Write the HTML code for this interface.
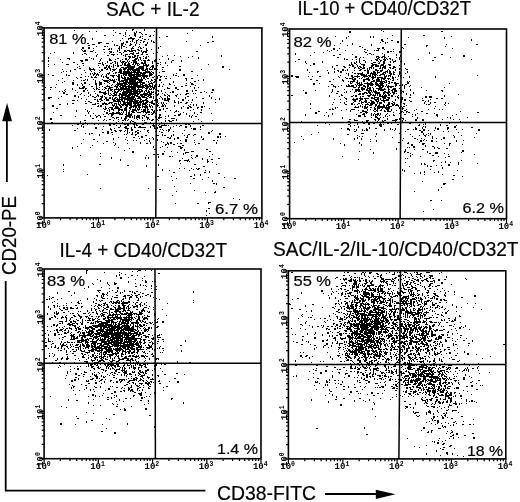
<!DOCTYPE html>
<html><head><meta charset="utf-8"><style>
html,body{margin:0;padding:0;background:#fff;width:520px;height:502px;overflow:hidden}
svg{display:block;filter:grayscale(100%)}
</style></head><body>
<svg width="520" height="502" viewBox="0 0 520 502">
<style>.tl{font-family:"Liberation Mono",monospace;font-weight:bold;font-size:9px;fill:#000}.t{font-family:"Liberation Sans",sans-serif;font-size:19px;fill:#000}.tx{font-family:"Liberation Sans",sans-serif;fill:#000;stroke:#000;stroke-width:0.2px}</style>
<path d="M162 86.5h1M120 72.5h1M130 53.5h1M156 82.5h1M143 83.5h2M120 65.5h2M146 98.5h2M141 109.5h1M135 90.5h1M137 92.5h1M139 74.5h2M141 91.5h1M131 120.5h1M137 75.5h1M121 81.5h2M140 89.5h1M133 97.5h1M143 106.5h1M145 110.5h1M142 115.5h2M138 136.5h1M129 61.5h1M138 103.5h1M141 80.5h1M120 99.5h2M135 101.5h1M142 86.5h2M148 109.5h1M140 95.5h1M133 121.5h1M139 101.5h1M130 82.5h1M142 87.5h1M140 80.5h1M115 61.5h1M128 65.5h1M135 60.5h1M149 69.5h1M138 74.5h1M143 78.5h2M134 82.5h1M132 79.5h1M127 93.5h1M145 88.5h2M135 101.5h2M118 88.5h1M127 116.5h1M142 120.5h1M131 100.5h2M156 70.5h1M109 81.5h1M140 91.5h2M130 89.5h2M121 85.5h2M137 56.5h1M121 83.5h1M124 73.5h1M143 100.5h1M147 118.5h1M135 88.5h1M142 94.5h1M125 78.5h1M112 71.5h1M141 79.5h1M119 84.5h1M125 56.5h1M130 103.5h1M134 94.5h1M127 78.5h2M133 85.5h2M117 76.5h1M141 73.5h2M151 101.5h2M138 87.5h1M118 112.5h2M115 92.5h2M137 94.5h1M146 76.5h1M127 91.5h2M109 111.5h1M133 101.5h1M153 72.5h1M129 87.5h1M154 81.5h2M133 71.5h2M139 75.5h1M127 84.5h1M162 105.5h1M141 84.5h1M135 98.5h1M132 54.5h2M143 82.5h1M123 72.5h2M130 79.5h1M136 43.5h1M142 75.5h2M146 105.5h1M133 91.5h1M122 67.5h2M141 111.5h1M122 93.5h1M123 97.5h1M138 116.5h1M146 77.5h1M137 123.5h1M132 101.5h2M132 98.5h1M122 92.5h1M125 99.5h1M131 113.5h1M147 87.5h1M134 105.5h1M118 74.5h1M134 86.5h2M123 90.5h1M142 94.5h2M144 72.5h2M157 90.5h2M136 95.5h1M144 97.5h1M149 89.5h2M134 74.5h1M116 93.5h1M142 74.5h2M116 75.5h1M115 97.5h2M111 103.5h1M134 80.5h1M149 71.5h1M135 70.5h2M135 110.5h2M125 82.5h2M143 56.5h1M132 83.5h1M134 79.5h1M142 86.5h1M144 92.5h1M113 80.5h2M127 96.5h2M145 84.5h2M141 60.5h1M137 55.5h2M149 76.5h1M140 107.5h1M127 103.5h2M119 82.5h1M139 96.5h1M135 127.5h1M135 71.5h1M118 80.5h2M148 84.5h2M151 109.5h2M118 119.5h1M147 60.5h1M127 88.5h2M141 79.5h1M120 105.5h1M152 100.5h1M129 38.5h2M140 68.5h2M123 97.5h1M140 107.5h1M137 98.5h2M120 73.5h1M145 108.5h1M114 86.5h1M140 99.5h2M137 115.5h1M133 90.5h1M128 50.5h2M152 87.5h2M150 87.5h1M145 97.5h2M123 71.5h1M131 93.5h2M124 98.5h1M124 97.5h2M145 86.5h1M114 92.5h1M132 68.5h1M139 80.5h1M134 90.5h1M132 95.5h1M128 59.5h1M126 83.5h1M118 84.5h1M129 71.5h1M132 47.5h1M139 106.5h1M123 101.5h1M124 99.5h2M130 86.5h1M137 95.5h1M128 85.5h2M147 87.5h2M137 70.5h1M152 84.5h1M121 62.5h1M144 109.5h2M120 85.5h2M131 85.5h1M129 86.5h1M122 105.5h2M126 79.5h1M126 47.5h1M153 66.5h1M140 95.5h1M136 111.5h1M133 124.5h1M152 65.5h1M134 95.5h2M123 82.5h1M145 104.5h1M134 72.5h1M126 79.5h1M129 95.5h1M126 89.5h1M156 100.5h2M145 71.5h1M141 109.5h1M131 69.5h1M132 97.5h2M142 111.5h1M133 97.5h2M153 88.5h2M135 79.5h2M146 75.5h1M127 54.5h1M121 104.5h1M144 106.5h1M141 84.5h2M132 41.5h1M127 91.5h1M111 94.5h1M125 68.5h2M135 78.5h2M123 78.5h2M125 91.5h1M132 97.5h1M135 83.5h1M135 76.5h1M125 89.5h1M140 80.5h1M134 56.5h2M137 71.5h1M125 91.5h1M158 86.5h2M119 89.5h1M132 82.5h1M123 95.5h1M157 69.5h1M147 119.5h1M149 86.5h2M130 68.5h2M124 86.5h2M144 60.5h2M146 58.5h1M134 62.5h1M123 93.5h2M158 93.5h1M139 85.5h1M147 71.5h2M131 93.5h1M134 97.5h1M146 56.5h1M123 95.5h2M128 99.5h1M134 81.5h2M139 138.5h1M142 103.5h1M130 75.5h1M140 99.5h2M134 75.5h1M115 100.5h1M134 101.5h1M132 117.5h1M132 80.5h1M130 106.5h1M144 87.5h1M129 65.5h2M140 72.5h1M127 65.5h2M159 85.5h1M124 84.5h1M112 62.5h1M126 111.5h1M134 104.5h1M147 88.5h1M126 62.5h1M146 90.5h1M130 90.5h1M136 72.5h1M140 81.5h1M144 85.5h2M134 110.5h1M153 73.5h1M133 80.5h1M146 122.5h1M146 48.5h1M138 80.5h1M129 93.5h1M144 63.5h1M120 109.5h1M121 70.5h1M129 93.5h1M120 89.5h2M130 95.5h1M148 91.5h2M129 90.5h1M120 73.5h2M130 99.5h1M126 71.5h1M132 70.5h1M135 71.5h1M120 103.5h1M129 97.5h1M135 64.5h1M142 100.5h1M133 89.5h2M133 75.5h1M146 103.5h1M115 81.5h1M130 107.5h2M130 79.5h1M136 78.5h2M155 68.5h1M117 54.5h1M129 112.5h1M125 50.5h1M134 66.5h1M149 83.5h2M150 81.5h1M141 87.5h1M123 94.5h1M140 76.5h1M125 116.5h2M146 107.5h1M131 78.5h1M140 76.5h1M149 119.5h1M141 102.5h1M126 99.5h2M122 83.5h1M126 83.5h1M149 102.5h1M133 70.5h1M125 93.5h2M129 92.5h1M112 95.5h1M135 82.5h2M132 72.5h1M137 116.5h1M118 72.5h1M129 79.5h1M125 82.5h2M149 104.5h1M124 110.5h2M125 94.5h1M143 74.5h2M132 98.5h2M143 82.5h2M128 83.5h2M138 82.5h1M127 103.5h1M132 89.5h1M113 77.5h1M123 98.5h1M122 78.5h2M138 87.5h1M116 108.5h1M128 82.5h1M137 102.5h1M135 62.5h1M135 61.5h1M134 99.5h2M132 64.5h1M144 77.5h1M128 79.5h1M121 99.5h1M131 87.5h1M124 124.5h1M139 109.5h1M120 89.5h1M143 112.5h1M142 96.5h1M125 88.5h1M119 109.5h1M137 65.5h2M147 87.5h1M144 39.5h2M134 85.5h2M128 85.5h1M128 69.5h1M134 109.5h2M128 56.5h1M127 99.5h1M132 91.5h1M97 101.5h1M119 78.5h1M134 117.5h1M129 58.5h1M138 87.5h2M157 99.5h1M142 97.5h2M142 80.5h1M133 89.5h1M124 77.5h2M126 102.5h2M117 58.5h2M143 103.5h1M138 72.5h2M130 114.5h1M124 85.5h1M127 97.5h1M125 79.5h1M138 86.5h2M148 71.5h1M125 71.5h1M142 124.5h2M121 87.5h1M130 99.5h1M114 75.5h1M128 87.5h1M130 73.5h1M137 78.5h2M155 113.5h2M136 53.5h1M140 101.5h2M113 100.5h1M144 95.5h2M116 75.5h1M140 101.5h1M124 85.5h1M132 77.5h1M126 90.5h1M135 94.5h1M147 78.5h2M135 85.5h2M128 91.5h1M137 82.5h1M152 86.5h1M136 72.5h1M142 80.5h1M170 78.5h1M129 82.5h1M134 55.5h2M137 49.5h2M140 59.5h1M133 97.5h2M133 50.5h2M117 108.5h2M124 76.5h1M132 72.5h1M136 105.5h2M145 57.5h2M126 90.5h1M127 95.5h2M120 101.5h1M147 86.5h2M131 69.5h2M136 75.5h1M135 103.5h1M139 107.5h2M138 60.5h1M129 94.5h1M134 89.5h1M125 59.5h1M139 91.5h1M150 102.5h2M175 102.5h1M136 86.5h2M115 72.5h1M144 87.5h1M142 120.5h1M167 94.5h1M131 101.5h1M131 97.5h1M128 102.5h1M123 83.5h1M112 84.5h1M125 62.5h2M134 122.5h2M141 67.5h2M144 94.5h1M132 79.5h1M141 81.5h1M125 84.5h1M148 114.5h2M126 72.5h2M139 112.5h1M125 96.5h1M145 69.5h2M132 84.5h1M133 93.5h1M134 123.5h1M131 82.5h1M132 97.5h1M126 54.5h1M134 109.5h1M142 63.5h1M143 63.5h2M142 70.5h2M137 104.5h2M112 112.5h2M130 81.5h1M139 104.5h2M124 86.5h1M142 75.5h1M120 91.5h1M130 82.5h2M114 80.5h1M132 98.5h1M133 103.5h2M138 89.5h1M137 82.5h1M130 78.5h1M142 52.5h1M141 87.5h1M136 82.5h1M132 96.5h1M144 72.5h1M116 89.5h1M134 109.5h1M119 84.5h1M133 109.5h1M145 79.5h1M124 94.5h1M132 98.5h1M130 72.5h2M135 63.5h1M139 104.5h1M144 94.5h1M138 63.5h1M137 83.5h1M152 72.5h2M141 89.5h1M132 80.5h1M132 74.5h1M124 65.5h2M130 77.5h2M129 95.5h1M120 94.5h2M128 68.5h2M134 81.5h2M125 86.5h1M140 94.5h2M143 109.5h1M135 89.5h1M143 101.5h1M126 104.5h1M137 49.5h1M131 89.5h1M105 94.5h1M129 117.5h1M138 69.5h1M137 92.5h1M125 91.5h1M134 77.5h2M123 102.5h1M154 82.5h1M134 92.5h2M107 82.5h2M150 97.5h2M137 69.5h1M140 73.5h1M120 107.5h1M148 86.5h2M124 80.5h1M144 63.5h2M141 63.5h1M141 95.5h1M134 83.5h1M136 96.5h1M140 94.5h1M127 104.5h2M112 69.5h1M137 79.5h1M119 81.5h2M115 97.5h2M151 86.5h2M121 99.5h1M136 86.5h1M133 96.5h1M131 98.5h1M126 110.5h1M146 51.5h1M163 103.5h1M138 88.5h1M125 71.5h1M121 98.5h1M155 86.5h1M128 113.5h2M125 82.5h1M116 107.5h1M150 93.5h1M108 108.5h1M135 105.5h1M139 97.5h1M147 96.5h2M139 75.5h1M138 74.5h1M135 94.5h1M128 92.5h1M131 78.5h1M128 72.5h1M143 102.5h1M142 97.5h1M121 67.5h1M148 71.5h1M126 88.5h2M129 84.5h1M134 76.5h1M134 78.5h1M126 51.5h1M126 111.5h1M148 56.5h1M151 94.5h1M133 92.5h1M125 71.5h2M128 99.5h1M132 60.5h1M157 95.5h1M154 68.5h1M155 99.5h2M124 94.5h1M131 111.5h1M124 93.5h1M126 88.5h1M122 62.5h2M133 69.5h1M141 101.5h1M141 82.5h1M139 67.5h1M151 91.5h1M133 79.5h1M160 62.5h1M144 87.5h1M127 70.5h1M145 112.5h1M132 121.5h1M143 69.5h1M129 114.5h2M110 113.5h1M124 74.5h1M119 70.5h1M128 86.5h1M127 98.5h2M136 102.5h1M128 98.5h1M144 74.5h1M130 74.5h2M146 139.5h1M143 110.5h1M116 99.5h1M104 87.5h2M139 82.5h2M122 98.5h1M143 76.5h1M142 76.5h2M130 41.5h1M131 73.5h1M140 67.5h1M122 73.5h2M142 70.5h2M151 79.5h1M140 98.5h1M113 96.5h1M143 85.5h1M123 112.5h1M135 69.5h2M121 97.5h2M139 105.5h1M143 111.5h2M117 85.5h1M123 80.5h1M117 91.5h1M142 104.5h1M143 60.5h1M131 99.5h1M129 61.5h1M125 89.5h1M134 38.5h1M112 97.5h1M129 72.5h1M134 82.5h2M134 80.5h1M145 93.5h1M129 87.5h1M151 71.5h1M130 68.5h2M152 61.5h1M135 91.5h1M129 51.5h2M117 64.5h1M126 89.5h1M129 105.5h1M129 89.5h1M139 92.5h2M127 128.5h1M137 85.5h1M139 64.5h1M115 73.5h1M133 79.5h2M120 85.5h1M123 68.5h2M119 83.5h1M129 72.5h1M165 62.5h1M123 97.5h1M117 76.5h2M127 90.5h1M133 75.5h1M125 80.5h1M123 103.5h2M127 82.5h2M131 104.5h1M127 100.5h1M130 109.5h1M125 93.5h2M110 87.5h2M143 93.5h1M135 74.5h1M124 79.5h1M114 113.5h2M139 79.5h2M137 85.5h1M125 83.5h2M153 103.5h1M140 83.5h1M136 90.5h2M162 93.5h1M139 64.5h1M130 102.5h2M137 90.5h1M135 104.5h1M128 89.5h1M131 97.5h2M150 69.5h1M125 78.5h1M113 93.5h1M135 76.5h1M134 115.5h1M130 93.5h2M135 83.5h2M127 131.5h1M151 105.5h1M147 104.5h1M118 91.5h1M132 91.5h1M137 64.5h1M131 71.5h1M127 104.5h2M118 80.5h1M150 67.5h1M146 50.5h2M152 92.5h1M137 89.5h2M125 96.5h2M134 94.5h1M137 84.5h1M121 67.5h1M151 91.5h1M134 81.5h1M144 96.5h1M138 67.5h1M149 94.5h1M153 96.5h1M132 60.5h1M160 117.5h2M128 95.5h1M152 103.5h1M124 91.5h2M138 98.5h1M160 64.5h1M133 111.5h1M113 76.5h1M140 112.5h1M138 115.5h1M145 95.5h1M127 50.5h1M135 106.5h2M147 76.5h1M156 56.5h1M129 69.5h2M125 75.5h1M128 96.5h2M138 39.5h1M134 105.5h1M106 120.5h1M136 103.5h1M131 91.5h1M147 102.5h1M120 61.5h1M131 97.5h1M130 82.5h1M153 67.5h1M125 98.5h1M105 87.5h1M136 75.5h1M143 58.5h1M136 77.5h1M127 120.5h1M159 72.5h1M113 120.5h1M145 90.5h1M148 92.5h1M131 91.5h1M137 100.5h1M126 59.5h1M119 95.5h1M133 81.5h1M123 92.5h1M125 94.5h1M137 91.5h1M127 71.5h2M126 65.5h2M133 94.5h1M132 30.5h1M134 85.5h1M133 74.5h1M135 71.5h1M119 77.5h1M141 79.5h2M140 84.5h1M140 72.5h1M141 90.5h2M159 114.5h1M132 94.5h1M133 97.5h1M137 96.5h1M140 85.5h1M110 75.5h2M138 50.5h1M132 72.5h1M101 100.5h1M151 114.5h2M130 98.5h1M123 103.5h1M151 80.5h2M153 98.5h1M138 107.5h1M125 85.5h1M137 90.5h1M118 88.5h1M130 105.5h2M132 84.5h1M134 90.5h2M137 65.5h1M150 72.5h1M132 70.5h2M149 97.5h1M114 79.5h1M125 108.5h1M138 91.5h1M130 80.5h1M139 66.5h2M133 69.5h1M134 83.5h1M140 101.5h1M149 93.5h1M121 65.5h1M137 100.5h1M144 70.5h1M133 63.5h1M126 96.5h1M132 78.5h2M128 87.5h1M127 65.5h2M163 84.5h1M139 96.5h1M126 91.5h2M125 105.5h1M132 70.5h1M116 95.5h1M144 116.5h1M126 113.5h1M146 93.5h1M132 97.5h1M117 65.5h1M132 80.5h1M138 98.5h2M133 105.5h1M157 104.5h1M142 82.5h1M140 95.5h1M143 86.5h1M145 90.5h1M121 80.5h1M148 81.5h1M140 105.5h1M146 95.5h1M126 75.5h1M123 52.5h1M138 47.5h1M148 90.5h1M131 72.5h2M133 66.5h2M149 92.5h1M152 77.5h2M118 107.5h1M133 86.5h1M122 89.5h2M155 59.5h2M131 73.5h1M136 85.5h1M155 84.5h1M131 77.5h1M126 134.5h1M158 105.5h1M131 76.5h1M127 41.5h1M130 87.5h2M137 53.5h1M137 87.5h1M136 111.5h1M146 106.5h1M141 78.5h1M151 66.5h2M127 99.5h1M138 78.5h1M115 107.5h1M122 59.5h1M152 110.5h1M90 70.5h1M128 75.5h1M96 96.5h1M104 102.5h1M147 92.5h2M111 107.5h1M128 68.5h1M135 72.5h1M122 94.5h1M91 58.5h1M102 103.5h1M156 68.5h1M119 52.5h2M160 96.5h1M84 53.5h2M124 83.5h1M106 104.5h2M145 34.5h2M126 87.5h1M126 80.5h1M94 72.5h1M93 50.5h1M181 86.5h2M115 101.5h2M122 104.5h1M137 72.5h1M178 103.5h1M111 85.5h1M99 72.5h1M121 75.5h1M121 95.5h2M119 110.5h1M156 74.5h1M107 110.5h1M66 71.5h1M134 71.5h1M116 86.5h1M114 91.5h1M172 120.5h2M110 93.5h1M153 94.5h1M121 96.5h1M122 95.5h2M125 44.5h1M139 89.5h2M130 68.5h1M136 116.5h2M119 108.5h1M129 100.5h1M146 81.5h1M120 106.5h1M144 73.5h2M127 78.5h2M130 101.5h2M129 111.5h1M126 30.5h1M111 132.5h2M125 86.5h1M77 78.5h1M104 89.5h1M123 75.5h1M117 84.5h1M122 120.5h2M143 47.5h1M102 86.5h1M132 100.5h1M103 49.5h2M84 95.5h1M126 41.5h1M134 94.5h1M140 95.5h1M163 71.5h2M124 92.5h1M169 84.5h2M145 51.5h1M129 96.5h1M125 51.5h1M115 59.5h1M113 101.5h1M119 101.5h1M127 89.5h1M145 94.5h2M109 79.5h1M167 55.5h1M132 86.5h1M116 68.5h1M114 95.5h2M110 63.5h2M128 100.5h1M145 102.5h1M92 118.5h2M115 89.5h2M86 123.5h1M155 89.5h2M138 106.5h2M139 86.5h1M153 103.5h2M123 104.5h2M93 74.5h1M109 107.5h2M123 93.5h1M113 105.5h2M106 69.5h1M138 59.5h1M123 69.5h2M128 69.5h1M109 102.5h2M124 46.5h1M138 102.5h1M118 75.5h1M76 77.5h1M161 106.5h2M149 104.5h1M133 89.5h1M127 95.5h1M154 61.5h1M135 72.5h1M122 101.5h1M108 89.5h1M94 69.5h1M137 40.5h1M119 94.5h2M82 87.5h2M100 71.5h1M132 112.5h1M120 114.5h2M131 90.5h1M131 127.5h1M104 99.5h1M118 95.5h1M137 85.5h1M81 98.5h1M159 37.5h1M99 87.5h1M185 94.5h1M121 46.5h1M147 75.5h1M101 92.5h2M141 54.5h1M126 98.5h2M99 70.5h1M85 79.5h1M132 88.5h1M113 124.5h2M81 77.5h1M130 97.5h1M109 97.5h1M139 87.5h1M121 54.5h1M87 90.5h1M132 75.5h1M121 45.5h2M93 79.5h1M130 114.5h1M132 116.5h1M131 94.5h1M134 61.5h2M190 104.5h1M153 65.5h1M159 59.5h1M121 114.5h2M152 66.5h1M141 84.5h2M140 84.5h1M136 59.5h1M114 99.5h1M126 117.5h1M118 76.5h1M135 85.5h1M124 92.5h1M115 95.5h1M117 112.5h2M126 68.5h1M129 93.5h1M109 83.5h1M119 101.5h1M152 119.5h2M133 46.5h1M152 77.5h1M138 70.5h2M129 65.5h2M119 94.5h2M97 101.5h1M117 82.5h1M155 84.5h1M121 72.5h1M133 82.5h1M114 100.5h1M127 86.5h1M141 75.5h1M112 91.5h1M135 84.5h1M100 42.5h1M164 89.5h1M137 57.5h1M116 106.5h1M125 68.5h2M126 58.5h1M115 63.5h1M122 114.5h1M140 79.5h1M117 101.5h2M129 132.5h1M112 84.5h1M144 109.5h1M165 111.5h1M159 116.5h1M99 85.5h1M145 111.5h1M136 118.5h1M110 88.5h1M108 43.5h1M154 79.5h1M96 85.5h1M141 69.5h2M136 82.5h1M143 64.5h1M123 93.5h1M125 86.5h2M124 110.5h1M136 84.5h2M129 54.5h1M140 101.5h2M93 96.5h1M137 112.5h2M178 76.5h1M116 84.5h1M126 81.5h2M133 53.5h1M95 52.5h1M104 116.5h2M122 83.5h1M111 109.5h2M112 134.5h1M85 72.5h1M129 123.5h1M134 137.5h1M136 91.5h2M134 101.5h1M153 82.5h2M128 77.5h1M103 92.5h1M132 89.5h1M134 60.5h1M151 103.5h1M128 75.5h1M110 63.5h2M124 82.5h1M151 120.5h2M141 101.5h1M91 77.5h2M115 62.5h1M134 35.5h2M127 60.5h1M144 116.5h1M143 47.5h1M117 92.5h1M162 71.5h1M109 60.5h1M136 69.5h2M111 63.5h1M121 69.5h1M101 69.5h2M146 57.5h1M168 95.5h2M133 64.5h1M107 73.5h2M130 76.5h2M107 90.5h2M135 63.5h1M106 65.5h2M118 48.5h2M120 97.5h2M117 106.5h1M109 53.5h1M125 114.5h2M113 99.5h1M127 104.5h2M166 76.5h1M130 78.5h2M135 106.5h1M127 61.5h1M141 77.5h1M94 74.5h1M141 63.5h1M113 106.5h1M178 111.5h1M147 108.5h1M130 83.5h1M120 130.5h1M132 123.5h2M102 74.5h1M119 130.5h1M142 66.5h1M103 76.5h1M135 107.5h2M130 81.5h1M138 96.5h1M146 100.5h1M139 32.5h1M137 116.5h1M128 68.5h1M149 114.5h1M114 61.5h1M121 87.5h2M123 72.5h1M94 77.5h2M145 52.5h2M151 49.5h1M125 118.5h2M122 61.5h1M152 137.5h1M128 114.5h1M115 98.5h1M134 92.5h1M104 94.5h1M104 96.5h1M190 86.5h1M116 97.5h1M120 69.5h1M140 72.5h1M165 92.5h1M125 94.5h1M125 95.5h1M103 80.5h1M127 77.5h1M144 120.5h1M114 93.5h1M116 122.5h1M180 56.5h1M94 99.5h2M111 60.5h1M131 81.5h2M131 103.5h1M90 74.5h1M154 85.5h1M116 79.5h1M137 100.5h1M106 108.5h1M138 52.5h1M122 81.5h1M140 42.5h1M105 63.5h1M122 104.5h1M115 69.5h1M125 62.5h1M149 68.5h1M116 45.5h2M108 114.5h1M113 114.5h1M98 65.5h1M134 85.5h1M132 79.5h2M134 93.5h1M107 55.5h2M79 66.5h1M126 88.5h1M115 86.5h1M104 80.5h2M132 57.5h1M101 42.5h1M140 86.5h2M116 107.5h1M124 108.5h1M150 74.5h1M129 45.5h2M157 65.5h1M129 115.5h1M144 95.5h1M109 48.5h1M104 83.5h1M146 77.5h1M112 87.5h1M125 95.5h2M119 69.5h1M103 114.5h1M127 79.5h1M136 58.5h1M114 108.5h2M145 103.5h1M94 73.5h1M133 107.5h1M129 88.5h1M133 83.5h1M102 79.5h1M145 58.5h2M135 69.5h1M99 99.5h1M129 89.5h1M123 82.5h1M125 51.5h1M80 77.5h1M149 74.5h1M132 106.5h1M160 46.5h1M151 112.5h1M134 85.5h1M123 55.5h1M81 61.5h1M146 81.5h1M143 51.5h2M126 118.5h1M144 94.5h1M151 88.5h1M120 131.5h1M100 84.5h2M123 81.5h1M158 75.5h2M110 60.5h1M158 120.5h1M175 75.5h2M140 127.5h2M134 96.5h1M150 85.5h1M112 102.5h1M127 69.5h2M155 69.5h2M130 70.5h1M117 117.5h2M124 82.5h1M106 93.5h1M129 110.5h1M139 96.5h1M128 86.5h1M130 90.5h2M144 65.5h1M156 87.5h1M114 101.5h1M152 68.5h1M108 86.5h2M128 91.5h1M145 114.5h1M111 80.5h1M125 58.5h1M103 120.5h1M153 112.5h2M124 91.5h2M126 51.5h1M151 89.5h1M130 84.5h1M129 80.5h1M119 89.5h1M174 55.5h1M126 104.5h1M134 82.5h2M101 70.5h2M133 57.5h2M143 52.5h1M119 86.5h2M116 89.5h1M120 89.5h1M141 80.5h2M128 72.5h1M129 78.5h2M134 99.5h1M119 112.5h1M119 100.5h1M117 91.5h1M105 76.5h2M104 81.5h1M126 79.5h1M134 42.5h1M111 66.5h1M145 112.5h1M94 44.5h1M118 137.5h1M102 89.5h1M140 97.5h1M74 69.5h2M77 64.5h1M153 111.5h2M153 53.5h1M97 94.5h1M137 119.5h1M133 97.5h1M106 77.5h2M82 54.5h1M116 72.5h1M135 58.5h1M83 51.5h1M118 108.5h1M103 92.5h2M89 111.5h1M133 79.5h1M133 54.5h1M85 103.5h2M96 88.5h2M115 103.5h2M107 68.5h1M133 110.5h1M115 85.5h1M126 91.5h2M131 48.5h1M109 119.5h2M144 100.5h1M103 108.5h1M150 106.5h1M80 60.5h2M108 103.5h2M124 72.5h1M97 106.5h1M84 120.5h2M95 82.5h1M134 112.5h1M140 84.5h1M120 85.5h1M125 107.5h2M128 119.5h1M137 77.5h1M146 54.5h2M152 83.5h1M92 96.5h1M131 91.5h1M118 66.5h1M88 101.5h1M111 94.5h1M128 91.5h2M114 94.5h1M139 93.5h1M105 88.5h2M112 87.5h1M140 58.5h1M107 46.5h1M100 96.5h1M113 100.5h1M119 79.5h1M72 125.5h1M125 95.5h1M127 131.5h1M65 91.5h1M60 115.5h2M72 88.5h1M136 134.5h1M134 93.5h2M85 109.5h1M72 84.5h2M129 100.5h2M98 89.5h1M107 86.5h1M81 93.5h1M120 106.5h1M125 67.5h1M137 90.5h1M95 81.5h1M107 113.5h1M168 100.5h1M91 51.5h2M77 92.5h1M93 88.5h1M98 63.5h2M90 102.5h2M115 106.5h1M123 46.5h1M129 82.5h1M134 118.5h1M115 98.5h1M96 89.5h1M100 59.5h1M90 73.5h1M81 80.5h1M135 100.5h1M162 56.5h1M73 100.5h2M134 67.5h1M140 48.5h2M111 102.5h1M136 96.5h1M95 76.5h1M98 101.5h1M113 112.5h1M55 87.5h1M148 39.5h1M138 100.5h1M139 81.5h2M107 80.5h2M45 87.5h1M139 46.5h1M86 99.5h1M118 83.5h1M137 76.5h2M119 93.5h1M128 70.5h1M106 43.5h2M124 100.5h1M95 93.5h1M202 98.5h2M157 94.5h2M122 38.5h1M93 75.5h1M118 121.5h1M104 119.5h1M136 75.5h1M128 97.5h1M139 44.5h1M124 100.5h1M93 104.5h1M99 63.5h1M112 99.5h1M72 89.5h1M140 89.5h1M146 44.5h1M104 93.5h2M119 93.5h2M149 105.5h1M128 100.5h1M145 72.5h1M109 113.5h1M111 108.5h1M108 88.5h1M140 66.5h2M73 103.5h1M139 57.5h2M177 94.5h1M159 98.5h1M159 114.5h2M170 121.5h2M168 120.5h2M158 103.5h1M161 122.5h1M156 98.5h1M164 104.5h1M175 111.5h1M158 91.5h1M180 102.5h2M157 110.5h1M157 102.5h1M156 99.5h2M170 110.5h1M161 97.5h1M166 108.5h2M156 100.5h1M174 105.5h1M157 101.5h1M165 95.5h1M169 98.5h1M174 100.5h1M168 98.5h1M167 98.5h1M190 110.5h1M159 107.5h1M165 116.5h1M178 102.5h1M172 118.5h1M185 97.5h1M166 103.5h1M161 76.5h1M165 116.5h1M174 112.5h1M170 92.5h1M165 118.5h1M175 95.5h2M176 111.5h1M168 99.5h1M185 85.5h2M188 100.5h1M191 78.5h2M201 92.5h1M201 121.5h1M174 115.5h2M178 101.5h1M193 109.5h1M192 99.5h1M197 75.5h1M187 96.5h2M174 106.5h1M190 107.5h2M156 59.5h1M162 104.5h1M196 97.5h1M165 78.5h2M168 101.5h1M157 63.5h2M180 94.5h1M159 84.5h1M188 105.5h1M136 125.5h1M147 131.5h1M136 131.5h1M107 133.5h2M136 124.5h1M125 128.5h2M103 143.5h1M138 127.5h1M148 132.5h1M142 127.5h1M131 134.5h2M144 127.5h2M97 141.5h1M114 130.5h2M102 129.5h1M133 140.5h1M125 139.5h1M102 132.5h2M120 125.5h1M153 154.5h2M146 143.5h2M124 134.5h1M116 125.5h1M142 127.5h2M128 128.5h1M125 126.5h1M144 140.5h1M127 143.5h1M144 129.5h1M126 137.5h1M124 131.5h1M113 124.5h2M135 131.5h2M115 131.5h2M125 130.5h1M163 142.5h1M179 126.5h1M188 124.5h2M174 139.5h1M165 125.5h2M161 127.5h1M156 135.5h1M178 146.5h1M173 126.5h1M156 135.5h1M174 138.5h1M211 131.5h1M184 135.5h1M191 128.5h1M180 163.5h1M173 144.5h2M164 135.5h2M186 152.5h2M212 162.5h1M163 130.5h1M194 134.5h2M171 151.5h1M162 135.5h1M170 137.5h1M169 138.5h2M168 125.5h1M198 143.5h2M209 156.5h1M185 124.5h2M176 125.5h1M159 124.5h1M185 124.5h2M195 144.5h1M181 147.5h2M164 151.5h1M180 143.5h2M202 139.5h2M194 164.5h2M194 140.5h1M180 140.5h1M192 151.5h1M194 142.5h1M165 144.5h2M173 131.5h1M181 147.5h2M179 146.5h2M180 125.5h1M170 143.5h1M182 158.5h1M160 129.5h1M167 147.5h1M161 141.5h1M166 130.5h1M173 144.5h2M157 135.5h1M162 129.5h1M191 151.5h1M182 133.5h1M181 125.5h1M211 159.5h2M159 124.5h1M161 132.5h2M170 142.5h2M172 156.5h1M191 155.5h1M172 180.5h1M199 143.5h1M203 138.5h1M157 154.5h2M161 127.5h1M158 125.5h1M184 160.5h2M182 145.5h2M187 152.5h2M209 151.5h2M195 157.5h1M191 168.5h1M176 191.5h1M206 149.5h2M197 169.5h2M203 166.5h2M205 192.5h1M204 172.5h2M198 168.5h2M193 178.5h2M192 151.5h2M191 157.5h1M213 183.5h2M139 50.5h1M127 106.5h1M110 59.5h1M97 103.5h2M114 118.5h1M84 70.5h1M202 125.5h2M225 136.5h1M156 108.5h1M121 90.5h1M89 133.5h1M52 75.5h2M189 161.5h1M104 46.5h2M94 97.5h2M153 35.5h1M185 103.5h2M133 88.5h2M182 86.5h1M195 93.5h1M209 213.5h1M103 126.5h1M79 68.5h2M127 88.5h1M142 105.5h1M96 31.5h1M99 67.5h1M192 30.5h1M127 130.5h1M93 48.5h1M154 149.5h2M134 32.5h1M77 100.5h1M106 86.5h1M74 130.5h1M202 179.5h1M170 137.5h1M56 108.5h2M133 137.5h1M100 63.5h1M167 65.5h1M104 68.5h2M80 94.5h1M239 199.5h1M109 51.5h1M109 68.5h2M91 76.5h1M85 88.5h2M170 143.5h2M75 90.5h1M191 102.5h1M77 146.5h1M122 113.5h1M107 85.5h1M187 33.5h1M162 146.5h1M194 190.5h1M193 135.5h1M97 54.5h1M62 69.5h1M99 164.5h2M189 106.5h2M98 115.5h1M176 96.5h1M83 139.5h1M63 171.5h1M140 131.5h1M104 35.5h2M113 35.5h1M184 130.5h1M114 145.5h1M92 104.5h1M190 176.5h2M113 142.5h1M85 133.5h1M212 154.5h1M125 62.5h1M213 140.5h2M73 62.5h2M177 152.5h1M50 89.5h1M83 65.5h1M107 112.5h1M155 128.5h1M177 89.5h2M209 202.5h2M164 100.5h2M215 191.5h1M80 88.5h2M96 77.5h1M85 115.5h1M171 118.5h2M142 34.5h1M117 87.5h1M146 155.5h1M92 73.5h1M77 67.5h1M186 102.5h2M154 100.5h1M198 119.5h1M64 90.5h1M140 47.5h1M48 64.5h1M164 95.5h1M128 100.5h1M157 52.5h1M176 73.5h1M179 66.5h2M166 100.5h2M80 122.5h1M108 49.5h2M141 33.5h1M206 215.5h1M187 93.5h2M169 83.5h1M212 120.5h1M147 130.5h2M94 70.5h1M194 81.5h2M125 36.5h1M113 54.5h2M81 83.5h1M153 124.5h1M186 160.5h1M48 66.5h1M72 103.5h2M196 51.5h2M177 143.5h1M50 87.5h2M67 64.5h2M112 89.5h1M114 128.5h1M172 195.5h1M229 69.5h1M127 64.5h1M83 80.5h2M140 40.5h2M157 76.5h1M196 168.5h1M173 118.5h2M77 84.5h1M75 116.5h1M190 183.5h1M157 176.5h2M161 82.5h1M59 104.5h2M112 117.5h2M85 122.5h1M193 169.5h1M81 143.5h1M142 36.5h1M201 69.5h1M200 45.5h1M54 64.5h1M88 96.5h1M162 125.5h2M63 169.5h1M178 98.5h1M156 70.5h1M137 130.5h2M169 99.5h1M87 124.5h1M156 107.5h1M115 32.5h1M120 40.5h1M136 117.5h2M172 60.5h2M121 54.5h1M98 115.5h2M88 45.5h2M149 86.5h1M95 73.5h1M96 46.5h1M179 168.5h1M124 69.5h2M193 93.5h1M188 57.5h1M100 91.5h1M54 52.5h1M82 50.5h1M89 134.5h1M140 36.5h1M205 170.5h1M136 42.5h1M75 130.5h1M157 90.5h1M99 89.5h1M106 80.5h1M183 112.5h1M63 71.5h1M100 188.5h1M118 127.5h2M122 86.5h1M176 123.5h1M91 71.5h1M87 174.5h1M183 106.5h1M130 53.5h2M156 97.5h1M153 42.5h2M180 160.5h1M91 133.5h2M153 97.5h1M94 89.5h1M151 69.5h2M175 203.5h1M208 208.5h2M185 127.5h1M212 130.5h1M197 108.5h1M145 45.5h2M67 58.5h2M127 165.5h2M56 84.5h1M132 53.5h1M160 115.5h1M224 177.5h1M149 36.5h1M147 130.5h1M88 101.5h2M132 48.5h2M138 39.5h1M99 61.5h1M209 108.5h1M87 43.5h2M189 170.5h1M90 147.5h1M151 74.5h2M113 99.5h1M118 147.5h1M81 74.5h1M193 84.5h1M127 140.5h1M133 92.5h2M135 50.5h1M132 29.5h2M148 188.5h1M186 41.5h1M100 92.5h1M82 124.5h2M149 95.5h2M112 113.5h1M171 176.5h1M73 80.5h1M116 89.5h2M60 59.5h1M145 135.5h2M110 113.5h2M204 91.5h1M72 100.5h1M200 129.5h1M159 131.5h1M129 88.5h1M100 83.5h1M131 77.5h1M104 67.5h2M162 69.5h1M190 82.5h1M113 52.5h1M191 71.5h2M125 123.5h1M153 77.5h1M176 178.5h1M96 84.5h1M58 80.5h1M208 64.5h1M53 112.5h1M122 44.5h1M48 74.5h1M61 96.5h1M102 64.5h2M164 76.5h1M77 128.5h1M135 36.5h1M86 54.5h1M188 134.5h2M158 135.5h1M141 77.5h1M216 164.5h1M169 170.5h1M85 76.5h1M91 108.5h1M192 158.5h1M200 92.5h1M159 189.5h2M100 156.5h1M143 47.5h1M50 97.5h2M66 64.5h1M135 51.5h1M132 72.5h2M101 58.5h1M93 113.5h1M104 111.5h1M185 78.5h2M62 62.5h1M139 104.5h1M152 113.5h2M174 186.5h1M115 65.5h1M113 73.5h1M195 85.5h1M174 85.5h1M193 123.5h1M129 148.5h1M124 150.5h1M130 44.5h2M88 76.5h1M100 123.5h2M103 77.5h1M90 51.5h1M97 123.5h1M157 119.5h1M206 92.5h1M154 76.5h1M139 37.5h2M93 139.5h2M204 106.5h1M211 92.5h2M119 113.5h1M118 89.5h2M128 97.5h1M94 124.5h1M214 192.5h2M153 111.5h1M131 81.5h2M198 87.5h1M176 110.5h1M147 54.5h1M82 63.5h2M102 100.5h1M58 98.5h1M137 125.5h1M120 114.5h1M217 140.5h1M141 111.5h1M138 85.5h1M112 41.5h1M160 147.5h1M97 116.5h1M100 60.5h1M98 120.5h1M92 145.5h1M166 36.5h2M169 156.5h2M100 153.5h1M106 141.5h2M186 137.5h2M131 62.5h1M212 41.5h2M168 88.5h2M207 42.5h2M146 49.5h1M82 85.5h1M81 49.5h1M208 161.5h1M167 137.5h2M95 80.5h1M64 81.5h1M121 130.5h1M85 101.5h1M89 57.5h1M124 127.5h2M115 86.5h2M198 80.5h1M89 31.5h1M144 115.5h1M144 41.5h1M119 81.5h1M83 91.5h2M233 198.5h1M156 80.5h1M193 121.5h1M136 63.5h2M147 112.5h1M61 72.5h1M59 91.5h1M91 69.5h2M154 31.5h1M146 107.5h2M148 112.5h1M101 98.5h1M223 187.5h2M234 178.5h2M130 103.5h1M74 30.5h1M89 84.5h1M134 81.5h1M136 140.5h1M173 172.5h2M81 60.5h1M168 131.5h1M211 113.5h1M200 112.5h2M91 86.5h2M186 83.5h1M197 107.5h2M50 53.5h1M94 104.5h2M167 147.5h1M140 32.5h1M192 56.5h1M152 125.5h1M62 91.5h1M109 95.5h2M113 30.5h1M195 116.5h2M94 91.5h1M104 109.5h1M65 89.5h1M218 158.5h2M47 175.5h1M195 90.5h2M106 69.5h2M121 112.5h1M159 131.5h1M126 84.5h1M116 125.5h1M97 95.5h2M100 101.5h1M184 168.5h1M208 177.5h1M99 81.5h1M80 155.5h1M108 74.5h1M88 93.5h1M66 94.5h2M215 102.5h1M197 114.5h1M147 101.5h2M142 38.5h1M124 61.5h1M129 35.5h1M155 131.5h2M148 60.5h2M68 75.5h2M215 99.5h1M62 82.5h1M192 115.5h1M62 78.5h1M149 138.5h1M162 67.5h2M137 58.5h1M98 124.5h1M197 203.5h2M119 33.5h2M104 52.5h1M92 44.5h2M111 54.5h2M123 35.5h1M95 115.5h1M218 173.5h2" stroke="#000" stroke-width="1" fill="none" shape-rendering="crispEdges"/>
<path d="M129 82h1M120 126h1M134 79h1M129 108h1M112 108h1M130 93h1M130 67h1M138 73h1M127 91h1M124 98h2M146 99h1M146 90h1M139 109h1M133 53h1M155 80h2M135 104h1M132 100h1M128 104h2M146 106h1M130 104h1M127 65h1M121 77h1M118 104h1M131 69h1M145 105h1M158 118h2M120 69h1M151 74h1M125 33h1M134 80h2M132 57h1M136 101h1M145 62h1M115 95h2M113 76h1M125 94h1M150 97h1M130 38h2M142 101h2M154 82h1M142 83h1M138 76h2M131 87h1M143 73h1M126 92h2M133 106h2M125 81h1M130 106h1M140 105h1M129 66h1M131 97h1M157 78h1M137 109h1M129 91h1M125 120h1M143 77h1M131 128h1M137 72h1M149 85h1M137 82h1M137 104h1M136 93h1M124 86h1M137 87h2M133 99h1M133 112h1M134 66h1M124 119h2M128 67h2M130 44h1M121 99h1M136 74h1M144 62h2M128 100h1M114 99h1M132 67h1M124 72h2M113 106h1M136 93h1M142 107h1M134 102h1M132 133h1M125 104h1M150 75h2M147 101h1M126 74h1M129 99h1M131 81h2M130 92h1M141 51h1M138 69h1M137 86h1M152 107h1M128 88h1M126 95h1M139 72h1M139 102h1M129 99h1M138 97h2M133 84h2M127 125h2M125 64h1M136 41h1M139 118h1M123 94h1M122 64h1M121 72h1M133 75h1M130 76h2M133 90h2M159 80h2M123 88h1M136 62h1M149 76h1M130 106h2M136 117h1M132 79h1M142 86h2M133 102h1M115 92h1M130 106h1M130 102h1M132 39h2M140 100h1M147 66h1M148 60h1M118 111h1M121 48h1M148 112h1M132 88h1M130 122h1M125 99h1M154 87h1M128 97h1M120 88h1M149 74h2M144 76h2M118 78h2M155 93h2M127 67h1M128 63h1M134 84h1M114 90h1M118 110h1M121 54h1M127 131h1M140 80h1M151 92h1M121 88h1M148 65h1M133 68h1M140 73h2M148 72h2M128 64h1M141 96h2M138 71h1M139 69h1M119 97h1M124 89h1M149 106h1M136 101h2M119 50h1M138 97h2M121 98h1M128 90h1M121 110h2M113 67h1M127 72h2M143 87h1M130 108h1M145 71h1M131 80h1M131 84h2M146 86h2M133 77h2M146 113h1M133 102h1M152 67h2M123 92h2M132 75h1M123 86h2M132 87h2M134 88h1M137 117h2M133 75h1M135 92h1M136 75h1M130 115h2M135 108h1M127 61h1M140 76h1M147 71h1M135 77h2M146 72h1M154 111h1M129 95h2M132 111h1M134 92h1M132 88h1M135 78h1M146 91h1M124 71h1M127 80h1M150 127h1M147 109h1M142 97h2M142 68h2M126 112h1M151 89h1M122 89h1M128 113h1M160 77h1M140 102h1M144 104h1M99 83h2M144 92h1M136 117h1M147 107h1M118 110h2M143 66h1M139 117h1M147 72h1M143 104h1M147 72h1M136 69h2M150 94h2M126 68h1M113 55h1M155 100h1M145 100h1M131 76h1M124 78h1M131 93h1M126 106h1M145 45h1M107 81h1M128 95h1M146 88h2M118 66h1M129 102h1M127 100h1M129 92h1M140 75h1M144 93h1M126 84h1M123 93h1M121 107h1M137 103h1M119 75h1M129 86h1M154 61h2M119 90h1M128 75h2M120 71h1M152 63h1M142 87h2M139 90h1M140 103h1M133 64h1M138 106h2M120 61h1M130 76h1M119 47h1M125 109h2M135 89h1M148 96h1M125 117h1M151 97h1M139 75h1M143 104h1M137 94h2M143 70h1M125 55h1M122 95h1M142 97h1M119 77h1M142 88h1M120 107h1M123 62h1M128 116h2M141 87h1M134 73h1M120 114h1M135 103h1M137 133h2M120 84h2M122 97h1M128 74h2M131 91h1M135 88h1M138 75h2M152 102h1M128 96h1M129 92h1M134 88h1M129 84h1M108 67h2M100 117h1M113 65h1M125 127h2M134 79h2M97 74h1M119 114h1M101 83h1M134 100h1M99 92h1M156 106h2M136 74h2M101 97h2M82 48h2M145 62h1M98 106h1M102 63h1M135 88h1M123 86h1M107 62h1M159 116h1M134 116h1M110 90h2M116 88h1M123 75h1M104 103h1M102 104h1M110 52h2M135 105h1M153 147h1M109 110h1M103 104h1M155 86h2M111 130h1M131 88h1M138 110h1M146 69h2M134 60h2M133 70h2M128 64h2M171 62h1M134 94h2M121 118h1M127 106h1M133 63h1M123 43h1M117 63h1M144 30h1M140 87h1M113 101h1M113 70h2M108 92h1M88 93h1M87 80h1M105 92h1M124 51h1M149 112h1M147 94h1M150 36h1M105 109h1M90 95h1M151 83h1M109 88h1M124 104h2M122 85h1M119 99h1M120 88h1M152 85h1M131 130h2M118 103h1M127 97h1M119 90h1M117 84h1M111 116h1M105 104h2M111 115h2M167 100h1M125 88h2M112 99h1M113 82h2M96 75h1M114 104h1M112 76h1M150 107h1M111 49h1M97 100h1M131 67h2M125 103h1M141 63h2M119 105h1M175 88h2M179 70h2M112 80h1M130 57h1M108 94h1M117 100h2M133 106h1M168 59h1M102 96h1M117 85h1M118 85h1M157 140h1M118 80h1M127 73h1M125 34h1M77 124h2M129 86h1M117 66h1M78 97h1M121 98h1M186 80h1M139 127h2M130 100h1M89 68h1M84 83h2M169 121h1M138 79h1M121 100h1M125 95h2M132 110h2M106 67h1M153 89h1M129 86h1M130 117h1M131 51h2M122 81h2M96 56h1M154 69h1M122 84h1M127 101h1M162 170h1M118 75h2M148 82h1M120 103h1M110 129h1M129 57h2M109 125h2M103 93h1M95 84h2M126 89h2M154 128h1M116 113h2M108 67h1M173 75h1M118 90h1M113 113h1M144 110h1M93 69h1M118 77h2M125 92h1M135 45h1M148 95h1M142 91h1M153 92h1M146 67h1M117 99h1M121 98h1M144 123h2M122 78h1M135 132h1M125 110h1M123 102h2M129 76h2M116 105h1M131 49h1M121 100h1M194 88h1M209 96h1M153 42h1M107 78h2M98 75h1M67 104h1M96 117h1M119 72h1M126 116h2M142 54h1M158 48h1M133 61h1M96 87h1M121 44h2M150 123h1M145 65h2M84 51h2M122 100h1M118 113h1M148 72h2M117 108h1M83 91h2M124 64h1M117 87h1M109 98h2M116 94h1M92 39h1M76 111h1M194 113h1M113 96h1M134 88h1M105 81h2M70 71h1M52 106h2M138 116h2M82 85h1M128 71h1M99 85h1M113 110h1M107 100h2M143 103h1M107 132h2M113 139h1M128 64h1M110 80h1M101 76h1M116 118h1M125 74h2M165 106h1M89 69h2M164 99h2M163 109h1M156 107h1M159 110h2M161 91h1M168 116h1M161 103h1M163 103h1M173 82h1M185 98h1M134 125h1M134 127h1M115 144h1M150 143h1M131 129h1M149 141h1M141 137h2M207 162h1M196 156h2M162 135h1M164 125h1M201 137h1M185 140h2M158 165h1M195 129h1M167 143h1M188 160h1M190 126h1M187 161h1M180 148h2M168 144h1M165 145h1M184 150h1M177 138h2M171 136h1M162 154h2M157 128h1M185 141h2M220 137h1M183 154h1M217 137h2M194 175h1M202 159h1M209 172h1M207 160h1M103 65h1M185 127h2M222 67h2M125 124h1M127 133h1M63 93h2M176 120h1M208 203h1M132 152h2M164 95h1M50 119h2M126 42h2M95 128h2M179 161h1M212 37h1M51 123h2M187 108h2M143 42h1M185 153h1M147 118h2M98 96h1M192 91h1M106 75h1M81 126h1M80 122h1M193 129h2M90 116h1M200 127h1M72 148h1M193 105h1M158 157h1M114 45h1M169 96h1M146 117h1M183 75h2M186 114h1M142 118h1M74 96h2M105 107h1M146 102h1M145 158h1M134 34h2M147 43h1M211 98h1M200 175h1M83 87h2M181 61h1M212 181h1M147 111h1M87 111h1M112 105h1M109 59h1M130 99h1M106 113h1M123 112h1M143 73h2M87 60h1M203 103h1M105 98h2M109 73h1M170 128h1M151 41h1M140 143h1M155 117h2M110 70h1M189 116h1M162 99h1M106 100h2M77 85h1M153 139h1M174 102h1M219 99h1M111 158h1M191 84h2M95 104h1M88 48h2M208 133h2M93 59h1M196 105h1M100 99h2M48 58h1M172 92h2M161 126h1M109 66h1M85 89h1M49 130h1M180 114h1M212 90h2M69 59h1M153 126h2M153 104h2M99 135h1M181 108h1M144 107h2M124 94h1M167 97h1M187 136h1M124 109h1M111 103h1M219 134h2M168 130h2M162 106h2M198 58h1M136 32h1M173 135h1M127 129h1M82 61h1M148 158h1M66 75h1M203 80h1M186 94h1M182 100h2M98 43h2M139 72h1M135 135h1M122 123h1M88 113h1M73 53h1M186 91h2M138 53h1M201 110h1M201 107h2M206 211h1M117 51h1M100 106h2M128 39h1M79 88h1M82 88h2M129 102h2M165 121h1M132 41h1M126 82h2M121 89h1M146 166h1M178 115h2M63 165h1M48 61h1M72 83h2M120 160h1M48 98h2M149 89h1M85 60h2M83 127h1M216 143h1M221 56h1M165 63h1M167 88h1M159 127h2M216 184h1M192 100h1M191 117h1M138 103h1" stroke="#000" stroke-width="2" fill="none" shape-rendering="crispEdges"/>
<path d="M388 76.5h1M368 78.5h1M368 96.5h1M365 52.5h2M390 72.5h1M394 103.5h1M386 85.5h1M392 101.5h1M384 105.5h1M389 75.5h2M376 81.5h1M376 70.5h1M365 87.5h1M368 88.5h1M371 63.5h2M377 66.5h2M380 82.5h2M369 93.5h2M377 70.5h1M371 72.5h1M354 125.5h1M385 100.5h1M379 75.5h2M381 89.5h2M363 80.5h1M382 100.5h1M389 72.5h1M391 90.5h1M396 110.5h1M362 99.5h1M407 83.5h1M394 72.5h1M354 120.5h2M403 48.5h1M396 57.5h1M381 79.5h1M380 89.5h1M386 114.5h1M387 119.5h1M374 96.5h1M380 65.5h1M363 81.5h2M385 57.5h1M359 78.5h1M390 93.5h1M376 80.5h1M354 107.5h1M382 90.5h1M382 53.5h1M363 96.5h1M372 85.5h1M397 83.5h2M372 102.5h1M380 95.5h1M364 79.5h2M384 66.5h2M382 82.5h1M381 64.5h1M373 73.5h1M374 111.5h2M384 111.5h2M361 83.5h1M361 73.5h1M377 92.5h1M372 84.5h1M383 61.5h2M392 78.5h1M398 76.5h1M374 92.5h1M392 86.5h1M368 79.5h2M380 106.5h1M379 77.5h1M402 91.5h1M369 96.5h1M403 119.5h1M355 89.5h2M381 78.5h1M367 88.5h1M400 112.5h2M378 100.5h1M361 122.5h1M340 75.5h1M388 97.5h2M383 41.5h1M363 76.5h2M373 123.5h2M373 80.5h2M367 79.5h1M375 75.5h1M362 47.5h1M361 98.5h1M398 95.5h1M388 64.5h2M355 95.5h2M367 68.5h1M384 89.5h2M363 102.5h1M378 57.5h2M392 60.5h1M364 98.5h1M375 82.5h1M389 98.5h1M383 98.5h1M373 65.5h1M388 86.5h1M387 93.5h1M387 104.5h1M380 84.5h1M354 73.5h2M375 97.5h1M353 81.5h2M389 58.5h2M389 70.5h1M377 103.5h1M356 95.5h1M390 106.5h1M356 82.5h2M388 56.5h1M393 102.5h2M379 77.5h2M365 79.5h1M380 126.5h2M394 91.5h2M354 76.5h2M380 102.5h1M379 88.5h2M393 71.5h1M388 89.5h1M395 96.5h1M380 83.5h1M369 83.5h2M378 61.5h1M370 109.5h1M390 72.5h1M367 93.5h1M375 95.5h1M378 90.5h1M373 95.5h2M360 70.5h1M379 81.5h1M373 81.5h1M370 107.5h1M378 78.5h1M377 56.5h2M378 85.5h1M384 49.5h1M378 65.5h1M375 66.5h2M377 110.5h1M361 87.5h1M380 94.5h1M359 86.5h1M396 83.5h1M358 76.5h2M355 96.5h2M352 76.5h1M352 99.5h1M388 89.5h2M384 82.5h2M371 60.5h1M379 95.5h1M388 83.5h2M364 111.5h1M379 106.5h1M359 100.5h1M360 112.5h2M395 69.5h1M377 79.5h2M370 103.5h2M364 77.5h1M372 95.5h1M363 60.5h2M364 98.5h2M390 93.5h1M362 77.5h1M371 97.5h2M368 75.5h1M359 89.5h1M373 76.5h1M378 86.5h1M382 87.5h1M348 81.5h1M377 81.5h1M380 65.5h1M377 114.5h1M384 68.5h2M377 101.5h1M372 98.5h2M395 90.5h1M372 64.5h1M386 81.5h1M381 103.5h1M380 96.5h2M371 97.5h1M358 88.5h1M386 100.5h1M374 91.5h2M382 82.5h1M391 82.5h2M378 77.5h1M361 103.5h1M367 120.5h2M392 137.5h1M383 107.5h1M373 91.5h1M360 69.5h1M351 62.5h1M344 67.5h2M355 100.5h1M372 79.5h1M363 66.5h1M361 83.5h1M367 72.5h1M375 136.5h1M377 111.5h1M350 91.5h1M393 120.5h2M397 96.5h1M386 84.5h1M366 75.5h1M381 77.5h1M366 76.5h2M376 97.5h1M383 83.5h1M383 78.5h2M353 77.5h1M358 94.5h1M383 79.5h2M370 84.5h1M383 101.5h1M387 72.5h1M376 82.5h1M378 93.5h1M373 94.5h1M353 87.5h1M383 72.5h1M379 68.5h1M375 70.5h2M387 118.5h1M374 119.5h2M395 90.5h1M365 101.5h1M376 101.5h1M350 83.5h2M355 67.5h1M374 75.5h1M370 82.5h1M375 83.5h1M374 102.5h1M392 76.5h1M360 97.5h1M374 91.5h1M377 75.5h1M380 60.5h2M360 63.5h1M368 80.5h2M384 88.5h1M378 84.5h1M366 89.5h2M382 90.5h1M346 85.5h1M382 95.5h1M390 65.5h1M385 80.5h2M367 110.5h1M377 85.5h1M388 97.5h1M375 73.5h1M369 53.5h2M375 86.5h1M344 97.5h1M378 77.5h2M368 70.5h1M381 102.5h1M381 106.5h2M385 71.5h1M370 94.5h2M374 91.5h1M395 82.5h1M379 124.5h2M390 79.5h1M388 107.5h1M356 76.5h1M365 100.5h1M359 66.5h1M359 46.5h2M393 72.5h2M360 94.5h1M367 82.5h1M399 52.5h2M366 113.5h1M388 78.5h1M406 105.5h1M362 84.5h1M368 104.5h1M375 111.5h1M371 113.5h1M361 102.5h2M386 71.5h1M368 90.5h1M383 79.5h1M360 91.5h1M373 114.5h1M405 73.5h1M384 78.5h1M372 92.5h1M360 93.5h1M360 57.5h1M378 101.5h1M379 80.5h1M371 113.5h1M358 103.5h2M370 100.5h1M346 86.5h2M389 83.5h1M376 83.5h1M388 98.5h1M374 97.5h1M377 48.5h1M345 50.5h1M395 105.5h2M376 59.5h2M361 74.5h2M387 42.5h1M362 98.5h1M355 106.5h1M383 117.5h1M380 88.5h2M368 80.5h1M375 59.5h1M356 64.5h1M344 89.5h1M373 95.5h1M370 107.5h1M378 63.5h1M380 94.5h1M393 61.5h1M377 94.5h1M354 120.5h2M379 83.5h1M387 109.5h1M365 61.5h1M372 97.5h1M360 96.5h1M395 77.5h1M374 64.5h1M395 86.5h1M380 77.5h1M393 74.5h2M399 65.5h1M354 80.5h1M401 92.5h1M397 97.5h2M399 133.5h2M366 90.5h1M380 90.5h2M367 82.5h1M356 89.5h2M384 89.5h1M345 98.5h1M357 73.5h1M349 64.5h1M370 84.5h1M352 72.5h1M351 103.5h1M372 77.5h2M376 74.5h1M361 89.5h1M390 79.5h1M375 114.5h1M363 123.5h2M349 67.5h1M355 84.5h1M375 116.5h2M383 100.5h1M385 96.5h1M381 96.5h2M394 61.5h1M385 92.5h1M364 80.5h1M371 77.5h1M389 82.5h1M339 96.5h1M367 78.5h1M361 101.5h1M386 105.5h2M353 95.5h1M391 40.5h2M381 85.5h1M376 110.5h2M365 86.5h1M391 110.5h1M392 80.5h2M365 76.5h2M379 81.5h1M400 75.5h2M390 67.5h1M378 120.5h1M366 76.5h1M354 104.5h1M410 85.5h1M359 84.5h1M384 72.5h1M362 89.5h1M381 74.5h2M382 81.5h2M390 93.5h1M375 76.5h1M392 89.5h1M381 89.5h1M363 64.5h1M359 84.5h1M382 82.5h1M364 130.5h1M402 118.5h2M378 105.5h2M381 57.5h1M370 67.5h1M373 84.5h1M388 106.5h1M387 107.5h1M378 70.5h1M367 95.5h1M365 104.5h1M379 125.5h1M386 76.5h1M388 81.5h2M380 77.5h1M384 102.5h1M385 72.5h1M369 105.5h1M407 147.5h1M387 100.5h2M372 103.5h1M377 99.5h1M369 76.5h2M383 56.5h2M351 104.5h1M383 86.5h1M390 93.5h1M366 98.5h1M378 80.5h1M376 60.5h2M357 104.5h1M400 68.5h1M352 54.5h1M368 90.5h1M365 116.5h1M373 88.5h1M371 103.5h2M386 99.5h2M379 89.5h1M381 87.5h1M353 85.5h1M403 103.5h1M377 73.5h1M382 96.5h2M357 120.5h1M337 91.5h1M392 68.5h2M361 64.5h2M375 75.5h1M350 123.5h1M350 78.5h2M373 62.5h2M351 96.5h2M367 87.5h1M333 79.5h1M360 66.5h1M361 73.5h2M395 88.5h1M359 151.5h1M388 86.5h1M344 58.5h1M375 92.5h2M367 98.5h1M373 89.5h1M344 59.5h1M358 94.5h2M392 120.5h2M360 74.5h1M346 122.5h1M375 90.5h1M383 97.5h1M341 85.5h1M361 69.5h1M368 78.5h1M352 99.5h1M358 94.5h1M384 74.5h1M353 77.5h1M403 77.5h1M400 87.5h1M383 89.5h1M376 92.5h1M378 99.5h1M366 112.5h2M379 89.5h1M331 92.5h1M382 87.5h1M387 78.5h2M352 109.5h1M369 75.5h1M344 92.5h1M370 88.5h1M370 89.5h1M333 109.5h1M391 123.5h1M351 109.5h2M392 86.5h2M357 107.5h2M364 70.5h2M376 88.5h2M365 92.5h1M358 68.5h2M367 86.5h2M392 92.5h1M383 121.5h1M366 104.5h1M357 75.5h1M374 103.5h1M371 84.5h1M379 87.5h1M370 87.5h1M384 110.5h1M354 73.5h1M352 79.5h1M391 103.5h2M370 73.5h2M385 71.5h1M355 63.5h1M387 86.5h1M358 106.5h1M381 83.5h1M376 50.5h2M402 109.5h1M353 98.5h1M350 86.5h2M410 101.5h2M358 89.5h1M387 71.5h1M350 65.5h1M378 89.5h2M394 90.5h2M368 98.5h1M364 75.5h2M421 111.5h2M388 69.5h1M373 115.5h1M338 86.5h1M349 119.5h2M383 90.5h1M386 84.5h1M354 70.5h1M389 92.5h1M365 105.5h1M362 96.5h2M345 70.5h1M368 102.5h2M349 86.5h1M396 119.5h2M379 94.5h1M375 62.5h1M387 97.5h2M383 31.5h1M340 102.5h1M382 41.5h2M400 75.5h1M378 84.5h1M383 64.5h1M375 120.5h1M368 95.5h2M357 90.5h2M353 109.5h2M373 64.5h1M365 83.5h2M355 120.5h2M370 67.5h1M358 110.5h1M376 88.5h1M387 87.5h1M381 88.5h1M383 72.5h1M379 115.5h1M375 84.5h1M364 106.5h2M393 104.5h1M338 70.5h1M362 90.5h1M361 82.5h1M353 102.5h1M384 77.5h1M375 69.5h2M384 120.5h2M346 73.5h1M372 103.5h2M363 68.5h2M393 51.5h1M362 68.5h1M364 83.5h1M363 114.5h1M386 95.5h1M382 87.5h1M352 89.5h1M332 91.5h1M395 67.5h1M341 95.5h2M389 82.5h1M366 107.5h2M386 92.5h2M362 74.5h1M384 91.5h2M372 77.5h1M371 77.5h2M426 90.5h1M386 105.5h2M377 115.5h1M361 78.5h1M368 88.5h1M349 65.5h1M333 102.5h1M371 81.5h2M364 108.5h2M359 73.5h1M346 59.5h2M381 100.5h1M360 67.5h2M372 78.5h1M382 64.5h1M339 48.5h1M379 96.5h1M357 123.5h1M357 80.5h1M364 101.5h2M375 117.5h2M362 106.5h1M385 73.5h1M388 78.5h2M387 116.5h1M364 51.5h1M389 111.5h2M401 70.5h1M432 60.5h2M374 98.5h1M378 72.5h2M356 64.5h1M366 83.5h2M393 115.5h2M346 78.5h1M347 78.5h1M367 87.5h1M365 101.5h1M371 63.5h1M371 100.5h1M349 78.5h1M352 64.5h1M398 95.5h1M360 100.5h1M362 107.5h1M348 73.5h1M366 102.5h1M391 106.5h1M370 85.5h1M388 79.5h1M371 54.5h1M374 113.5h1M389 71.5h2M365 99.5h1M395 70.5h1M357 124.5h1M390 93.5h1M389 70.5h1M354 119.5h1M373 110.5h1M345 77.5h1M364 85.5h1M368 79.5h1M390 76.5h1M389 91.5h1M358 85.5h2M389 67.5h1M351 81.5h1M357 77.5h1M388 87.5h1M369 90.5h2M345 98.5h2M356 91.5h1M402 85.5h1M372 87.5h1M380 61.5h1M369 79.5h1M340 99.5h1M358 67.5h1M403 106.5h2M367 106.5h1M371 107.5h1M374 77.5h2M360 73.5h1M389 106.5h1M405 110.5h1M386 92.5h1M381 60.5h1M374 50.5h1M380 117.5h1M356 90.5h1M373 54.5h1M337 57.5h2M383 74.5h1M364 80.5h1M346 101.5h1M351 78.5h1M381 74.5h2M339 77.5h1M377 60.5h1M362 104.5h1M404 151.5h2M357 135.5h1M373 95.5h1M389 91.5h1M438 156.5h1M295 76.5h2M367 71.5h2M379 85.5h2M392 35.5h1M334 86.5h1M374 99.5h1M337 70.5h1M345 104.5h2M362 130.5h1M376 114.5h1M363 57.5h1M356 107.5h1M328 86.5h1M410 134.5h1M359 60.5h1M389 78.5h1M383 99.5h1M359 70.5h1M354 99.5h1M372 74.5h1M327 70.5h1M334 45.5h1M341 110.5h1M356 64.5h1M354 70.5h1M336 93.5h2M383 90.5h1M359 93.5h1M351 62.5h1M405 68.5h1M425 101.5h1M404 99.5h1M414 110.5h1M407 111.5h1M445 105.5h1M412 116.5h1M406 109.5h1M408 112.5h2M402 97.5h1M428 109.5h1M422 98.5h1M405 120.5h1M408 83.5h1M403 108.5h1M401 111.5h2M404 100.5h1M417 113.5h1M409 97.5h2M407 81.5h1M404 110.5h2M401 102.5h1M403 112.5h1M401 77.5h1M426 104.5h1M401 90.5h1M405 84.5h2M409 100.5h1M426 113.5h2M421 87.5h1M402 84.5h1M429 97.5h1M406 69.5h2M444 87.5h1M447 117.5h1M441 98.5h2M430 96.5h1M415 129.5h1M407 152.5h1M405 158.5h1M404 152.5h1M441 139.5h1M434 130.5h1M425 146.5h1M414 149.5h1M447 129.5h1M410 153.5h1M402 140.5h1M426 134.5h1M444 153.5h1M434 160.5h1M421 131.5h1M449 123.5h1M421 132.5h1M412 154.5h1M409 123.5h1M441 165.5h1M430 133.5h1M419 130.5h2M423 126.5h1M420 156.5h1M403 138.5h1M425 164.5h1M405 131.5h1M423 140.5h1M417 139.5h1M432 146.5h2M410 155.5h1M441 200.5h1M453 135.5h1M437 147.5h1M448 131.5h1M429 153.5h2M446 148.5h2M426 140.5h1M458 164.5h1M410 156.5h1M425 145.5h1M436 141.5h1M445 157.5h1M430 166.5h2M449 143.5h2M424 174.5h1M408 152.5h1M414 191.5h1M461 152.5h1M458 132.5h1M414 138.5h2M432 155.5h2M443 131.5h1M412 136.5h1M419 142.5h1M442 174.5h1M428 130.5h1M436 138.5h1M448 156.5h2M414 173.5h1M446 125.5h2M438 148.5h2M341 128.5h1M348 124.5h2M369 128.5h1M362 129.5h1M318 132.5h1M397 124.5h2M363 133.5h1M370 141.5h1M354 131.5h2M303 139.5h1M294 142.5h1M435 127.5h1M455 126.5h1M448 154.5h1M387 107.5h2M370 139.5h1M413 129.5h1M441 31.5h2M338 71.5h1M407 158.5h1M400 106.5h2M418 59.5h1M441 54.5h2M430 96.5h1M399 85.5h2M419 135.5h1M335 36.5h1M354 92.5h1M452 48.5h1M405 162.5h1M408 37.5h1M365 86.5h1M363 110.5h1M357 75.5h1M354 129.5h1M331 50.5h1M340 43.5h1M329 124.5h1M298 59.5h2M410 123.5h1M474 154.5h1M383 59.5h1M359 98.5h1M301 121.5h1M358 87.5h2M434 113.5h1M380 71.5h2M445 46.5h1M393 86.5h1M375 128.5h2M477 75.5h1M366 120.5h1M462 129.5h1M398 142.5h2M377 65.5h1M308 76.5h1M378 48.5h2M342 122.5h1M356 76.5h1M399 113.5h1M444 143.5h1M337 50.5h1M458 94.5h1M318 71.5h1M457 170.5h1M407 129.5h1M409 81.5h1M436 165.5h1M450 162.5h1M331 84.5h2M425 136.5h1M408 129.5h1M338 91.5h1M399 51.5h2M430 169.5h1M456 129.5h1M390 87.5h1M383 79.5h2M396 104.5h1M422 149.5h2M367 54.5h1M434 172.5h1M428 135.5h1M383 124.5h1M316 80.5h2M362 89.5h1M395 100.5h1M444 104.5h1M362 114.5h2M394 130.5h1M392 137.5h1M362 136.5h1M329 109.5h2M399 88.5h1M333 55.5h2M340 143.5h1M387 38.5h1M386 109.5h1M448 103.5h1M356 59.5h1M422 100.5h2M291 95.5h2M319 76.5h2M310 79.5h2M367 73.5h1M384 66.5h2M385 94.5h1M392 129.5h1M384 63.5h1M365 112.5h1M306 63.5h1M362 89.5h2M315 90.5h1M462 176.5h1M325 123.5h1M389 86.5h2M361 99.5h1M370 149.5h1M467 117.5h1M400 76.5h1M385 71.5h1M409 86.5h1M393 112.5h1M463 140.5h1M326 112.5h1M379 59.5h1M434 102.5h2M374 81.5h1M421 138.5h1M372 66.5h1M387 59.5h1M476 133.5h1M390 51.5h2M361 75.5h2M358 90.5h2M446 44.5h1M387 113.5h1M393 104.5h2M336 65.5h2M388 91.5h1M423 35.5h2M329 51.5h1M433 209.5h1M412 114.5h1M340 54.5h1M389 115.5h1M396 93.5h1M374 72.5h2M380 110.5h1M435 106.5h1M347 134.5h2M452 115.5h1M348 84.5h1M461 135.5h1M441 187.5h1M477 112.5h2M451 36.5h1M422 181.5h1M409 147.5h1M404 44.5h2M357 104.5h1M317 125.5h1M395 120.5h2M362 94.5h1M393 102.5h1M365 108.5h2M311 134.5h1M384 60.5h1M392 104.5h1M368 73.5h1M332 108.5h1M329 81.5h2M348 36.5h1M436 98.5h2M456 125.5h1M381 30.5h1M337 65.5h1M347 45.5h1M369 84.5h2M453 119.5h1M332 109.5h1M441 90.5h2M423 124.5h1M430 200.5h2M324 115.5h1M427 45.5h1M327 50.5h1M319 83.5h1M453 175.5h2M430 99.5h1M364 49.5h2M388 75.5h1M434 108.5h1M428 104.5h2M476 44.5h2M437 116.5h1M368 83.5h2M424 139.5h1M449 83.5h1M380 42.5h1M459 119.5h1M395 119.5h2M471 59.5h1M396 105.5h2M434 57.5h2M359 101.5h1M385 86.5h1M382 73.5h1M400 117.5h2M367 50.5h1M400 93.5h2M458 163.5h1M314 52.5h1M362 74.5h1M352 75.5h1M461 160.5h1M364 86.5h1M337 107.5h1M374 71.5h1M438 190.5h1M332 104.5h1M371 117.5h1M460 121.5h1M460 111.5h1M312 76.5h1M310 65.5h1M423 211.5h1M352 59.5h1M474 137.5h1M318 111.5h2M432 136.5h1M416 109.5h1M407 143.5h2M392 59.5h1M310 55.5h1M402 47.5h1M354 87.5h2M393 49.5h1M339 54.5h2M471 127.5h2M421 131.5h1M400 61.5h1M397 79.5h1M386 58.5h1M358 83.5h1M398 106.5h1M362 88.5h1M477 163.5h1M376 117.5h1M381 107.5h1M366 128.5h1M334 99.5h1M342 156.5h1M439 109.5h1M303 90.5h1M308 76.5h1M438 189.5h1M323 52.5h1M301 136.5h1M442 119.5h1M419 124.5h1M368 78.5h1M343 66.5h2M442 109.5h1M338 76.5h1M358 159.5h1M428 133.5h1M377 58.5h2M409 166.5h1M404 114.5h2M441 162.5h1M346 109.5h1M346 99.5h1M435 128.5h1M295 61.5h1M423 143.5h2M452 179.5h2M356 114.5h1M456 114.5h1M462 144.5h1M418 125.5h2M390 68.5h1M445 183.5h1M375 97.5h1M309 72.5h1M424 135.5h2M368 120.5h1M450 57.5h1M310 108.5h1M361 133.5h2M359 136.5h1" stroke="#000" stroke-width="1" fill="none" shape-rendering="crispEdges"/>
<path d="M383 94h1M393 62h1M393 89h1M378 50h1M376 80h2M382 57h1M365 62h1M354 101h2M354 68h1M368 72h1M372 102h1M356 99h2M376 85h2M369 88h1M381 40h2M357 66h1M401 98h1M361 102h1M395 129h1M378 108h2M393 79h1M370 95h1M379 104h1M385 78h1M376 84h2M363 80h1M370 75h1M383 105h1M383 67h1M367 110h1M380 66h1M388 88h1M384 60h2M372 74h2M395 91h2M371 102h2M382 86h2M356 86h1M397 42h2M378 99h1M363 68h2M393 93h2M367 85h2M367 90h1M362 73h1M352 86h2M386 82h1M387 87h1M382 48h2M382 121h1M373 90h1M371 68h1M393 73h1M382 70h1M386 107h1M383 63h2M377 93h2M374 74h2M390 62h1M389 65h2M375 116h1M395 122h1M352 78h1M373 72h1M393 67h2M358 116h2M355 57h2M377 102h1M392 78h2M376 92h1M385 98h1M388 87h1M369 93h1M401 99h2M380 103h2M387 71h1M377 78h2M380 114h1M360 99h1M368 78h1M374 72h1M400 73h1M385 77h1M364 93h1M370 93h1M393 105h1M355 91h1M373 65h1M384 67h2M369 68h1M366 79h1M366 75h1M358 74h1M387 100h1M354 79h2M377 122h1M363 75h2M379 80h1M350 111h1M376 57h1M371 45h1M383 105h1M383 97h1M379 103h1M354 100h2M360 106h1M388 103h2M384 76h1M390 59h1M363 114h2M365 107h1M382 97h1M373 102h1M354 63h1M399 119h1M378 79h1M385 108h2M399 72h1M384 55h1M374 97h1M370 105h1M362 122h1M360 85h2M407 83h2M376 84h1M388 93h1M364 89h1M383 74h1M376 93h2M381 65h1M351 86h1M389 73h1M385 66h1M371 84h2M387 52h2M375 105h2M387 123h1M382 108h1M351 64h1M392 91h1M363 86h1M381 90h1M388 111h1M344 145h1M381 84h1M399 58h1M388 86h1M371 83h1M401 61h1M394 89h2M357 83h1M377 114h2M360 116h1M379 86h1M381 88h1M377 98h2M379 87h2M384 77h2M371 115h1M380 82h1M368 72h1M366 93h1M382 65h2M375 91h1M365 112h2M379 106h1M353 100h1M382 108h1M373 95h1M403 92h1M377 81h1M359 83h1M401 101h1M387 111h2M384 98h1M384 96h2M368 92h1M390 74h2M377 109h1M378 89h2M368 124h2M388 95h2M379 63h1M384 58h1M368 92h1M380 68h1M357 82h1M359 62h1M342 118h1M395 85h2M371 66h1M380 107h1M375 106h1M404 104h1M329 96h1M352 44h1M371 91h1M366 130h2M382 78h1M363 94h1M375 100h2M399 74h1M391 110h1M370 85h2M384 130h1M363 86h1M384 101h1M366 101h1M371 98h1M361 88h2M342 80h1M380 99h1M380 125h2M380 71h2M383 107h2M328 116h1M381 84h2M298 77h1M350 82h1M375 65h2M373 37h1M377 81h1M371 104h2M363 89h2M355 107h1M378 89h1M379 119h1M398 76h1M409 77h1M372 65h1M388 105h1M333 86h1M359 59h1M365 102h1M406 112h1M389 108h1M384 59h1M351 76h1M372 64h1M388 104h2M365 87h1M398 98h1M388 99h1M386 96h1M380 75h1M392 105h2M340 72h2M405 100h1M367 70h1M371 105h1M361 139h1M351 104h2M378 90h1M333 49h2M400 91h1M358 91h2M346 92h1M384 82h1M372 84h1M357 84h1M363 65h2M430 103h1M378 119h1M362 94h2M352 66h2M394 83h1M357 77h1M391 87h1M372 76h1M365 87h1M313 64h2M369 89h1M332 90h1M393 115h1M366 121h2M377 72h1M357 81h1M379 93h1M375 94h1M352 82h1M332 114h1M377 81h2M386 76h1M341 95h1M305 93h2M367 104h1M347 70h1M400 56h1M362 111h2M383 93h2M410 95h1M346 38h1M388 90h1M348 75h1M413 93h1M415 115h1M400 104h1M406 112h1M406 94h1M424 103h1M402 121h1M402 108h1M425 97h2M444 38h1M413 147h2M427 166h1M420 141h2M434 148h1M435 153h1M425 124h1M422 144h2M438 172h1M445 162h1M443 138h2M437 129h2M433 161h1M425 127h1M432 138h1M431 141h2M408 143h1M415 128h1M423 130h2M442 168h1M449 145h1M405 150h1M454 127h2M430 134h1M440 125h1M354 139h1M356 130h1M349 130h1M369 128h1M361 145h1M333 139h1M396 149h1M390 129h1M347 129h2M315 113h2M366 76h1M429 53h1M356 62h1M422 128h1M435 77h1M427 152h1M424 164h1M295 54h1M421 132h2M404 171h1M426 46h1M357 138h1M436 115h2M373 68h1M353 80h1M429 97h1M377 95h1M313 84h2M404 64h1M417 118h1M415 120h2M387 109h2M358 127h1M456 141h1M394 83h2M398 106h1M463 56h2M377 107h2M391 96h2M396 55h1M349 32h2M424 172h1M343 81h1M369 91h1M377 102h1M423 134h1M364 116h1M385 43h1M404 86h1M399 69h1M395 61h1M428 101h1M415 129h2M332 67h1M377 118h1M377 99h1M348 86h2M344 103h1M410 90h1M376 134h1M388 123h1M385 116h1M296 77h2M454 137h1M381 81h1M420 173h1M375 94h1M310 104h1M444 96h1M307 70h1M402 170h1M350 126h1M367 104h1M291 76h2M447 128h2M335 108h1M342 70h2M399 108h1M411 145h2M359 143h1M335 87h1M364 107h1M436 153h2M374 108h1M471 40h1M404 88h1M395 100h1M407 72h1M443 184h2M370 37h1M317 72h1M376 141h1M462 151h2M342 41h1M334 72h1M380 123h1M374 109h2M369 69h1M430 97h2M322 62h1M373 153h1M399 59h1M393 94h1M445 103h1M442 91h1M348 122h2M422 120h2M328 73h1M305 115h1M305 62h1M381 110h1M380 114h1M421 164h1M448 165h2M450 118h1M334 69h1M478 130h2M397 105h1M382 68h1M373 78h1M458 163h1" stroke="#000" stroke-width="2" fill="none" shape-rendering="crispEdges"/>
<path d="M133 322.5h1M127 325.5h1M121 355.5h1M118 327.5h1M131 342.5h1M108 348.5h1M101 336.5h1M129 339.5h2M91 360.5h2M146 323.5h2M111 348.5h1M71 317.5h2M81 324.5h1M126 338.5h1M126 307.5h1M115 354.5h1M123 319.5h2M135 341.5h1M92 325.5h1M143 349.5h1M113 348.5h1M105 349.5h1M131 346.5h1M136 302.5h2M111 326.5h1M144 307.5h1M91 331.5h1M115 317.5h2M134 314.5h1M95 322.5h1M122 314.5h2M128 315.5h2M139 333.5h2M131 294.5h1M119 345.5h1M115 310.5h1M127 322.5h1M116 322.5h1M110 339.5h1M103 329.5h1M97 337.5h1M130 317.5h1M107 328.5h1M133 313.5h2M122 327.5h1M91 323.5h1M126 321.5h1M116 330.5h1M109 324.5h1M130 317.5h2M136 338.5h2M104 322.5h1M99 343.5h1M111 333.5h1M124 358.5h1M125 346.5h2M103 354.5h1M101 322.5h2M126 323.5h1M120 342.5h2M118 346.5h1M122 330.5h1M114 338.5h2M115 330.5h1M101 313.5h1M120 308.5h2M128 341.5h2M104 322.5h1M104 333.5h2M76 349.5h1M109 340.5h2M144 340.5h1M122 346.5h1M119 332.5h1M88 331.5h2M102 313.5h1M125 314.5h2M105 331.5h1M107 336.5h1M120 321.5h1M117 335.5h1M134 331.5h1M141 326.5h2M108 336.5h2M123 328.5h1M106 325.5h2M114 311.5h1M113 343.5h1M127 339.5h1M102 372.5h1M107 337.5h1M106 341.5h1M116 363.5h1M146 329.5h1M132 330.5h2M112 309.5h2M106 341.5h2M121 348.5h1M122 323.5h1M118 357.5h1M86 339.5h2M120 340.5h2M103 312.5h2M117 326.5h1M115 303.5h2M114 342.5h1M112 332.5h1M114 311.5h1M143 333.5h1M151 327.5h1M129 332.5h1M125 344.5h1M127 347.5h1M126 321.5h1M131 344.5h2M110 361.5h1M130 325.5h1M103 358.5h1M119 333.5h2M101 328.5h1M128 316.5h1M104 303.5h2M109 334.5h1M115 342.5h1M117 336.5h1M121 339.5h2M101 339.5h2M127 312.5h1M111 322.5h1M129 339.5h1M127 323.5h2M126 342.5h1M113 342.5h1M126 336.5h2M111 320.5h1M114 349.5h1M112 329.5h1M127 337.5h1M101 333.5h1M127 335.5h1M124 314.5h2M126 336.5h1M126 349.5h1M114 342.5h1M128 328.5h2M101 324.5h2M117 343.5h1M140 339.5h2M144 366.5h1M137 349.5h1M114 329.5h1M147 311.5h1M106 330.5h1M128 320.5h1M95 349.5h1M140 334.5h2M134 332.5h1M126 338.5h1M101 340.5h1M113 329.5h1M109 317.5h1M128 337.5h2M130 332.5h1M141 345.5h1M117 337.5h1M124 329.5h1M113 333.5h1M99 332.5h1M88 342.5h1M112 317.5h1M122 336.5h1M112 325.5h1M117 309.5h1M100 330.5h1M113 341.5h1M98 334.5h1M98 338.5h1M125 318.5h1M132 336.5h2M126 329.5h1M101 313.5h1M115 322.5h2M93 325.5h1M135 330.5h1M106 335.5h2M111 334.5h1M98 329.5h1M109 328.5h1M139 341.5h2M128 337.5h1M120 335.5h2M116 310.5h1M116 341.5h2M128 327.5h1M145 358.5h1M119 309.5h2M139 349.5h1M110 320.5h2M128 331.5h1M128 313.5h2M136 334.5h1M97 321.5h1M140 314.5h1M111 329.5h1M113 339.5h1M146 349.5h1M119 342.5h2M114 335.5h1M131 314.5h1M141 330.5h1M134 329.5h1M105 336.5h1M100 347.5h1M112 321.5h1M116 351.5h1M132 372.5h2M137 342.5h1M104 343.5h1M106 304.5h2M124 344.5h1M112 338.5h1M118 336.5h1M100 323.5h1M115 336.5h1M131 349.5h2M118 330.5h1M127 315.5h2M110 361.5h1M92 349.5h1M120 344.5h1M98 319.5h2M145 355.5h1M111 326.5h1M101 300.5h2M145 307.5h2M97 332.5h2M114 358.5h1M113 326.5h2M107 298.5h1M144 339.5h2M84 357.5h1M106 347.5h2M111 317.5h1M110 343.5h2M129 340.5h1M115 350.5h1M129 329.5h1M127 338.5h1M115 316.5h2M129 355.5h1M127 324.5h1M101 325.5h1M138 317.5h1M94 329.5h1M123 317.5h2M95 347.5h2M131 327.5h1M108 349.5h1M90 338.5h2M88 347.5h1M121 327.5h2M103 346.5h1M113 337.5h2M91 330.5h1M132 345.5h2M112 346.5h1M130 347.5h2M113 330.5h1M107 346.5h1M103 344.5h1M110 331.5h1M130 345.5h1M112 335.5h1M114 330.5h1M101 341.5h1M110 333.5h1M111 327.5h2M108 307.5h1M99 326.5h1M117 321.5h1M92 350.5h1M101 359.5h1M119 322.5h1M105 317.5h1M121 335.5h2M124 332.5h2M144 317.5h2M100 326.5h1M147 315.5h1M144 318.5h2M122 349.5h1M126 329.5h1M94 298.5h1M112 354.5h1M128 351.5h1M138 336.5h1M117 329.5h1M143 332.5h1M125 321.5h1M108 341.5h1M99 300.5h1M97 337.5h1M128 349.5h2M112 296.5h1M110 349.5h1M116 363.5h1M146 330.5h1M106 304.5h1M103 319.5h1M117 353.5h1M107 335.5h2M126 324.5h1M107 343.5h1M118 333.5h1M125 333.5h1M121 303.5h2M124 332.5h1M113 321.5h1M109 326.5h1M112 320.5h1M93 356.5h1M128 360.5h1M125 358.5h2M89 334.5h2M106 329.5h2M121 329.5h1M120 347.5h1M110 346.5h2M135 343.5h1M140 321.5h1M126 344.5h2M127 295.5h1M124 327.5h1M90 336.5h1M93 348.5h1M99 330.5h2M123 337.5h2M101 348.5h2M121 330.5h1M125 349.5h1M123 343.5h1M152 322.5h1M109 314.5h2M158 341.5h1M113 339.5h1M93 328.5h2M116 341.5h2M147 348.5h1M107 340.5h2M115 330.5h1M93 337.5h2M107 309.5h1M135 306.5h1M126 372.5h1M145 353.5h1M107 349.5h2M125 338.5h1M85 341.5h1M101 306.5h1M115 366.5h1M92 320.5h2M108 337.5h1M119 351.5h1M91 351.5h2M141 345.5h1M130 332.5h1M117 331.5h2M119 334.5h2M109 327.5h1M114 332.5h1M131 333.5h2M139 342.5h2M94 325.5h1M130 329.5h2M124 342.5h2M112 316.5h1M88 327.5h2M116 336.5h1M69 325.5h2M89 327.5h1M119 335.5h1M110 354.5h1M100 314.5h1M96 337.5h2M111 312.5h2M128 328.5h1M119 350.5h2M124 337.5h1M102 348.5h1M145 328.5h1M122 333.5h1M141 342.5h1M139 314.5h2M113 306.5h1M131 380.5h1M137 333.5h1M112 322.5h2M107 349.5h1M129 310.5h1M114 337.5h1M106 344.5h1M112 359.5h1M118 335.5h1M89 329.5h1M110 338.5h1M117 334.5h1M113 341.5h1M120 343.5h2M122 336.5h1M98 325.5h2M105 325.5h1M111 327.5h1M116 348.5h1M108 319.5h2M84 346.5h1M112 344.5h2M88 331.5h1M130 343.5h1M110 337.5h1M111 332.5h1M90 326.5h2M129 343.5h1M127 346.5h1M119 358.5h1M117 314.5h1M88 332.5h1M100 331.5h2M128 326.5h1M128 330.5h2M125 321.5h2M113 344.5h2M124 324.5h1M95 334.5h1M95 325.5h2M137 307.5h1M124 345.5h1M118 350.5h1M136 297.5h2M114 307.5h1M115 341.5h1M100 314.5h1M126 329.5h1M121 332.5h1M113 335.5h1M115 326.5h1M126 330.5h2M114 344.5h1M113 327.5h1M108 348.5h1M104 336.5h1M128 351.5h1M73 321.5h2M134 322.5h1M117 317.5h1M144 331.5h1M116 301.5h1M122 321.5h1M126 316.5h1M117 345.5h1M125 347.5h1M103 344.5h1M104 341.5h2M99 336.5h1M114 339.5h1M91 364.5h1M99 347.5h2M118 355.5h1M136 333.5h1M113 336.5h1M94 342.5h1M114 346.5h2M121 340.5h2M137 300.5h2M123 358.5h2M110 342.5h1M138 331.5h1M130 345.5h1M97 336.5h1M131 317.5h2M112 337.5h2M91 343.5h1M117 356.5h2M105 351.5h1M112 355.5h1M102 336.5h1M125 320.5h1M147 316.5h2M133 351.5h1M157 343.5h1M120 332.5h1M114 330.5h1M115 309.5h1M117 342.5h1M132 330.5h1M141 339.5h1M143 347.5h1M130 340.5h1M103 339.5h1M105 334.5h1M117 338.5h1M107 354.5h1M110 343.5h1M136 291.5h1M137 356.5h2M119 321.5h1M101 343.5h1M113 328.5h1M111 325.5h1M88 347.5h1M124 347.5h1M154 334.5h2M130 348.5h1M123 354.5h1M93 344.5h2M105 302.5h1M118 341.5h1M137 331.5h1M122 346.5h1M139 333.5h1M92 329.5h1M108 342.5h1M123 351.5h1M91 309.5h1M116 313.5h1M119 314.5h1M121 354.5h2M110 328.5h2M97 334.5h1M129 320.5h1M138 330.5h1M129 335.5h1M128 333.5h2M132 329.5h1M114 284.5h2M119 343.5h1M125 338.5h2M124 340.5h1M102 332.5h1M117 361.5h2M135 333.5h1M124 346.5h1M121 331.5h1M118 343.5h2M114 330.5h1M115 292.5h2M121 319.5h1M105 324.5h2M130 355.5h1M120 344.5h1M132 322.5h1M122 302.5h2M138 347.5h2M110 320.5h1M104 352.5h1M119 327.5h1M92 349.5h1M93 341.5h1M130 343.5h1M137 321.5h1M119 324.5h1M114 341.5h1M136 330.5h1M109 348.5h1M127 358.5h1M130 344.5h1M106 349.5h2M111 352.5h1M104 335.5h1M103 303.5h1M116 344.5h1M121 303.5h1M117 329.5h2M124 357.5h1M103 331.5h1M120 345.5h2M131 343.5h1M136 344.5h1M103 305.5h2M111 319.5h1M115 314.5h1M96 340.5h2M118 342.5h1M124 307.5h1M114 366.5h1M106 337.5h2M104 356.5h1M123 331.5h2M136 352.5h1M122 314.5h1M122 323.5h2M109 348.5h1M123 328.5h1M125 354.5h1M112 341.5h1M134 317.5h1M84 340.5h1M133 324.5h1M105 334.5h2M116 353.5h1M123 319.5h1M118 336.5h2M112 314.5h1M128 347.5h1M122 319.5h1M122 343.5h1M126 312.5h1M90 333.5h2M108 362.5h1M89 327.5h2M96 316.5h1M128 339.5h1M141 349.5h2M143 325.5h2M139 313.5h2M132 327.5h1M142 317.5h1M130 325.5h1M137 309.5h1M116 324.5h1M122 327.5h1M90 320.5h1M124 326.5h2M126 373.5h1M105 312.5h1M129 315.5h1M107 344.5h2M105 354.5h1M132 337.5h1M111 325.5h1M107 339.5h1M108 332.5h1M111 341.5h1M100 338.5h1M123 333.5h1M113 353.5h2M103 326.5h2M127 351.5h1M99 351.5h1M117 365.5h1M122 350.5h2M137 314.5h2M109 329.5h1M90 356.5h1M112 350.5h1M83 355.5h1M91 336.5h1M136 334.5h1M131 327.5h1M102 325.5h1M131 341.5h2M118 334.5h1M127 359.5h1M122 333.5h1M117 311.5h1M125 305.5h1M106 342.5h1M126 307.5h1M106 342.5h1M109 331.5h2M127 339.5h1M118 303.5h1M117 330.5h1M130 333.5h1M110 308.5h2M112 344.5h1M127 336.5h1M137 349.5h1M142 293.5h2M108 327.5h1M146 325.5h1M109 330.5h1M100 324.5h2M106 335.5h2M118 325.5h2M131 352.5h1M121 314.5h1M101 342.5h1M137 326.5h2M109 338.5h1M118 350.5h1M116 312.5h1M114 331.5h1M146 329.5h2M126 327.5h1M135 325.5h1M112 352.5h1M117 339.5h2M125 325.5h2M111 340.5h2M139 357.5h1M100 321.5h2M113 321.5h1M109 350.5h1M118 360.5h1M133 333.5h1M122 329.5h1M111 341.5h1M115 335.5h1M109 342.5h1M116 318.5h1M128 319.5h1M116 316.5h1M124 323.5h2M125 329.5h1M127 349.5h1M125 352.5h2M113 318.5h1M130 329.5h1M114 349.5h1M103 314.5h2M100 352.5h2M139 319.5h1M110 324.5h1M121 301.5h1M112 332.5h1M95 303.5h2M118 340.5h1M124 313.5h2M106 349.5h2M127 303.5h1M105 327.5h2M85 330.5h1M128 345.5h1M125 349.5h1M126 344.5h1M126 335.5h1M114 314.5h1M108 348.5h1M116 369.5h1M117 325.5h1M117 315.5h1M107 334.5h1M132 356.5h1M114 331.5h1M111 342.5h1M117 308.5h1M118 302.5h1M138 335.5h1M121 313.5h1M135 313.5h1M120 347.5h1M90 320.5h1M109 360.5h1M129 291.5h2M112 354.5h1M111 336.5h2M111 341.5h2M125 353.5h1M94 336.5h1M133 326.5h1M125 314.5h2M143 310.5h1M131 331.5h2M119 349.5h2M131 328.5h1M125 356.5h1M133 336.5h1M127 319.5h1M123 370.5h2M111 355.5h1M130 335.5h1M118 363.5h1M103 336.5h2M103 345.5h1M122 343.5h1M117 337.5h1M107 329.5h2M102 315.5h1M97 346.5h1M137 347.5h1M136 333.5h2M130 330.5h2M123 342.5h1M141 342.5h1M117 321.5h1M94 341.5h1M122 322.5h2M131 336.5h1M125 339.5h1M128 339.5h1M135 335.5h1M98 325.5h1M119 347.5h1M88 347.5h1M153 309.5h1M149 322.5h1M131 316.5h1M122 340.5h1M93 326.5h1M120 332.5h1M122 334.5h2M109 302.5h1M103 342.5h2M130 313.5h2M136 321.5h1M111 344.5h1M103 322.5h1M118 340.5h1M116 344.5h2M106 309.5h1M127 317.5h1M144 357.5h1M108 345.5h1M108 348.5h1M98 321.5h1M124 351.5h1M126 333.5h1M111 339.5h2M100 338.5h1M104 304.5h1M110 320.5h2M137 341.5h1M129 365.5h1M136 344.5h2M117 352.5h2M112 342.5h2M127 342.5h1M112 315.5h1M137 362.5h1M112 333.5h1M108 325.5h1M118 309.5h1M115 283.5h2M121 303.5h1M128 338.5h2M132 352.5h2M121 336.5h1M118 330.5h1M132 337.5h2M129 329.5h1M81 303.5h1M101 353.5h1M111 343.5h1M118 349.5h1M104 333.5h1M112 326.5h1M99 329.5h1M76 347.5h2M118 311.5h1M110 338.5h1M102 329.5h1M92 331.5h1M107 325.5h1M119 347.5h1M95 318.5h1M117 337.5h1M128 347.5h2M133 342.5h1M102 346.5h1M87 344.5h1M136 322.5h1M136 316.5h1M109 333.5h2M124 306.5h1M96 331.5h1M114 332.5h2M129 351.5h1M106 343.5h1M121 300.5h1M103 330.5h1M108 338.5h1M120 339.5h2M110 348.5h2M115 330.5h1M104 318.5h1M118 323.5h1M94 349.5h2M138 335.5h1M131 314.5h2M149 358.5h1M124 323.5h1M125 330.5h1M101 287.5h1M91 345.5h1M92 354.5h2M126 333.5h1M110 326.5h1M102 340.5h1M104 323.5h1M128 302.5h2M125 322.5h1M96 374.5h1M128 358.5h1M138 330.5h1M111 342.5h1M122 311.5h2M107 332.5h2M125 344.5h1M109 330.5h1M132 305.5h1M127 348.5h1M115 322.5h2M116 332.5h1M100 337.5h1M100 335.5h1M114 340.5h1M119 307.5h2M90 350.5h1M134 356.5h2M109 333.5h1M124 320.5h2M113 349.5h1M113 322.5h1M115 319.5h1M91 323.5h2M118 348.5h1M111 337.5h1M138 316.5h1M111 352.5h1M127 306.5h1M111 323.5h1M120 342.5h1M136 295.5h2M119 369.5h1M130 319.5h1M135 326.5h2M100 347.5h2M93 312.5h1M121 317.5h1M119 335.5h1M119 334.5h1M93 335.5h1M117 317.5h1M133 322.5h1M122 299.5h1M116 337.5h1M104 332.5h1M134 344.5h1M122 354.5h1M89 315.5h1M111 328.5h1M128 333.5h2M101 357.5h2M92 363.5h1M105 333.5h1M139 320.5h1M107 328.5h1M109 350.5h2M126 316.5h1M126 320.5h2M140 346.5h2M112 346.5h1M109 312.5h1M117 365.5h1M129 319.5h1M98 333.5h1M110 342.5h1M140 326.5h1M128 336.5h1M71 338.5h1M96 309.5h1M124 328.5h1M134 367.5h1M118 318.5h1M142 333.5h1M145 336.5h2M119 340.5h1M118 327.5h1M105 342.5h1M114 335.5h1M120 307.5h1M131 318.5h1M123 305.5h2M92 340.5h1M88 333.5h2M133 329.5h1M119 325.5h1M137 342.5h1M124 335.5h1M143 328.5h1M122 341.5h1M120 342.5h1M116 339.5h2M93 331.5h1M123 331.5h1M85 339.5h1M121 322.5h1M141 337.5h1M109 343.5h1M131 339.5h1M120 359.5h2M96 350.5h1M91 327.5h2M142 305.5h1M95 355.5h1M115 350.5h1M137 345.5h1M125 342.5h1M106 352.5h1M125 325.5h2M101 348.5h1M114 322.5h2M124 310.5h1M103 341.5h1M107 320.5h1M118 331.5h1M109 346.5h1M95 327.5h1M110 330.5h2M112 337.5h2M117 353.5h1M123 332.5h1M135 286.5h2M124 328.5h1M137 352.5h1M135 323.5h2M108 322.5h1M108 330.5h2M127 344.5h1M140 326.5h1M109 331.5h1M123 362.5h1M123 334.5h1M129 295.5h1M122 356.5h1M111 331.5h1M122 330.5h1M102 341.5h1M111 328.5h1M113 339.5h1M132 323.5h2M129 360.5h2M93 360.5h2M137 297.5h1M129 304.5h1M129 326.5h1M132 341.5h1M130 321.5h1M116 330.5h1M118 328.5h1M127 334.5h1M104 325.5h2M84 350.5h1M103 328.5h2M115 338.5h2M111 361.5h2M124 317.5h1M122 338.5h1M115 324.5h1M138 367.5h2M120 359.5h2M106 347.5h1M114 297.5h2M133 339.5h1M117 332.5h2M97 339.5h2M134 338.5h1M133 338.5h2M117 347.5h1M124 344.5h1M106 351.5h1M115 342.5h1M132 330.5h1M123 301.5h1M119 347.5h1M124 331.5h1M128 356.5h1M136 349.5h1M105 329.5h1M139 320.5h1M123 337.5h1M122 347.5h2M99 346.5h1M116 330.5h1M90 314.5h1M118 337.5h2M92 349.5h1M134 339.5h1M129 344.5h1M104 340.5h1M115 327.5h2M114 339.5h1M114 325.5h1M135 304.5h1M113 335.5h2M88 320.5h2M122 311.5h1M127 348.5h1M112 321.5h1M107 306.5h1M112 351.5h1M73 351.5h1M100 338.5h1M108 320.5h1M141 336.5h1M121 328.5h1M85 352.5h2M64 333.5h2M95 357.5h1M142 313.5h1M71 346.5h1M114 311.5h1M79 336.5h1M84 337.5h1M130 345.5h1M112 354.5h1M104 337.5h2M140 320.5h1M99 290.5h2M104 364.5h1M111 363.5h2M151 323.5h1M96 295.5h1M110 334.5h1M76 344.5h1M132 322.5h1M104 339.5h2M83 340.5h1M95 349.5h2M102 298.5h1M98 316.5h2M133 331.5h2M113 301.5h1M121 329.5h1M126 360.5h1M118 345.5h1M148 345.5h2M113 334.5h1M132 329.5h1M115 305.5h1M120 293.5h1M80 346.5h1M117 300.5h2M73 336.5h1M103 353.5h1M116 311.5h1M112 338.5h2M104 308.5h2M97 320.5h1M121 333.5h2M110 301.5h1M66 315.5h1M110 301.5h2M109 330.5h2M154 313.5h2M99 310.5h1M111 327.5h1M135 318.5h1M111 321.5h1M86 344.5h2M107 329.5h1M149 334.5h1M118 336.5h1M90 341.5h2M122 339.5h1M79 316.5h1M146 347.5h2M61 342.5h1M102 348.5h2M92 312.5h2M105 324.5h1M144 322.5h1M157 319.5h1M93 322.5h1M118 329.5h1M75 330.5h1M91 332.5h2M145 295.5h2M106 321.5h2M104 340.5h1M106 347.5h2M118 352.5h1M102 336.5h2M154 314.5h2M104 316.5h1M136 320.5h1M151 328.5h1M80 333.5h1M142 320.5h1M81 351.5h2M136 339.5h1M93 343.5h1M69 327.5h1M148 340.5h2M159 337.5h2M128 314.5h2M137 324.5h1M111 320.5h1M87 322.5h2M76 347.5h1M93 329.5h1M119 272.5h1M120 346.5h2M99 340.5h1M108 329.5h2M97 327.5h1M111 339.5h1M148 308.5h1M119 342.5h1M145 285.5h1M97 347.5h1M79 331.5h1M122 337.5h1M93 334.5h1M80 311.5h1M60 366.5h1M127 315.5h2M143 339.5h2M97 327.5h1M105 339.5h1M122 363.5h1M98 307.5h1M129 316.5h1M75 338.5h1M78 363.5h1M102 315.5h1M134 336.5h1M99 336.5h1M108 315.5h1M77 320.5h2M93 349.5h2M113 323.5h1M110 332.5h2M110 309.5h2M141 337.5h1M80 366.5h1M106 312.5h1M96 325.5h1M79 331.5h1M107 306.5h2M101 335.5h1M127 334.5h1M128 340.5h1M126 345.5h1M112 360.5h1M131 353.5h1M92 349.5h2M101 334.5h2M109 336.5h1M71 307.5h1M106 329.5h1M123 342.5h1M132 295.5h1M93 339.5h1M82 336.5h1M95 348.5h2M49 353.5h1M96 313.5h2M143 319.5h2M143 321.5h1M105 318.5h1M108 336.5h2M108 341.5h1M97 313.5h1M104 344.5h2M110 325.5h1M62 329.5h1M66 317.5h1M111 302.5h1M101 304.5h1M116 309.5h1M71 324.5h1M103 331.5h1M118 327.5h1M111 329.5h2M113 343.5h2M125 351.5h1M82 344.5h2M75 321.5h1M109 346.5h1M124 358.5h1M128 335.5h2M78 328.5h1M141 346.5h1M118 326.5h1M162 352.5h1M82 341.5h1M89 329.5h1M92 318.5h1M93 360.5h1M112 350.5h1M93 338.5h1M74 355.5h1M145 360.5h1M87 339.5h1M145 342.5h1M134 346.5h1M88 317.5h1M134 340.5h2M96 333.5h2M124 327.5h1M122 336.5h1M102 350.5h1M125 313.5h1M122 314.5h1M128 330.5h1M94 341.5h2M96 313.5h2M95 321.5h2M70 347.5h1M111 355.5h1M113 344.5h1M120 337.5h1M73 321.5h1M135 329.5h1M124 331.5h1M112 372.5h1M117 327.5h1M119 336.5h2M96 334.5h1M92 354.5h1M97 318.5h1M91 359.5h1M98 330.5h1M112 340.5h1M116 343.5h1M75 316.5h1M121 374.5h1M101 343.5h1M116 316.5h1M113 364.5h1M92 351.5h1M87 335.5h1M100 364.5h1M118 314.5h1M112 319.5h2M123 330.5h1M70 321.5h1M79 315.5h1M121 324.5h1M133 352.5h1M116 327.5h1M152 342.5h1M103 334.5h2M136 306.5h1M77 302.5h1M123 329.5h1M138 355.5h1M114 349.5h2M113 337.5h2M118 335.5h2M123 342.5h1M60 350.5h2M127 326.5h2M123 346.5h2M100 356.5h2M76 330.5h1M92 333.5h1M108 332.5h1M126 321.5h2M71 308.5h2M103 361.5h1M120 324.5h2M135 303.5h1M130 347.5h2M93 343.5h2M82 330.5h1M133 339.5h1M79 328.5h1M128 316.5h1M152 335.5h1M131 336.5h2M125 347.5h1M103 346.5h2M89 338.5h1M135 344.5h1M88 313.5h1M94 319.5h1M141 349.5h1M80 344.5h1M97 355.5h1M103 329.5h1M107 316.5h1M78 358.5h1M136 362.5h1M104 344.5h2M131 340.5h1M108 326.5h1M128 353.5h2M87 310.5h1M89 312.5h1M142 316.5h1M105 327.5h1M99 345.5h1M119 350.5h1M139 370.5h1M128 322.5h1M125 344.5h1M104 344.5h1M73 323.5h2M110 329.5h1M106 359.5h2M113 302.5h2M119 362.5h1M67 372.5h1M122 329.5h1M132 295.5h1M142 332.5h1M145 289.5h1M66 354.5h2M53 305.5h2M101 331.5h2M127 326.5h1M74 334.5h1M136 343.5h1M101 375.5h1M50 331.5h1M93 350.5h1M96 337.5h1M62 323.5h1M97 334.5h1M129 352.5h1M130 337.5h2M116 364.5h2M97 332.5h1M141 322.5h1M92 330.5h1M153 324.5h1M76 329.5h1M94 346.5h2M151 341.5h1M101 333.5h1M123 328.5h2M105 356.5h1M87 345.5h1M84 340.5h1M99 330.5h1M126 313.5h2M116 340.5h1M54 316.5h1M115 328.5h1M134 337.5h1M137 364.5h1M118 335.5h1M134 293.5h2M68 311.5h1M126 317.5h1M109 334.5h1M144 324.5h1M82 324.5h1M137 338.5h2M91 316.5h2M59 365.5h1M72 317.5h1M105 352.5h1M97 314.5h1M84 334.5h1M147 331.5h1M97 321.5h1M100 311.5h1M101 330.5h1M108 329.5h1M102 326.5h1M116 349.5h1M135 343.5h1M112 316.5h1M121 273.5h1M138 347.5h1M123 325.5h2M82 345.5h1M90 350.5h2M132 329.5h1M88 348.5h1M137 325.5h1M82 341.5h2M128 344.5h1M117 340.5h2M64 342.5h2M117 301.5h1M118 335.5h1M116 313.5h1M82 321.5h1M124 345.5h1M132 335.5h1M130 344.5h1M138 350.5h1M109 327.5h1M115 335.5h2M131 330.5h1M78 342.5h2M109 356.5h1M134 314.5h1M98 304.5h2M123 301.5h1M62 316.5h1M135 304.5h1M109 341.5h1M149 351.5h1M129 328.5h1M145 331.5h1M108 333.5h1M97 306.5h1M92 345.5h1M92 335.5h1M136 345.5h1M133 331.5h2M109 302.5h1M133 319.5h1M73 353.5h1M62 331.5h1M122 351.5h1M80 335.5h2M105 327.5h1M144 315.5h1M100 329.5h1M108 338.5h2M73 339.5h2M108 322.5h1M102 311.5h1M104 332.5h1M81 306.5h2M96 330.5h1M128 351.5h2M101 297.5h2M62 337.5h2M151 347.5h1M137 327.5h1M94 342.5h2M107 320.5h2M84 337.5h2M78 315.5h2M98 372.5h1M109 354.5h1M87 335.5h2M122 346.5h1M107 318.5h1M127 328.5h2M109 350.5h1M98 346.5h1M121 336.5h2M142 351.5h1M133 345.5h1M119 347.5h1M139 304.5h1M131 339.5h1M148 334.5h1M103 328.5h1M140 338.5h1M83 351.5h2M128 295.5h1M81 353.5h2M102 300.5h1M54 335.5h2M121 327.5h1M108 335.5h1M106 341.5h1M111 305.5h1M103 307.5h1M118 372.5h2M88 348.5h1M81 323.5h2M91 349.5h1M47 330.5h1M70 333.5h1M116 362.5h1M62 327.5h1M127 310.5h1M68 291.5h2M82 337.5h1M105 346.5h1M136 309.5h2M143 355.5h1M133 348.5h1M117 339.5h1M111 322.5h1M107 334.5h2M136 340.5h1M119 360.5h1M121 341.5h1M124 341.5h2M142 351.5h1M80 346.5h1M119 362.5h1M96 356.5h1M136 332.5h2M144 342.5h1M61 345.5h1M119 338.5h1M130 350.5h1M82 356.5h1M116 344.5h2M127 348.5h1M113 345.5h2M94 368.5h1M119 343.5h1M103 312.5h1M125 334.5h1M57 313.5h2M120 342.5h2M149 346.5h1M88 347.5h1M140 325.5h2M113 327.5h1M125 337.5h1M101 350.5h1M86 341.5h2M111 327.5h2M104 322.5h1M85 340.5h2M71 307.5h1M59 327.5h1M131 349.5h2M76 308.5h2M102 339.5h1M97 337.5h1M107 295.5h1M146 336.5h2M134 342.5h1M98 338.5h1M84 313.5h2M80 350.5h2M116 361.5h1M119 343.5h2M88 334.5h1M120 367.5h1M87 320.5h2M129 346.5h1M91 332.5h1M121 323.5h1M122 371.5h1M124 346.5h1M125 330.5h1M86 359.5h1M143 352.5h1M117 346.5h1M75 328.5h2M144 343.5h1M80 322.5h1M119 337.5h1M75 327.5h1M65 336.5h1M124 346.5h1M114 357.5h1M100 339.5h1M68 331.5h1M100 332.5h1M112 354.5h1M122 332.5h1M143 343.5h2M108 330.5h2M98 322.5h1M122 351.5h2M99 292.5h1M144 335.5h2M104 347.5h1M159 299.5h1M98 325.5h1M125 335.5h1M91 345.5h2M113 324.5h1M99 351.5h1M124 341.5h2M107 306.5h1M108 339.5h1M103 346.5h2M97 343.5h2M110 320.5h1M96 341.5h1M103 298.5h2M107 344.5h1M96 357.5h2M122 308.5h1M125 344.5h2M104 354.5h1M158 326.5h1M121 370.5h2M129 345.5h2M83 327.5h1M92 364.5h1M69 328.5h1M118 363.5h1M85 339.5h1M130 311.5h1M72 344.5h1M98 324.5h2M97 353.5h1M76 337.5h1M99 321.5h1M102 338.5h1M100 337.5h1M80 349.5h1M82 343.5h1M114 366.5h2M149 342.5h2M113 313.5h1M119 317.5h1M66 344.5h1M80 332.5h1M109 347.5h2M108 350.5h1M150 347.5h2M130 344.5h1M120 350.5h1M71 337.5h1M93 338.5h1M95 323.5h1M100 335.5h1M94 353.5h1M120 309.5h1M75 347.5h2M128 352.5h1M118 337.5h1M140 348.5h1M103 352.5h2M117 336.5h1M138 322.5h1M82 321.5h1M94 364.5h2M103 326.5h1M93 332.5h1M78 301.5h1M135 357.5h1M126 335.5h1M123 345.5h2M151 338.5h1M109 349.5h1M100 358.5h1M139 338.5h1M126 336.5h2M111 324.5h1M139 327.5h1M55 360.5h2M105 349.5h1M87 338.5h1M120 336.5h1M112 330.5h1M92 345.5h1M156 322.5h1M109 291.5h1M100 347.5h2M131 328.5h1M112 364.5h1M76 323.5h1M107 345.5h2M113 343.5h1M67 324.5h1M158 318.5h1M107 327.5h2M106 307.5h2M115 336.5h1M71 302.5h1M133 363.5h1M75 355.5h1M108 318.5h1M115 315.5h1M112 327.5h1M140 348.5h1M121 348.5h1M87 329.5h1M132 333.5h2M125 338.5h1M128 327.5h1M70 351.5h1M78 340.5h1M112 367.5h1M123 307.5h1M54 330.5h1M111 354.5h2M128 331.5h1M74 351.5h2M128 342.5h2M130 350.5h1M125 330.5h1M59 321.5h2M132 330.5h1M115 356.5h1M91 357.5h1M111 335.5h1M117 334.5h2M130 342.5h1M99 324.5h1M105 333.5h1M143 387.5h1M128 308.5h2M79 341.5h1M126 334.5h1M157 326.5h1M63 328.5h1M77 313.5h1M123 363.5h1M142 321.5h1M80 345.5h1M122 321.5h1M112 322.5h1M112 352.5h1M141 302.5h1M140 343.5h1M110 351.5h1M94 372.5h1M98 317.5h1M62 316.5h1M80 342.5h2M95 327.5h1M61 334.5h1M95 305.5h1M52 343.5h2M62 346.5h1M64 345.5h1M102 310.5h1M49 341.5h2M63 312.5h1M62 358.5h1M73 346.5h1M67 332.5h2M103 312.5h1M70 335.5h1M77 332.5h2M96 342.5h1M73 315.5h2M58 312.5h1M73 325.5h2M78 314.5h1M86 316.5h2M51 326.5h1M95 322.5h1M81 339.5h2M100 337.5h1M59 323.5h2M59 330.5h2M100 330.5h1M97 330.5h1M80 318.5h1M52 297.5h2M64 330.5h2M74 316.5h1M86 366.5h1M62 345.5h2M72 349.5h2M79 316.5h1M77 345.5h1M76 345.5h1M88 346.5h1M70 339.5h2M77 302.5h2M77 308.5h1M66 333.5h1M73 320.5h1M114 319.5h1M90 331.5h2M81 340.5h1M80 349.5h1M82 322.5h1M64 330.5h1M86 345.5h1M60 321.5h2M82 354.5h1M61 346.5h2M88 352.5h1M77 344.5h2M71 334.5h1M82 330.5h1M57 348.5h1M61 310.5h2M86 317.5h1M78 341.5h1M68 348.5h1M79 340.5h1M69 328.5h1M72 342.5h1M53 356.5h1M68 342.5h2M57 318.5h1M83 334.5h2M59 338.5h1M100 301.5h1M71 329.5h1M86 332.5h1M85 328.5h1M71 332.5h1M45 333.5h1M72 336.5h1M65 329.5h1M66 346.5h1M82 335.5h1M98 347.5h1M73 337.5h1M66 307.5h2M78 311.5h1M74 342.5h1M71 332.5h1M88 318.5h1M71 322.5h1M77 347.5h2M63 312.5h2M64 332.5h2M77 366.5h1M78 331.5h1M58 332.5h1M66 320.5h1M88 322.5h1M97 290.5h2M73 308.5h1M65 321.5h1M84 288.5h1M79 329.5h2M70 313.5h1M82 345.5h1M72 313.5h1M88 355.5h1M73 336.5h1M77 340.5h1M88 350.5h2M85 320.5h1M83 348.5h1M75 322.5h1M54 315.5h1M70 328.5h1M52 302.5h1M82 323.5h1M84 332.5h1M65 309.5h2M73 338.5h1M97 336.5h2M108 354.5h1M89 350.5h1M82 338.5h1M109 285.5h1M100 340.5h2M51 317.5h2M70 344.5h1M62 344.5h1M103 348.5h1M60 309.5h1M80 348.5h1M91 328.5h2M76 319.5h1M83 313.5h1M79 346.5h1M88 331.5h1M71 339.5h2M107 333.5h1M91 322.5h1M84 345.5h1M80 333.5h1M90 327.5h1M70 319.5h1M45 338.5h1M69 320.5h1M74 323.5h1M64 326.5h1M89 318.5h2M96 337.5h1M54 306.5h1M79 303.5h1M105 335.5h1M73 349.5h1M91 310.5h1M54 347.5h2M51 344.5h1M65 345.5h1M67 342.5h1M66 328.5h2M76 350.5h1M52 341.5h1M67 354.5h1M71 342.5h1M77 327.5h2M63 305.5h1M58 334.5h2M79 326.5h1M88 339.5h1M110 381.5h1M149 383.5h1M139 374.5h1M152 379.5h1M107 397.5h2M120 409.5h1M139 393.5h2M118 365.5h1M134 378.5h1M120 381.5h2M142 372.5h2M128 365.5h1M117 369.5h2M99 396.5h1M129 383.5h1M134 395.5h1M65 378.5h1M139 374.5h1M103 377.5h2M83 376.5h1M85 372.5h2M139 371.5h1M121 380.5h1M133 382.5h1M75 377.5h2M129 367.5h1M105 376.5h1M114 369.5h1M66 375.5h1M143 375.5h1M134 392.5h2M125 373.5h1M132 371.5h1M115 370.5h2M111 372.5h1M90 364.5h2M117 374.5h1M144 364.5h1M70 369.5h1M133 368.5h2M74 386.5h1M81 373.5h1M75 374.5h1M138 372.5h1M113 375.5h2M150 379.5h2M113 377.5h2M142 380.5h2M140 372.5h2M148 377.5h2M135 374.5h1M64 364.5h1M100 367.5h1M125 371.5h1M123 365.5h2M101 383.5h1M100 405.5h1M139 385.5h1M139 394.5h1M72 385.5h1M137 378.5h1M99 373.5h1M124 380.5h1M110 365.5h1M109 364.5h1M132 382.5h1M123 379.5h2M97 367.5h2M135 377.5h1M103 376.5h1M134 372.5h1M106 366.5h1M101 369.5h2M148 370.5h1M147 369.5h2M113 365.5h2M130 391.5h1M133 378.5h1M140 370.5h1M153 382.5h1M131 378.5h1M132 380.5h2M114 363.5h1M94 391.5h1M112 374.5h1M115 367.5h1M144 374.5h1M123 390.5h1M93 368.5h1M98 366.5h1M117 366.5h1M110 380.5h1M79 390.5h1M91 365.5h1M113 414.5h2M125 368.5h1M74 368.5h1M150 384.5h1M131 367.5h1M113 404.5h1M146 380.5h1M109 366.5h1M139 383.5h2M120 391.5h2M136 385.5h1M107 374.5h1M121 375.5h1M127 384.5h1M139 380.5h2M154 368.5h2M90 379.5h2M143 378.5h1M138 375.5h1M129 368.5h1M140 380.5h1M128 378.5h1M142 377.5h1M148 385.5h1M101 379.5h1M112 368.5h1M146 396.5h1M149 382.5h1M101 380.5h1M113 368.5h1M128 365.5h1M148 378.5h1M145 367.5h2M139 380.5h2M127 382.5h1M113 382.5h1M143 385.5h1M124 371.5h2M147 381.5h1M141 365.5h2M90 370.5h1M92 366.5h2M128 388.5h1M93 389.5h1M94 386.5h1M122 387.5h1M84 389.5h1M137 388.5h2M75 394.5h1M108 364.5h1M95 380.5h1M134 369.5h1M130 387.5h2M127 374.5h1M141 375.5h1M114 397.5h1M134 380.5h1M126 384.5h2M140 387.5h1M130 380.5h1M140 376.5h2M102 379.5h1M99 378.5h1M125 372.5h1M69 384.5h1M142 371.5h1M149 396.5h1M110 365.5h1M146 373.5h1M110 386.5h1M90 376.5h1M136 380.5h1M101 376.5h1M97 376.5h1M70 366.5h1M85 385.5h2M126 384.5h2M141 379.5h1M119 368.5h1M114 395.5h1M138 373.5h1M94 369.5h1M120 379.5h1M115 392.5h1M128 387.5h1M123 372.5h1M123 366.5h1M115 391.5h1M106 370.5h1M122 367.5h1M131 376.5h1M99 381.5h1M136 378.5h1M150 381.5h2M81 384.5h1M116 401.5h1M148 388.5h2M131 366.5h1M102 395.5h1M105 390.5h1M93 378.5h1M131 406.5h1M139 380.5h1M124 385.5h2M126 379.5h1M144 375.5h1M139 380.5h1M120 382.5h1M121 388.5h1M116 406.5h1M148 403.5h1M111 393.5h2M140 400.5h2M149 386.5h2M125 398.5h2M132 391.5h2M117 406.5h1M88 396.5h1M145 392.5h1M101 431.5h2M139 387.5h1M87 381.5h2M107 399.5h2M103 393.5h1M106 418.5h1M77 400.5h1M142 383.5h1M86 412.5h1M160 352.5h1M158 335.5h2M163 350.5h1M157 348.5h1M167 303.5h1M160 368.5h1M157 358.5h1M159 348.5h1M162 339.5h2M156 327.5h2M162 348.5h2M155 322.5h1M161 364.5h1M161 334.5h1M162 371.5h1M162 309.5h1M93 284.5h1M116 295.5h2M116 314.5h1M92 283.5h1M66 303.5h1M154 301.5h1M131 312.5h1M80 300.5h1M140 297.5h1M99 305.5h2M147 294.5h2M94 308.5h1M166 315.5h1M73 313.5h1M105 320.5h2M151 288.5h1M149 316.5h1M116 297.5h2M75 305.5h2M112 290.5h1M145 270.5h1M119 301.5h1M47 326.5h1M143 373.5h1M130 390.5h1M189 362.5h2M140 344.5h1M143 356.5h2M134 350.5h1M64 336.5h2M79 342.5h2M76 416.5h1M100 350.5h1M115 370.5h1M138 386.5h1M67 341.5h1M123 401.5h1M111 380.5h1M124 341.5h1M93 413.5h1M144 404.5h1M96 362.5h2M142 309.5h1M78 375.5h2M172 398.5h1M86 335.5h1M127 322.5h1M123 296.5h1M138 393.5h1M151 292.5h2M84 354.5h2M60 343.5h1M106 428.5h1M50 396.5h1M58 367.5h1M141 314.5h1M164 364.5h2M193 302.5h1M126 346.5h1M62 317.5h1M78 329.5h2M145 364.5h1M76 363.5h1M73 390.5h1M160 346.5h1M139 349.5h2M143 324.5h1M106 294.5h1M125 326.5h1M127 315.5h1M117 315.5h1M63 343.5h1M152 370.5h1M95 387.5h2M89 326.5h2M150 346.5h1M138 362.5h1M147 364.5h1M67 373.5h1M147 353.5h1M105 347.5h2M86 270.5h2M120 318.5h1M100 333.5h2M128 301.5h1M129 329.5h1M124 364.5h1M72 353.5h1M60 362.5h1M125 346.5h1M113 363.5h1M87 311.5h1M52 362.5h1M143 355.5h1M66 321.5h1M142 376.5h1M140 292.5h1M102 340.5h2M133 341.5h1M88 340.5h1M149 359.5h1M75 345.5h1M146 305.5h1M85 316.5h1M193 300.5h1M141 347.5h1M45 342.5h2M143 285.5h1M140 270.5h1M134 292.5h1M143 335.5h1M174 378.5h2M94 333.5h2M137 291.5h1M61 298.5h1M75 424.5h1M100 358.5h2M66 305.5h1M184 374.5h1M149 415.5h2M169 381.5h1M71 295.5h1M152 353.5h1M149 306.5h1M102 424.5h1M157 337.5h2M153 379.5h1M84 361.5h2M137 271.5h1M159 383.5h2M74 362.5h1M136 342.5h2M153 337.5h1M110 369.5h1M95 350.5h2M135 283.5h1M143 285.5h1M100 380.5h1M59 362.5h2M106 350.5h1M92 361.5h1M135 303.5h1M151 270.5h1M158 381.5h1M166 386.5h2M110 315.5h2M146 356.5h2M93 399.5h1M61 406.5h1M93 346.5h1M157 341.5h1M92 336.5h1M91 334.5h1M90 323.5h2M61 345.5h2M66 407.5h1M127 349.5h1M128 313.5h1M163 387.5h1M128 346.5h2M155 367.5h1M91 327.5h1M151 354.5h2M134 379.5h2M112 332.5h1M83 374.5h2M158 273.5h2M105 338.5h1M88 380.5h1M57 299.5h1M119 325.5h1M125 345.5h2M116 387.5h2M140 374.5h1M156 286.5h1M112 403.5h1M58 350.5h1M127 343.5h1M152 356.5h1M132 355.5h1M95 341.5h1M88 366.5h1M98 308.5h2M138 381.5h1M150 346.5h1M114 372.5h1M158 339.5h1M131 275.5h2M148 312.5h1M107 305.5h1M142 280.5h1M116 378.5h1M88 383.5h2M124 367.5h1M87 332.5h1M150 394.5h1M60 329.5h1M108 284.5h1M90 326.5h1M107 347.5h2M62 344.5h2M75 359.5h1M57 303.5h1M146 370.5h1M143 335.5h1M137 300.5h2M117 404.5h1M140 328.5h1M153 307.5h1M137 275.5h1M138 349.5h1M79 360.5h1M104 361.5h1M128 277.5h1M130 398.5h1M138 270.5h2M130 341.5h2M137 356.5h2M122 292.5h1M136 342.5h1M153 343.5h1M104 272.5h1M104 348.5h2M109 288.5h1M94 306.5h1M105 379.5h1M128 307.5h1M153 297.5h1M49 296.5h1M124 326.5h1M109 320.5h2M156 298.5h1M142 278.5h1M157 321.5h1M126 357.5h1M126 357.5h1M49 319.5h1M146 302.5h1M180 345.5h2M134 354.5h1M45 358.5h2M62 339.5h1M163 341.5h1M109 419.5h1M63 317.5h1M133 333.5h1M107 313.5h1M155 344.5h1M116 297.5h1M129 365.5h1M118 372.5h2M132 360.5h2M76 400.5h2M98 348.5h1M140 376.5h1M95 336.5h1M67 346.5h1M108 341.5h1M124 388.5h1M61 341.5h1M97 279.5h1M60 321.5h2M93 323.5h1M55 335.5h1M157 375.5h1M87 322.5h1M46 299.5h2M77 336.5h1M152 281.5h1M66 350.5h1M176 373.5h2M48 348.5h1M110 373.5h1M119 308.5h1M142 365.5h1M128 337.5h1M118 366.5h2M152 378.5h1M70 371.5h1M136 357.5h1M68 358.5h1M142 296.5h1M149 383.5h1M130 338.5h2M133 302.5h1M103 294.5h2M110 329.5h1M155 289.5h2M155 353.5h1M98 368.5h2M93 342.5h1M54 301.5h1M118 338.5h1M96 365.5h1M146 286.5h1M70 318.5h1M138 369.5h1M51 298.5h1M93 405.5h1M111 337.5h1M140 296.5h1M109 343.5h1M132 271.5h1M163 390.5h1M95 350.5h1M113 360.5h1M144 361.5h1M150 381.5h1M144 276.5h1M144 327.5h1M132 344.5h1M130 356.5h1M164 374.5h2M154 281.5h2M105 336.5h2M112 386.5h1M113 342.5h2M138 358.5h1M151 363.5h1M133 383.5h1M111 315.5h1M135 332.5h1M59 308.5h1M152 322.5h1M97 326.5h2M117 336.5h1M133 365.5h1M144 397.5h1M120 344.5h1M121 319.5h1M52 353.5h1M138 294.5h2M154 320.5h1M91 420.5h2M109 375.5h1M135 295.5h1M79 340.5h2M77 418.5h2M112 303.5h2M114 373.5h2M59 306.5h1M128 356.5h2M140 340.5h1M114 360.5h1M145 345.5h1M91 305.5h1M131 374.5h1M113 309.5h1M130 337.5h1M154 369.5h1M129 301.5h1M135 364.5h1M130 307.5h1M112 346.5h1M125 274.5h1M135 279.5h1M139 390.5h1M154 315.5h1M142 375.5h1M121 313.5h1M159 334.5h1M127 333.5h1" stroke="#000" stroke-width="1" fill="none" shape-rendering="crispEdges"/>
<path d="M92 320h2M120 331h1M126 333h1M95 326h2M77 324h1M95 342h1M120 336h1M109 332h1M112 354h2M113 338h1M112 337h1M136 343h1M120 328h1M105 323h2M112 334h1M149 312h1M91 350h1M109 350h2M102 335h1M129 317h1M116 340h2M89 333h1M103 334h1M114 344h1M115 341h1M103 310h1M108 317h1M126 340h1M126 327h2M124 325h1M132 328h1M135 368h1M130 340h1M123 321h1M124 296h2M111 330h2M105 325h2M97 348h1M100 338h1M116 351h2M100 345h1M126 339h1M110 369h1M119 360h1M94 358h1M121 356h1M130 334h1M115 346h2M126 345h2M114 335h1M143 319h1M144 330h2M85 326h1M107 345h1M95 334h1M119 303h1M109 351h1M104 327h1M125 318h1M129 343h2M130 331h1M108 322h2M135 360h1M101 347h1M105 359h1M116 345h1M133 363h1M124 332h1M129 333h1M128 322h1M88 345h1M110 318h1M120 313h1M122 330h2M124 341h1M138 346h1M128 335h1M122 352h1M111 332h1M112 335h1M129 353h1M131 348h2M97 344h1M104 319h1M117 352h1M138 331h1M118 353h1M83 335h1M117 311h2M117 333h1M127 365h1M109 348h2M114 344h2M133 344h1M108 343h1M122 354h1M109 331h1M124 342h1M101 327h1M115 366h1M99 335h1M130 297h2M97 351h2M135 323h1M105 343h2M127 330h1M136 306h1M95 344h1M119 328h2M99 361h2M100 348h1M113 315h1M116 342h2M140 313h2M109 334h1M122 346h1M94 363h2M114 335h1M108 325h2M119 326h1M104 339h1M127 342h1M119 275h1M101 342h1M99 333h1M83 346h2M136 335h1M116 354h1M128 339h1M124 334h1M117 328h1M134 333h1M115 312h1M127 342h1M138 299h1M117 319h1M119 337h1M133 344h1M86 342h1M131 316h1M91 351h1M78 349h1M130 334h2M130 345h2M136 348h2M141 356h2M146 318h1M88 335h1M109 343h1M154 366h2M116 342h2M110 331h2M112 320h1M137 353h1M110 326h1M120 339h2M115 324h1M133 326h1M131 359h2M120 342h2M124 337h1M104 332h1M98 326h1M104 352h1M89 352h1M103 316h1M99 350h1M107 351h1M120 341h1M101 346h2M94 346h1M121 341h1M105 349h1M115 349h1M117 347h1M125 328h2M128 349h1M124 344h1M121 341h1M87 353h1M120 320h1M91 344h1M125 354h1M138 335h1M114 327h1M107 323h1M94 353h1M126 329h1M133 346h1M101 352h1M101 316h1M128 352h2M122 321h1M103 319h1M128 310h1M107 328h1M108 352h2M125 334h2M102 326h2M99 354h1M123 345h1M114 330h1M130 329h2M115 308h1M124 303h2M123 348h1M139 318h1M119 312h1M119 328h1M95 334h1M120 334h1M115 338h1M122 359h2M155 339h1M82 336h2M138 315h1M121 349h1M116 313h1M125 350h1M107 307h2M99 348h1M115 341h1M120 336h1M90 331h1M133 349h2M108 327h2M92 332h1M110 350h1M105 323h1M121 330h1M122 337h1M124 318h1M119 318h2M129 329h2M119 328h2M112 359h1M116 345h1M107 365h2M112 322h1M109 356h2M109 314h1M130 315h1M104 328h1M118 357h1M135 344h1M131 337h1M139 335h1M102 294h2M119 349h1M100 348h1M144 352h1M104 339h1M120 312h1M126 336h1M119 312h2M118 318h1M119 338h2M129 351h2M126 371h1M82 333h2M102 324h2M94 344h2M118 324h1M124 332h1M99 324h1M105 348h2M115 325h1M113 336h1M119 334h1M124 358h2M112 345h2M128 340h1M124 335h1M121 323h1M132 318h1M110 358h1M111 351h1M123 348h2M116 302h2M88 365h1M118 326h2M125 347h1M103 335h2M132 327h1M123 303h1M128 332h1M128 318h1M93 351h1M156 365h1M128 323h1M120 348h1M118 330h1M110 309h1M137 351h1M129 298h1M102 342h1M131 323h2M126 357h1M96 350h1M115 353h1M109 342h1M112 337h1M100 329h2M122 337h1M131 339h1M127 338h2M121 333h1M89 346h1M118 365h1M98 305h1M140 306h1M105 348h2M126 334h1M104 337h1M102 331h1M111 366h1M118 344h1M106 331h2M103 357h1M95 350h1M148 337h1M133 331h1M101 355h1M98 362h1M81 307h1M112 329h1M109 328h1M131 320h1M107 318h2M138 335h1M117 317h1M117 335h1M126 338h2M107 357h1M117 333h2M128 309h1M115 327h2M113 337h1M107 345h1M92 343h1M127 339h1M110 364h1M100 325h1M137 320h1M133 328h1M130 325h1M125 303h2M131 353h2M117 334h1M118 338h2M102 350h1M104 337h1M111 342h1M115 303h1M124 324h1M114 333h1M120 343h1M134 342h1M118 328h1M107 334h1M113 318h2M116 350h1M117 317h1M124 323h1M119 329h1M81 341h2M120 342h1M79 335h1M124 346h1M139 312h1M132 292h1M118 337h1M77 308h1M92 348h1M94 369h1M126 337h1M88 332h1M49 356h1M124 291h1M111 349h1M120 345h1M116 330h1M109 321h1M131 342h1M130 341h1M112 365h1M107 318h1M75 327h1M127 329h2M102 315h1M86 347h2M72 325h1M148 345h1M106 331h1M131 344h2M68 324h2M63 308h2M101 360h2M123 299h1M126 308h1M128 326h1M128 306h1M112 332h1M117 329h1M114 345h1M105 327h1M84 334h1M92 341h1M140 325h1M133 325h1M114 329h1M129 319h1M98 348h2M92 340h1M103 328h1M99 357h1M111 340h2M97 360h1M54 313h1M111 340h2M130 341h1M114 333h1M125 342h2M137 329h1M136 334h1M130 360h1M120 348h1M134 332h1M137 344h2M109 332h1M129 299h1M82 337h1M129 328h1M67 357h1M89 330h1M155 359h2M49 299h1M106 368h1M144 304h1M128 282h1M66 352h1M119 337h1M85 348h1M79 342h1M126 363h1M78 303h1M104 355h1M138 319h1M127 303h1M109 346h1M116 343h1M90 365h2M134 307h1M152 344h1M99 330h2M100 331h1M92 374h1M55 317h1M96 312h1M101 296h1M112 345h1M122 305h2M76 338h2M132 339h2M107 357h1M87 299h1M123 309h2M62 322h1M119 324h1M134 336h1M101 330h1M66 359h2M73 335h1M116 355h1M125 347h1M115 311h2M157 336h1M124 348h1M95 359h1M100 344h2M117 311h2M56 314h2M109 315h1M82 320h1M121 324h1M128 317h1M121 355h1M83 340h1M87 328h2M105 349h1M121 314h2M123 307h1M53 325h2M89 319h1M138 351h1M125 311h1M113 334h1M51 347h1M136 321h1M148 328h2M124 318h2M131 347h2M111 332h2M148 348h2M128 323h1M127 346h1M110 331h1M133 336h1M71 336h2M101 349h2M95 345h1M118 308h1M117 349h1M137 323h2M110 332h1M122 330h1M127 328h1M96 327h1M136 362h1M61 348h1M129 299h1M123 345h1M91 347h1M134 352h1M88 334h1M83 340h1M123 310h1M151 346h1M61 318h1M123 343h1M119 348h1M94 347h1M118 349h1M105 353h2M54 307h1M114 327h1M145 337h1M124 320h1M118 343h2M139 317h1M131 316h1M147 319h1M48 307h1M120 336h1M88 358h1M93 350h1M125 348h1M85 328h2M128 349h1M55 346h1M95 310h1M143 340h1M105 333h2M85 343h1M93 326h2M133 349h1M105 365h1M94 375h1M128 328h1M109 330h1M107 366h1M150 323h1M121 354h1M145 322h1M127 345h1M100 324h2M97 365h1M124 340h1M88 348h1M97 331h1M74 339h1M109 311h1M135 339h1M57 325h1M86 271h1M81 338h2M105 343h1M49 319h2M92 346h1M102 324h1M95 338h1M97 326h1M117 310h1M139 333h2M58 348h1M132 312h1M127 342h1M130 312h1M120 316h1M73 338h1M108 343h1M130 331h2M110 369h1M121 319h1M80 329h1M122 341h1M117 344h1M107 324h1M91 327h1M92 355h2M48 341h1M71 329h1M61 330h1M106 327h1M61 359h1M67 309h1M60 344h1M79 341h1M65 317h1M75 326h1M97 322h1M54 334h2M84 336h2M70 325h1M50 309h1M77 342h2M74 326h1M97 321h1M66 319h1M70 322h2M57 293h1M116 327h1M45 346h2M97 296h1M89 335h2M74 337h1M95 338h2M104 333h1M80 347h1M88 287h1M57 332h1M93 302h1M92 356h1M62 358h1M96 300h1M118 306h2M134 372h1M126 376h1M84 372h1M148 383h1M147 377h1M133 379h1M139 364h1M92 379h1M75 374h2M91 367h2M124 369h1M135 365h1M95 376h2M86 381h1M111 365h1M140 364h1M145 366h1M129 374h2M128 382h1M152 375h1M140 379h1M141 398h2M122 369h1M139 374h1M114 392h1M133 367h1M74 380h2M131 366h1M108 368h1M121 380h2M103 370h1M86 388h1M90 390h1M142 390h1M67 372h1M104 382h1M107 365h1M128 390h1M129 381h1M141 367h1M139 365h2M92 395h2M137 386h1M145 371h2M115 366h1M135 384h1M129 389h1M133 396h1M145 373h1M130 364h1M95 396h1M124 373h1M141 384h1M143 364h1M138 369h1M136 379h1M151 382h1M71 388h1M131 390h2M147 384h2M137 390h1M115 371h2M148 388h1M105 371h1M124 391h1M141 393h1M88 403h1M116 382h2M73 387h1M71 381h2M157 322h1M159 381h1M162 322h2M139 325h1M103 296h1M136 314h1M125 322h1M140 304h1M140 285h1M107 293h1M74 293h1M47 314h1M91 309h1M145 281h1M143 309h1M125 319h2M125 358h1M108 389h2M125 298h1M119 380h1M177 362h1M138 362h1M130 362h1M117 288h2M86 362h2M67 359h1M117 291h1M133 307h1M140 372h1M148 330h1M131 386h1M106 347h1M133 335h1M120 278h2M171 399h1M60 424h2M96 336h1M122 326h2M121 327h2M159 348h1M137 306h1M70 308h1M136 296h1M95 383h2M193 292h1M92 351h2M124 409h1M86 422h1M136 356h1M183 403h1M77 345h1M143 381h1M56 312h1M103 361h1M68 331h1M67 347h1M127 334h2M111 363h1M78 379h1M116 396h1M145 337h2M116 276h1M133 356h1M144 311h1M135 375h1M136 334h2M54 355h1M136 378h1M48 335h1M68 400h1M80 317h2M154 393h1M120 293h1M140 348h1M124 410h2M145 409h2M136 380h1M177 382h2M48 339h1M111 398h1M130 335h1M154 350h1M112 353h1M86 273h1M127 360h2M118 358h1M139 346h1M111 299h1M87 335h1M98 291h1M73 336h1M107 283h1M146 383h1M152 339h2M87 343h1M57 306h1M144 342h1M110 332h1M100 327h2M133 339h2M152 349h1M119 400h1M127 424h1M147 370h1M181 351h1M109 348h2M77 369h2M124 375h1M82 357h2M148 401h1M151 286h1M56 326h1M70 345h1M96 378h2M150 296h1M72 324h1M64 349h1M145 282h2M158 376h1M185 341h1M154 427h1M100 281h1M140 395h2M116 334h1M91 365h1M134 336h1M114 433h2M100 387h1M57 359h1M158 359h1M141 311h2M145 383h2M56 330h2M115 334h1M114 283h1M153 356h1M86 332h1" stroke="#000" stroke-width="2" fill="none" shape-rendering="crispEdges"/>
<path d="M357 327.5h1M376 340.5h2M362 326.5h1M366 350.5h2M354 326.5h1M360 331.5h2M376 320.5h1M358 336.5h1M354 320.5h2M388 359.5h2M354 350.5h2M379 332.5h1M376 320.5h2M376 330.5h2M363 353.5h2M348 296.5h1M346 370.5h1M356 335.5h1M368 324.5h1M385 348.5h2M360 337.5h1M356 312.5h1M334 328.5h2M387 344.5h1M354 363.5h1M401 338.5h2M375 315.5h1M376 319.5h2M384 329.5h2M346 330.5h1M365 348.5h2M357 296.5h1M363 340.5h1M365 281.5h2M378 305.5h1M370 310.5h2M367 320.5h2M395 363.5h1M376 321.5h2M360 332.5h1M362 327.5h1M349 339.5h2M364 357.5h1M364 347.5h2M352 337.5h1M354 299.5h1M385 320.5h2M357 312.5h1M361 321.5h1M363 333.5h2M391 346.5h2M380 353.5h1M372 341.5h1M361 357.5h2M370 366.5h1M378 346.5h1M370 320.5h1M405 331.5h1M375 351.5h2M378 308.5h1M359 324.5h1M363 315.5h1M369 346.5h2M373 303.5h1M387 330.5h2M380 354.5h1M377 338.5h1M370 329.5h1M344 330.5h1M399 313.5h1M377 347.5h1M394 339.5h1M351 295.5h1M361 334.5h1M360 341.5h2M377 326.5h2M374 354.5h1M359 328.5h1M363 294.5h2M375 360.5h1M373 342.5h1M352 350.5h1M378 358.5h2M367 341.5h1M392 297.5h1M361 334.5h1M394 323.5h1M352 326.5h1M371 321.5h2M401 330.5h1M356 314.5h2M387 352.5h1M368 286.5h1M390 336.5h2M351 311.5h1M358 347.5h1M382 355.5h1M362 335.5h1M351 347.5h2M368 346.5h1M375 354.5h1M362 318.5h1M377 328.5h1M377 347.5h1M394 317.5h1M373 305.5h1M380 338.5h1M348 329.5h2M372 353.5h1M365 319.5h1M391 309.5h1M372 331.5h2M358 302.5h2M353 349.5h1M370 321.5h1M382 327.5h1M355 348.5h1M365 315.5h1M370 313.5h1M377 343.5h1M370 319.5h1M366 287.5h1M366 337.5h1M363 328.5h1M364 329.5h1M379 331.5h1M386 325.5h1M399 339.5h2M346 357.5h1M369 323.5h2M373 321.5h1M369 344.5h1M377 370.5h2M396 342.5h1M382 323.5h1M372 340.5h1M378 342.5h1M380 297.5h2M358 336.5h1M377 340.5h2M393 323.5h1M354 346.5h1M352 341.5h1M374 319.5h1M371 340.5h1M372 320.5h1M360 353.5h1M356 334.5h2M376 318.5h2M362 338.5h1M401 312.5h1M371 293.5h1M360 344.5h2M403 308.5h1M365 320.5h1M368 319.5h1M346 342.5h1M377 329.5h1M363 354.5h1M334 329.5h2M372 295.5h1M380 303.5h1M348 350.5h1M366 293.5h1M381 352.5h1M364 347.5h1M394 314.5h1M389 303.5h1M368 339.5h2M366 326.5h1M373 299.5h1M351 307.5h1M390 318.5h1M384 312.5h1M373 304.5h1M373 331.5h2M373 338.5h1M345 285.5h1M393 327.5h1M374 343.5h2M352 305.5h1M377 330.5h1M362 347.5h1M367 307.5h1M374 321.5h2M368 333.5h1M367 334.5h1M366 362.5h2M385 325.5h2M373 333.5h1M361 325.5h2M371 332.5h1M373 318.5h1M371 314.5h1M365 318.5h1M366 346.5h1M394 348.5h1M354 328.5h1M369 358.5h1M364 336.5h1M366 342.5h2M360 338.5h2M377 383.5h1M361 311.5h1M384 321.5h1M344 361.5h1M364 323.5h1M360 345.5h1M354 316.5h1M371 324.5h2M364 307.5h2M338 351.5h1M384 355.5h1M370 320.5h1M381 317.5h2M373 346.5h1M383 331.5h1M370 325.5h1M369 322.5h1M356 342.5h2M368 344.5h2M372 314.5h1M368 342.5h1M371 335.5h1M386 361.5h1M361 343.5h1M373 338.5h2M368 348.5h1M373 326.5h2M368 340.5h1M372 342.5h1M360 348.5h1M374 332.5h1M370 354.5h2M355 342.5h2M345 331.5h2M367 350.5h2M370 340.5h2M365 311.5h1M386 343.5h1M383 343.5h1M355 322.5h1M395 283.5h1M362 357.5h1M382 340.5h1M389 337.5h1M390 310.5h1M368 314.5h1M369 345.5h1M372 312.5h1M385 323.5h1M354 330.5h1M345 324.5h1M360 344.5h1M416 344.5h1M353 315.5h1M390 356.5h1M362 344.5h1M402 323.5h1M364 354.5h2M359 335.5h1M385 325.5h1M374 328.5h1M369 297.5h2M375 328.5h1M367 316.5h1M380 351.5h2M381 322.5h1M363 328.5h1M390 349.5h1M395 354.5h1M355 345.5h1M366 332.5h1M370 332.5h1M384 357.5h1M369 325.5h1M372 315.5h2M372 306.5h1M379 331.5h1M369 311.5h2M362 329.5h2M367 334.5h1M389 323.5h1M367 319.5h2M366 368.5h1M362 338.5h1M400 321.5h1M363 291.5h1M378 346.5h1M350 318.5h1M399 334.5h1M376 311.5h1M365 321.5h1M375 373.5h1M397 346.5h1M371 310.5h1M381 334.5h1M368 324.5h1M412 348.5h2M391 325.5h2M393 328.5h2M376 319.5h1M374 348.5h2M358 338.5h1M371 348.5h1M366 321.5h1M369 312.5h1M369 324.5h1M373 330.5h1M391 331.5h1M380 307.5h2M369 293.5h1M357 359.5h2M368 354.5h2M355 342.5h2M380 350.5h1M349 337.5h1M366 320.5h1M358 285.5h1M356 307.5h1M362 327.5h2M371 326.5h2M394 313.5h1M376 323.5h1M413 312.5h2M395 335.5h2M386 354.5h1M367 316.5h1M373 330.5h1M363 339.5h1M369 333.5h1M375 291.5h1M379 312.5h1M387 338.5h1M382 313.5h1M394 316.5h1M352 334.5h1M377 309.5h1M367 335.5h1M370 345.5h2M374 334.5h1M347 317.5h1M361 324.5h1M402 338.5h2M375 327.5h2M374 360.5h2M358 350.5h2M366 368.5h1M355 343.5h1M364 342.5h1M374 357.5h1M373 350.5h1M378 326.5h1M352 337.5h1M369 312.5h1M364 318.5h1M359 343.5h2M394 340.5h1M362 324.5h1M369 307.5h2M393 314.5h1M363 353.5h1M356 323.5h2M363 348.5h1M373 321.5h1M365 290.5h1M398 343.5h1M371 332.5h1M378 314.5h1M391 339.5h1M380 362.5h1M372 341.5h1M402 299.5h1M363 340.5h1M382 307.5h1M357 328.5h2M372 316.5h1M406 297.5h1M372 316.5h1M352 302.5h1M377 328.5h2M364 334.5h1M381 321.5h1M376 338.5h1M370 290.5h1M361 339.5h1M383 329.5h1M374 341.5h1M363 344.5h2M370 323.5h1M370 347.5h2M384 299.5h1M373 338.5h2M361 303.5h1M377 302.5h1M359 316.5h1M369 332.5h1M358 324.5h2M354 346.5h1M361 330.5h2M366 341.5h1M372 334.5h1M382 307.5h1M383 326.5h1M380 329.5h1M351 321.5h1M355 326.5h1M387 332.5h1M371 339.5h1M379 357.5h1M376 347.5h1M380 349.5h1M356 314.5h1M359 321.5h2M347 317.5h1M375 309.5h1M353 344.5h1M394 329.5h1M370 334.5h1M366 312.5h2M349 296.5h1M373 342.5h1M390 304.5h1M361 319.5h1M399 339.5h1M360 326.5h1M359 306.5h1M391 364.5h1M350 314.5h1M374 351.5h1M374 345.5h1M365 304.5h1M386 327.5h2M392 319.5h1M377 345.5h2M360 346.5h1M393 354.5h1M354 346.5h2M403 292.5h1M386 340.5h1M387 293.5h1M390 319.5h1M357 363.5h2M361 322.5h2M381 329.5h2M376 300.5h1M386 335.5h2M383 302.5h2M376 316.5h2M361 313.5h1M368 325.5h1M350 324.5h1M370 321.5h2M362 349.5h2M354 300.5h2M367 328.5h1M360 345.5h1M354 358.5h1M345 355.5h2M371 331.5h1M385 333.5h1M369 331.5h2M359 319.5h1M355 336.5h1M383 328.5h1M366 327.5h1M377 330.5h1M355 314.5h1M368 335.5h1M375 322.5h1M355 331.5h2M378 333.5h1M356 286.5h1M384 373.5h1M393 313.5h1M365 326.5h1M358 329.5h1M357 325.5h1M400 328.5h1M372 294.5h2M359 331.5h1M372 315.5h1M363 329.5h2M355 324.5h1M374 322.5h2M342 320.5h1M381 334.5h2M350 336.5h1M364 364.5h1M391 319.5h2M380 322.5h2M381 293.5h1M375 340.5h1M354 334.5h1M382 289.5h1M371 297.5h1M383 341.5h1M339 331.5h1M400 304.5h1M414 328.5h1M351 335.5h1M365 336.5h1M357 320.5h1M347 345.5h1M388 334.5h1M363 325.5h1M387 319.5h1M368 320.5h1M370 337.5h1M396 319.5h2M357 367.5h1M356 339.5h1M344 317.5h1M390 309.5h1M365 306.5h1M407 324.5h1M389 343.5h1M359 315.5h1M355 334.5h1M360 330.5h1M360 325.5h1M346 328.5h1M383 321.5h1M379 337.5h1M360 294.5h1M373 312.5h1M399 324.5h1M354 334.5h1M356 333.5h1M372 314.5h1M360 336.5h1M359 352.5h2M354 353.5h1M380 309.5h1M369 312.5h1M369 335.5h2M356 330.5h2M386 315.5h1M370 326.5h1M366 335.5h1M374 343.5h2M356 310.5h2M376 320.5h1M356 315.5h1M347 311.5h1M372 299.5h2M373 345.5h2M334 367.5h2M362 351.5h2M380 340.5h1M352 345.5h1M357 360.5h1M415 337.5h1M368 298.5h2M396 362.5h1M405 277.5h1M391 306.5h1M373 318.5h1M395 341.5h1M388 346.5h1M372 333.5h1M366 344.5h1M376 330.5h1M374 328.5h2M356 316.5h1M370 342.5h1M362 322.5h1M386 327.5h1M377 323.5h1M376 342.5h1M400 310.5h2M364 334.5h1M370 343.5h1M367 338.5h1M367 338.5h1M350 330.5h2M373 321.5h2M386 281.5h1M386 319.5h1M354 358.5h1M349 311.5h2M358 333.5h1M379 293.5h1M376 350.5h1M391 348.5h1M364 336.5h1M354 321.5h1M349 333.5h1M390 335.5h2M394 316.5h2M398 315.5h1M379 299.5h1M373 357.5h1M394 335.5h2M401 355.5h1M399 344.5h1M348 311.5h2M363 323.5h1M400 348.5h1M359 318.5h1M370 331.5h1M391 319.5h1M368 341.5h2M357 340.5h1M361 299.5h2M364 328.5h1M382 356.5h2M362 315.5h1M386 336.5h1M355 306.5h1M358 352.5h1M357 346.5h1M363 336.5h2M381 341.5h1M371 312.5h1M384 326.5h1M363 327.5h1M379 318.5h1M391 306.5h1M378 339.5h1M382 359.5h2M352 324.5h2M373 310.5h2M366 345.5h1M410 327.5h1M372 315.5h1M342 354.5h1M394 352.5h1M350 358.5h2M342 327.5h1M377 341.5h2M367 319.5h1M371 346.5h2M372 346.5h1M355 320.5h1M395 330.5h2M355 345.5h1M349 341.5h1M375 307.5h1M356 328.5h1M375 325.5h2M353 327.5h1M378 331.5h1M364 343.5h1M370 312.5h1M379 327.5h1M365 333.5h2M377 340.5h2M359 315.5h1M377 321.5h1M352 348.5h1M366 318.5h1M383 332.5h1M356 335.5h1M395 333.5h2M363 337.5h1M354 309.5h2M380 347.5h1M367 327.5h1M395 381.5h2M369 311.5h1M345 319.5h1M403 372.5h1M354 354.5h2M374 324.5h1M366 331.5h1M389 315.5h1M410 340.5h1M353 362.5h1M395 324.5h2M369 315.5h1M357 344.5h1M366 323.5h1M367 351.5h2M359 323.5h1M363 353.5h1M377 337.5h1M374 312.5h1M359 313.5h2M365 291.5h1M385 329.5h1M364 314.5h1M372 337.5h2M378 355.5h1M370 311.5h1M358 333.5h2M374 305.5h2M368 305.5h1M373 345.5h2M371 327.5h1M361 323.5h1M365 336.5h1M382 298.5h1M362 321.5h1M360 330.5h2M407 313.5h2M362 345.5h1M382 311.5h2M369 335.5h1M352 333.5h2M377 321.5h2M381 331.5h1M365 319.5h2M384 316.5h1M373 323.5h1M350 288.5h1M373 352.5h2M358 356.5h1M369 306.5h1M351 333.5h1M384 296.5h1M356 323.5h1M371 342.5h1M367 363.5h1M399 332.5h1M367 328.5h1M363 327.5h1M405 298.5h2M336 335.5h2M378 306.5h1M380 320.5h2M389 293.5h1M387 358.5h1M366 332.5h2M374 327.5h1M347 326.5h2M393 296.5h2M372 348.5h1M403 342.5h1M376 326.5h1M360 313.5h1M376 318.5h1M368 315.5h1M365 316.5h1M375 298.5h1M368 327.5h1M397 325.5h1M388 368.5h1M362 323.5h1M391 345.5h1M357 350.5h2M394 314.5h1M371 357.5h1M375 345.5h1M366 328.5h1M355 313.5h1M363 328.5h2M369 315.5h1M365 370.5h2M361 328.5h1M356 338.5h2M355 346.5h1M369 285.5h1M403 343.5h2M353 351.5h1M358 340.5h2M388 360.5h1M367 296.5h1M366 324.5h2M363 313.5h2M371 311.5h2M352 333.5h2M377 306.5h1M394 317.5h1M364 292.5h1M357 298.5h2M361 332.5h1M369 304.5h1M374 308.5h2M376 345.5h1M372 328.5h1M356 331.5h1M356 311.5h1M384 287.5h1M406 327.5h1M352 287.5h2M370 323.5h2M389 333.5h2M361 326.5h1M381 325.5h1M403 338.5h2M358 337.5h1M377 292.5h2M370 356.5h1M340 337.5h1M359 347.5h1M345 346.5h1M367 321.5h1M385 322.5h2M355 314.5h1M379 333.5h1M364 326.5h2M376 332.5h1M379 300.5h1M367 340.5h1M370 343.5h1M372 307.5h1M362 315.5h1M394 311.5h1M386 349.5h1M369 311.5h1M383 341.5h1M355 357.5h1M364 324.5h1M370 311.5h1M403 316.5h1M359 338.5h2M388 327.5h1M354 335.5h1M343 347.5h1M369 313.5h2M347 335.5h2M377 307.5h1M379 324.5h2M383 316.5h1M393 290.5h1M382 324.5h1M374 299.5h1M377 316.5h1M346 326.5h1M386 329.5h2M363 304.5h1M373 323.5h1M363 337.5h1M391 334.5h1M364 352.5h1M381 318.5h1M385 315.5h1M373 347.5h2M374 312.5h1M379 338.5h1M380 344.5h1M365 343.5h1M392 341.5h1M394 341.5h1M380 314.5h1M371 312.5h1M384 336.5h1M367 309.5h1M387 322.5h1M368 331.5h1M390 319.5h1M338 312.5h2M375 364.5h1M348 355.5h1M355 321.5h1M362 338.5h1M368 382.5h1M367 318.5h1M363 356.5h2M398 294.5h1M384 344.5h1M353 337.5h1M382 325.5h1M394 341.5h1M369 330.5h1M396 357.5h2M378 324.5h1M377 309.5h1M381 349.5h1M374 320.5h2M360 338.5h2M352 339.5h1M364 283.5h1M374 291.5h2M397 315.5h1M379 305.5h1M367 346.5h1M367 323.5h1M374 325.5h1M396 336.5h1M377 288.5h2M375 312.5h1M386 311.5h1M375 323.5h1M359 346.5h1M363 320.5h1M403 321.5h1M376 338.5h1M353 325.5h1M388 331.5h1M368 330.5h2M395 311.5h1M357 332.5h1M366 323.5h1M370 289.5h1M362 339.5h1M380 346.5h1M350 324.5h2M359 347.5h2M360 303.5h1M362 334.5h1M365 333.5h1M384 318.5h2M362 306.5h2M396 340.5h1M359 331.5h1M354 333.5h1M359 329.5h1M350 331.5h1M402 308.5h1M362 330.5h1M381 328.5h1M363 341.5h1M387 338.5h2M360 320.5h2M344 344.5h1M371 318.5h1M377 302.5h1M397 329.5h1M376 301.5h2M354 353.5h1M355 346.5h1M375 314.5h1M393 326.5h1M392 299.5h1M357 327.5h1M394 305.5h1M355 348.5h2M392 279.5h2M374 351.5h2M374 345.5h1M399 293.5h2M370 329.5h1M347 360.5h2M380 356.5h1M371 353.5h1M373 303.5h1M360 353.5h1M395 320.5h2M367 286.5h1M355 305.5h2M306 311.5h1M396 353.5h1M366 340.5h1M367 324.5h1M356 355.5h2M375 344.5h1M395 305.5h1M364 355.5h1M377 343.5h1M382 307.5h1M376 338.5h1M387 330.5h2M365 295.5h2M378 311.5h1M399 339.5h1M338 293.5h1M374 320.5h2M367 343.5h1M332 307.5h2M376 346.5h1M379 355.5h2M368 294.5h1M370 319.5h1M341 293.5h1M346 360.5h1M383 349.5h2M376 346.5h1M358 320.5h1M359 337.5h1M365 340.5h1M340 361.5h2M372 360.5h1M345 354.5h1M337 332.5h1M386 318.5h1M350 331.5h2M368 352.5h1M368 354.5h2M372 317.5h1M359 324.5h1M368 323.5h1M367 317.5h1M377 338.5h1M361 309.5h1M358 327.5h1M380 285.5h2M344 316.5h1M375 353.5h1M344 285.5h1M358 314.5h1M371 296.5h1M351 354.5h1M377 303.5h1M388 291.5h1M366 334.5h1M348 328.5h1M369 337.5h1M366 304.5h1M381 328.5h1M370 357.5h1M374 309.5h1M361 352.5h2M358 316.5h1M366 302.5h1M379 307.5h1M362 322.5h1M364 328.5h2M357 349.5h1M392 281.5h1M389 309.5h2M372 314.5h1M352 331.5h1M376 326.5h2M361 316.5h2M360 311.5h2M332 332.5h1M371 333.5h1M375 320.5h1M355 304.5h2M348 295.5h1M356 318.5h1M377 292.5h2M343 313.5h2M350 363.5h1M350 323.5h1M363 311.5h1M389 272.5h1M394 303.5h1M357 295.5h1M359 336.5h1M356 318.5h2M379 348.5h1M379 296.5h2M370 354.5h1M365 339.5h1M384 318.5h2M398 359.5h1M394 306.5h1M367 320.5h2M350 360.5h1M359 300.5h1M345 353.5h1M351 315.5h2M372 344.5h1M390 319.5h2M375 308.5h1M376 352.5h1M362 335.5h1M352 304.5h2M364 308.5h1M300 328.5h1M369 347.5h1M387 349.5h1M375 324.5h1M375 351.5h1M348 337.5h2M344 319.5h2M364 347.5h1M368 336.5h2M330 331.5h1M345 282.5h2M339 321.5h2M371 301.5h1M388 298.5h1M351 326.5h1M372 307.5h1M358 299.5h1M361 336.5h1M345 357.5h1M370 357.5h1M370 285.5h2M354 310.5h2M399 318.5h1M350 342.5h1M367 357.5h1M352 318.5h1M354 309.5h1M393 347.5h2M376 326.5h2M350 345.5h2M393 322.5h1M357 338.5h1M397 295.5h1M393 315.5h1M365 348.5h1M362 364.5h1M389 322.5h1M374 344.5h1M373 316.5h1M396 322.5h2M375 358.5h1M392 347.5h1M325 322.5h1M392 335.5h1M353 306.5h1M350 292.5h1M390 328.5h2M380 313.5h2M373 314.5h2M312 315.5h1M384 308.5h2M377 353.5h1M347 327.5h1M373 347.5h1M375 355.5h1M377 323.5h1M378 339.5h1M357 335.5h1M358 319.5h1M339 328.5h1M335 340.5h1M397 336.5h1M367 317.5h1M359 319.5h1M379 314.5h1M344 338.5h1M351 317.5h1M368 336.5h1M374 327.5h1M357 333.5h1M361 352.5h1M397 318.5h2M391 320.5h1M350 344.5h1M383 329.5h1M358 334.5h1M354 317.5h2M390 349.5h1M353 323.5h1M365 353.5h1M339 304.5h1M343 333.5h1M358 343.5h1M365 310.5h1M394 278.5h1M339 309.5h1M373 345.5h1M351 338.5h1M394 349.5h2M395 312.5h1M351 340.5h1M380 289.5h1M358 318.5h1M377 307.5h2M350 312.5h1M390 347.5h1M377 298.5h2M339 326.5h2M361 335.5h1M356 352.5h1M355 328.5h2M354 357.5h1M349 329.5h1M372 296.5h1M354 282.5h1M378 291.5h2M350 320.5h1M324 321.5h1M367 329.5h2M343 349.5h1M365 272.5h1M346 350.5h1M349 323.5h1M363 359.5h1M398 340.5h1M355 324.5h1M398 317.5h1M400 335.5h2M370 361.5h2M356 318.5h1M394 285.5h2M362 341.5h1M368 324.5h1M397 308.5h1M357 329.5h2M383 338.5h1M357 341.5h1M376 314.5h2M339 355.5h1M350 329.5h2M379 327.5h1M394 274.5h1M375 318.5h1M369 335.5h1M356 290.5h1M345 324.5h1M381 336.5h1M355 324.5h2M361 318.5h2M370 272.5h1M362 355.5h1M314 334.5h1M395 346.5h1M361 323.5h2M391 360.5h1M386 312.5h1M349 340.5h1M369 285.5h1M389 279.5h2M378 361.5h1M345 333.5h2M357 298.5h1M374 316.5h1M359 350.5h1M394 301.5h2M346 310.5h1M350 308.5h1M373 339.5h2M375 329.5h1M392 332.5h1M370 326.5h1M317 326.5h2M362 300.5h1M345 330.5h2M320 318.5h1M366 319.5h2M400 291.5h1M379 298.5h1M361 278.5h2M359 354.5h1M354 343.5h1M339 353.5h1M393 338.5h1M382 297.5h1M364 285.5h1M339 343.5h2M360 324.5h1M352 321.5h1M335 326.5h1M347 308.5h2M385 279.5h1M364 342.5h1M374 278.5h2M361 305.5h2M351 340.5h1M372 280.5h1M348 293.5h1M396 349.5h2M397 291.5h1M367 296.5h1M360 314.5h2M390 334.5h1M378 332.5h2M362 329.5h1M373 352.5h1M341 343.5h2M364 352.5h1M361 328.5h1M336 286.5h2M347 311.5h1M372 302.5h1M398 327.5h1M393 323.5h1M357 328.5h1M361 346.5h2M365 334.5h2M339 343.5h1M350 350.5h1M354 330.5h1M385 326.5h1M365 317.5h1M352 321.5h1M364 326.5h1M372 284.5h2M398 294.5h2M367 296.5h2M393 364.5h1M360 343.5h1M373 339.5h1M372 342.5h1M339 334.5h2M357 343.5h2M371 299.5h1M370 339.5h1M377 288.5h1M373 309.5h2M348 336.5h1M378 307.5h1M387 320.5h1M348 316.5h1M378 301.5h1M349 308.5h1M385 325.5h1M389 311.5h1M362 296.5h2M354 277.5h2M379 353.5h2M364 286.5h1M355 337.5h1M390 305.5h1M384 329.5h1M371 285.5h2M367 337.5h2M398 360.5h1M374 299.5h1M371 272.5h1M350 331.5h1M337 355.5h2M373 356.5h1M358 351.5h2M345 301.5h1M370 330.5h2M373 290.5h2M363 323.5h1M362 305.5h1M392 302.5h1M352 339.5h1M377 344.5h1M357 311.5h2M355 345.5h1M347 348.5h1M379 321.5h1M356 335.5h1M351 295.5h1M352 361.5h1M385 346.5h1M399 350.5h2M371 297.5h1M360 334.5h2M363 340.5h1M368 297.5h2M361 295.5h2M386 352.5h1M344 272.5h1M380 341.5h1M351 276.5h1M385 319.5h1M394 338.5h1M349 349.5h1M349 349.5h1M362 313.5h1M347 351.5h1M382 301.5h2M352 350.5h1M366 339.5h2M398 335.5h2M397 340.5h1M382 286.5h1M386 283.5h1M373 296.5h1M388 336.5h2M391 356.5h1M355 295.5h1M359 319.5h1M371 335.5h1M362 353.5h1M354 345.5h1M374 325.5h1M373 297.5h1M378 334.5h2M362 303.5h1M308 317.5h1M373 303.5h2M366 296.5h1M356 344.5h2M355 306.5h1M397 361.5h1M364 275.5h1M349 333.5h1M354 352.5h2M371 300.5h1M362 272.5h2M371 341.5h1M351 324.5h1M377 276.5h1M379 356.5h1M349 309.5h1M362 330.5h1M361 314.5h1M366 330.5h1M374 307.5h2M369 338.5h1M373 276.5h1M368 324.5h1M371 305.5h1M350 337.5h1M351 338.5h2M358 345.5h1M340 299.5h1M371 339.5h1M352 350.5h1M364 347.5h1M362 316.5h1M370 336.5h1M361 310.5h2M347 329.5h1M381 296.5h1M351 306.5h1M399 295.5h1M382 322.5h1M364 347.5h1M388 300.5h1M397 362.5h1M346 358.5h1M361 291.5h1M343 338.5h1M369 298.5h1M377 274.5h2M327 320.5h1M386 309.5h1M391 311.5h1M365 308.5h1M341 283.5h2M395 311.5h1M343 338.5h1M375 316.5h1M371 290.5h1M350 288.5h1M364 326.5h2M369 341.5h2M396 333.5h2M354 321.5h1M357 314.5h2M377 344.5h1M356 346.5h2M347 328.5h1M340 333.5h1M393 312.5h1M369 277.5h1M370 333.5h2M360 301.5h1M367 341.5h1M383 351.5h1M345 314.5h1M387 317.5h1M399 348.5h1M365 276.5h1M387 306.5h1M368 352.5h1M396 333.5h1M395 325.5h1M374 329.5h1M344 323.5h1M354 338.5h1M390 288.5h1M396 332.5h1M356 338.5h1M391 312.5h1M346 298.5h2M352 344.5h1M345 344.5h1M340 325.5h1M383 323.5h1M357 350.5h1M357 296.5h1M349 333.5h1M371 360.5h1M381 354.5h1M369 337.5h1M359 348.5h1M366 340.5h1M371 323.5h1M364 327.5h1M399 336.5h2M391 311.5h2M347 306.5h2M322 327.5h1M378 298.5h2M336 316.5h2M327 326.5h2M393 349.5h1M359 310.5h1M369 326.5h1M378 286.5h1M375 296.5h1M333 338.5h2M344 322.5h2M365 330.5h1M328 329.5h2M372 353.5h1M361 327.5h1M369 329.5h2M371 350.5h1M377 289.5h1M395 326.5h2M344 338.5h1M381 326.5h1M364 309.5h1M355 333.5h1M360 333.5h1M367 363.5h2M378 315.5h1M377 363.5h2M377 294.5h1M363 347.5h1M355 354.5h1M372 285.5h2M375 323.5h2M385 305.5h2M361 363.5h1M347 328.5h2M349 327.5h1M324 345.5h2M371 339.5h1M352 295.5h2M393 347.5h2M373 323.5h1M377 337.5h1M394 348.5h1M372 337.5h1M394 324.5h1M368 309.5h1M367 285.5h2M387 345.5h1M379 343.5h1M374 355.5h2M387 281.5h1M358 290.5h1M369 295.5h1M363 325.5h2M367 310.5h1M359 324.5h1M398 330.5h2M362 305.5h1M364 324.5h1M389 363.5h1M372 307.5h1M361 348.5h2M350 320.5h1M340 323.5h1M320 318.5h1M364 332.5h1M345 314.5h1M397 292.5h1M367 363.5h1M357 343.5h2M390 350.5h1M382 302.5h1M347 336.5h1M375 336.5h1M352 300.5h1M387 293.5h2M345 298.5h1M391 280.5h1M386 302.5h2M357 280.5h1M391 316.5h1M348 280.5h2M393 281.5h1M344 289.5h2M383 298.5h2M353 286.5h1M323 293.5h1M373 316.5h1M338 300.5h1M380 290.5h1M370 289.5h2M385 292.5h1M360 307.5h1M364 296.5h1M399 303.5h1M344 322.5h1M369 286.5h1M375 305.5h2M357 310.5h1M333 313.5h1M382 293.5h1M324 318.5h2M356 284.5h1M362 301.5h1M362 300.5h1M387 292.5h1M395 277.5h2M371 331.5h1M382 281.5h1M366 314.5h1M379 295.5h1M369 287.5h1M395 278.5h1M375 300.5h1M396 295.5h2M375 286.5h2M354 273.5h2M383 299.5h1M356 297.5h2M392 274.5h2M336 291.5h1M368 285.5h1M356 306.5h1M394 309.5h1M347 290.5h2M374 296.5h1M335 306.5h1M359 277.5h1M398 288.5h1M380 310.5h1M369 288.5h1M344 301.5h1M384 293.5h1M335 278.5h1M299 309.5h2M360 297.5h1M371 281.5h1M341 286.5h1M351 302.5h1M349 301.5h1M399 272.5h1M377 296.5h1M397 293.5h1M359 281.5h1M332 291.5h1M382 281.5h1M372 290.5h1M338 303.5h1M342 285.5h2M346 315.5h1M357 293.5h1M349 275.5h1M354 285.5h1M357 277.5h1M348 296.5h1M379 300.5h2M352 313.5h2M380 313.5h1M380 290.5h2M400 281.5h1M389 305.5h1M359 283.5h1M372 288.5h2M349 285.5h1M387 279.5h2M387 285.5h1M350 277.5h1M363 280.5h1M368 317.5h1M368 290.5h1M357 317.5h2M385 295.5h1M357 298.5h1M390 293.5h1M394 293.5h1M380 275.5h2M340 288.5h2M389 284.5h1M367 296.5h1M361 295.5h1M373 300.5h1M370 288.5h1M333 292.5h1M382 285.5h2M351 315.5h1M381 288.5h2M374 310.5h1M356 305.5h2M371 299.5h1M328 295.5h1M392 285.5h1M373 306.5h2M361 295.5h1M377 301.5h1M368 313.5h1M373 295.5h1M367 296.5h1M360 281.5h1M393 309.5h1M367 289.5h1M391 281.5h1M384 293.5h2M354 286.5h1M390 298.5h1M367 285.5h1M346 283.5h1M345 294.5h1M348 307.5h2M373 301.5h1M361 298.5h1M394 296.5h2M364 304.5h1M385 298.5h1M368 300.5h1M342 292.5h1M377 276.5h2M391 291.5h1M338 301.5h1M362 289.5h1M383 312.5h1M388 305.5h1M386 273.5h1M359 308.5h1M345 286.5h1M355 308.5h2M373 292.5h1M399 292.5h1M352 288.5h1M356 285.5h1M394 280.5h1M349 281.5h1M344 296.5h2M362 290.5h1M345 291.5h2M367 282.5h1M377 299.5h1M352 320.5h1M421 362.5h1M407 317.5h1M415 358.5h1M447 311.5h1M425 304.5h2M422 322.5h1M430 298.5h2M400 349.5h2M414 281.5h1M426 292.5h2M431 346.5h1M400 292.5h1M403 300.5h1M413 322.5h1M411 338.5h1M443 326.5h1M423 339.5h2M414 326.5h1M416 352.5h1M414 341.5h1M405 352.5h2M431 349.5h2M409 361.5h1M400 295.5h1M424 287.5h1M445 300.5h2M409 321.5h1M432 350.5h1M407 343.5h1M420 304.5h1M443 329.5h2M411 292.5h1M417 316.5h1M400 326.5h1M410 291.5h1M405 319.5h1M424 328.5h1M406 301.5h1M406 335.5h1M431 317.5h1M425 339.5h1M421 312.5h1M410 273.5h1M425 336.5h1M409 312.5h2M409 363.5h1M420 274.5h1M404 280.5h1M451 284.5h1M403 326.5h1M425 342.5h1M429 321.5h2M440 341.5h1M401 352.5h1M428 331.5h1M407 362.5h1M406 328.5h2M414 353.5h1M412 276.5h1M411 340.5h1M414 308.5h1M427 290.5h1M415 328.5h1M413 303.5h1M434 358.5h1M401 291.5h1M416 272.5h2M413 310.5h2M404 309.5h1M406 333.5h1M414 341.5h1M410 322.5h2M429 325.5h1M405 298.5h1M411 302.5h1M413 305.5h1M418 305.5h1M414 283.5h1M435 303.5h1M445 349.5h1M415 346.5h2M412 299.5h2M420 321.5h1M406 284.5h2M416 327.5h1M413 316.5h1M408 323.5h1M431 300.5h1M414 305.5h1M420 314.5h1M426 311.5h1M406 351.5h1M407 320.5h1M413 341.5h1M421 309.5h1M409 348.5h1M403 336.5h2M422 294.5h1M406 351.5h2M412 329.5h1M420 316.5h1M404 271.5h1M406 350.5h1M408 301.5h1M414 325.5h1M420 343.5h1M426 324.5h2M418 308.5h2M445 308.5h1M420 349.5h1M435 286.5h1M433 329.5h1M424 356.5h2M420 275.5h1M419 339.5h1M401 275.5h1M408 303.5h1M411 350.5h2M446 322.5h1M436 354.5h1M402 284.5h1M413 282.5h1M418 350.5h1M428 340.5h1M407 329.5h2M402 283.5h1M436 339.5h2M441 307.5h2M427 293.5h1M414 325.5h1M415 347.5h2M401 326.5h2M410 282.5h1M416 338.5h2M433 293.5h2M401 347.5h1M418 300.5h2M418 324.5h2M418 348.5h2M421 302.5h1M434 347.5h1M438 325.5h1M406 329.5h1M416 297.5h1M405 319.5h1M410 344.5h2M437 339.5h2M415 357.5h1M408 347.5h1M404 324.5h1M421 300.5h1M441 326.5h1M408 311.5h1M410 306.5h1M422 317.5h1M418 343.5h1M402 342.5h2M422 307.5h1M418 300.5h1M424 303.5h1M434 348.5h1M424 301.5h2M405 289.5h2M401 300.5h1M437 352.5h1M423 306.5h1M427 349.5h2M416 274.5h2M414 299.5h1M403 304.5h2M415 283.5h1M413 301.5h2M413 330.5h1M442 335.5h1M403 309.5h1M425 352.5h1M426 342.5h1M405 329.5h1M419 347.5h1M410 339.5h2M405 289.5h1M420 351.5h1M424 341.5h1M441 314.5h1M418 305.5h1M401 290.5h1M410 282.5h2M409 279.5h1M409 292.5h1M401 319.5h1M416 322.5h1M406 284.5h1M428 318.5h2M413 360.5h1M405 283.5h1M401 288.5h1M423 333.5h1M402 305.5h1M434 341.5h1M403 296.5h1M405 289.5h1M420 276.5h2M406 345.5h1M410 359.5h1M412 325.5h1M419 301.5h1M407 317.5h1M406 325.5h1M440 291.5h1M414 336.5h2M401 295.5h1M429 336.5h1M426 352.5h1M403 357.5h2M419 312.5h2M425 289.5h1M433 296.5h2M404 300.5h1M411 286.5h1M423 331.5h2M423 329.5h1M421 315.5h1M421 300.5h1M418 281.5h1M403 316.5h1M404 301.5h2M403 338.5h1M426 313.5h1M403 328.5h2M406 302.5h1M421 280.5h2M440 322.5h1M413 359.5h1M401 301.5h1M413 298.5h2M415 329.5h1M410 343.5h1M452 338.5h1M408 287.5h2M409 325.5h2M428 292.5h1M405 341.5h1M417 277.5h1M404 331.5h1M401 331.5h1M411 301.5h1M403 275.5h1M412 357.5h1M412 294.5h1M442 330.5h1M407 331.5h1M408 360.5h2M435 348.5h2M405 328.5h1M407 355.5h1M413 347.5h1M414 317.5h1M415 299.5h1M406 352.5h1M416 321.5h1M417 273.5h1M400 327.5h1M425 332.5h2M424 286.5h1M419 329.5h1M412 346.5h1M405 319.5h1M422 277.5h1M417 354.5h1M420 335.5h1M415 339.5h2M420 299.5h2M407 320.5h1M405 289.5h1M445 339.5h1M438 285.5h1M420 315.5h1M454 350.5h1M444 309.5h1M423 332.5h1M425 321.5h1M414 272.5h1M427 333.5h2M438 353.5h2M422 358.5h2M431 283.5h2M404 305.5h1M424 321.5h2M411 364.5h1M415 297.5h1M427 340.5h1M415 354.5h1M409 313.5h2M423 330.5h1M402 326.5h1M414 327.5h2M409 324.5h1M433 324.5h2M421 335.5h2M423 339.5h1M406 303.5h2M414 318.5h1M409 331.5h1M427 348.5h1M410 282.5h1M431 334.5h2M420 335.5h1M406 337.5h2M406 307.5h1M401 305.5h2M407 322.5h2M416 348.5h2M420 318.5h1M411 336.5h2M409 334.5h2M405 353.5h1M431 331.5h2M436 298.5h2M415 289.5h1M448 291.5h1M441 315.5h2M414 322.5h2M421 326.5h1M434 322.5h1M421 326.5h1M408 295.5h1M440 330.5h2M403 293.5h1M414 361.5h1M424 341.5h1M417 284.5h2M423 322.5h2M448 349.5h2M404 319.5h1M428 356.5h1M405 337.5h2M413 330.5h1M405 276.5h1M400 326.5h1M437 305.5h2M427 295.5h2M443 299.5h2M416 319.5h1M417 310.5h1M401 341.5h2M403 342.5h1M418 334.5h2M409 347.5h1M417 305.5h1M441 354.5h1M409 356.5h1M424 303.5h1M402 301.5h2M461 326.5h1M442 334.5h1M411 363.5h1M402 310.5h1M408 320.5h1M431 336.5h1M423 344.5h2M401 291.5h2M411 360.5h1M429 277.5h1M411 322.5h1M417 293.5h1M420 349.5h2M404 272.5h1M405 292.5h1M418 347.5h1M432 336.5h1M434 311.5h1M408 277.5h2M412 280.5h1M419 355.5h1M421 327.5h1M420 358.5h1M434 347.5h1M435 341.5h1M406 296.5h1M438 338.5h2M407 296.5h1M449 320.5h1M404 341.5h2M427 347.5h2M416 320.5h1M422 317.5h1M407 287.5h1M402 303.5h1M440 349.5h1M425 352.5h1M414 314.5h2M439 302.5h2M432 335.5h1M427 337.5h1M404 339.5h1M412 330.5h1M423 346.5h1M433 317.5h1M407 310.5h1M414 298.5h1M445 312.5h2M403 293.5h1M411 305.5h1M407 322.5h1M406 340.5h1M408 328.5h1M408 363.5h1M435 349.5h1M425 352.5h1M403 321.5h1M421 338.5h1M424 314.5h2M422 330.5h1M418 344.5h1M408 295.5h1M430 278.5h1M445 313.5h2M414 321.5h2M400 321.5h2M423 280.5h1M415 297.5h2M411 358.5h1M412 317.5h1M436 303.5h1M440 342.5h2M420 350.5h1M431 332.5h2M414 287.5h2M400 336.5h2M408 291.5h1M410 283.5h1M414 355.5h1M447 337.5h2M407 355.5h2M402 325.5h1M439 308.5h1M412 313.5h1M440 336.5h2M432 355.5h1M446 353.5h1M417 291.5h1M411 332.5h2M434 294.5h2M407 350.5h1M400 291.5h1M409 305.5h1M417 354.5h1M402 285.5h1M415 285.5h1M413 308.5h2M416 351.5h2M419 361.5h2M418 312.5h2M419 347.5h1M412 359.5h1M413 328.5h1M426 318.5h2M407 330.5h1M412 338.5h1M418 318.5h1M416 325.5h1M401 332.5h1M425 324.5h1M418 321.5h2M418 274.5h2M407 273.5h1M416 298.5h1M410 313.5h1M427 312.5h2M421 339.5h1M447 335.5h1M415 312.5h1M421 301.5h1M425 327.5h1M409 332.5h1M452 320.5h1M428 297.5h1M430 344.5h1M404 324.5h2M429 357.5h1M404 329.5h1M423 362.5h1M410 315.5h1M413 293.5h1M420 306.5h2M410 350.5h1M401 349.5h2M423 349.5h1M432 278.5h2M431 271.5h1M417 361.5h1M433 363.5h2M408 363.5h2M422 316.5h1M429 317.5h2M409 340.5h1M418 352.5h1M413 287.5h1M427 327.5h1M410 295.5h2M444 290.5h1M405 311.5h1M461 307.5h1M434 294.5h2M401 335.5h1M451 321.5h1M441 334.5h2M417 295.5h1M423 320.5h1M419 344.5h1M416 348.5h1M428 332.5h1M406 304.5h2M410 351.5h1M424 303.5h2M416 351.5h1M405 302.5h1M446 302.5h1M406 319.5h1M425 303.5h1M429 330.5h1M432 305.5h1M424 344.5h2M414 358.5h1M460 322.5h1M427 300.5h1M432 304.5h1M425 342.5h1M412 326.5h1M412 331.5h1M437 296.5h2M403 346.5h2M404 359.5h1M420 278.5h1M419 313.5h1M424 318.5h1M405 312.5h1M403 342.5h1M402 333.5h2M434 347.5h1M439 335.5h1M418 294.5h1M409 284.5h2M429 310.5h1M405 301.5h2M424 314.5h1M426 344.5h2M408 289.5h2M429 350.5h1M452 340.5h1M426 343.5h2M430 283.5h1M431 340.5h1M436 345.5h1M424 338.5h2M425 318.5h1M442 320.5h1M451 357.5h1M405 335.5h1M414 335.5h1M408 291.5h1M413 354.5h1M404 335.5h1M440 337.5h1M420 359.5h1M413 294.5h2M426 280.5h1M403 337.5h2M405 312.5h1M437 289.5h1M408 354.5h2M410 338.5h1M426 308.5h2M416 350.5h1M416 359.5h2M439 306.5h1M403 308.5h1M416 334.5h2M422 361.5h1M404 303.5h2M419 304.5h1M422 330.5h1M423 321.5h1M416 276.5h1M423 340.5h1M434 330.5h2M412 364.5h1M418 331.5h1M429 288.5h2M424 315.5h2M423 361.5h1M435 313.5h1M422 336.5h1M407 348.5h2M406 312.5h2M413 281.5h1M432 304.5h1M426 345.5h2M448 310.5h1M423 339.5h1M407 298.5h2M417 284.5h2M420 346.5h2M422 338.5h1M422 357.5h1M453 326.5h1M453 345.5h1M411 314.5h2M407 317.5h1M412 335.5h1M418 319.5h2M413 308.5h2M404 327.5h1M412 296.5h2M439 285.5h1M410 299.5h2M414 283.5h1M409 305.5h1M402 355.5h1M468 345.5h1M425 312.5h2M411 322.5h1M442 306.5h1M435 322.5h2M430 345.5h1M431 339.5h1M423 337.5h1M425 279.5h2M435 295.5h2M437 341.5h1M439 344.5h1M415 345.5h1M413 304.5h1M409 307.5h1M436 317.5h2M424 345.5h1M424 316.5h1M420 285.5h1M407 338.5h1M413 323.5h2M416 323.5h2M413 295.5h1M420 298.5h2M415 309.5h1M403 328.5h1M423 332.5h1M417 359.5h1M428 286.5h2M425 326.5h2M417 334.5h1M430 328.5h2M415 295.5h1M424 305.5h1M408 324.5h1M435 343.5h1M439 330.5h1M418 290.5h1M404 343.5h1M407 324.5h1M426 335.5h1M411 303.5h1M428 290.5h1M425 348.5h2M422 303.5h1M400 296.5h1M429 362.5h1M428 272.5h2M436 299.5h2M437 285.5h1M435 345.5h2M428 331.5h2M409 303.5h1M400 289.5h1M400 317.5h2M405 341.5h1M435 331.5h1M425 298.5h1M434 291.5h1M423 326.5h1M420 362.5h2M419 322.5h2M439 273.5h1M403 332.5h2M419 320.5h1M426 278.5h2M410 333.5h2M429 300.5h1M451 329.5h1M414 334.5h1M400 303.5h2M430 301.5h1M456 330.5h1M409 337.5h2M400 353.5h1M444 300.5h1M415 324.5h1M419 333.5h1M419 294.5h1M420 317.5h1M424 312.5h2M403 278.5h1M409 335.5h1M405 326.5h2M412 337.5h1M402 307.5h1M420 337.5h1M418 279.5h1M409 333.5h2M418 322.5h1M426 353.5h1M417 325.5h2M425 318.5h1M401 341.5h1M433 342.5h2M407 281.5h2M412 381.5h1M409 374.5h1M418 377.5h1M417 374.5h1M423 378.5h1M430 367.5h1M429 383.5h1M414 376.5h1M444 364.5h1M440 391.5h1M430 371.5h2M426 375.5h1M409 377.5h1M415 390.5h1M425 397.5h1M428 370.5h2M419 387.5h1M430 388.5h2M455 380.5h1M419 374.5h1M404 394.5h1M403 369.5h1M444 382.5h2M429 380.5h1M425 392.5h1M417 370.5h2M470 382.5h2M429 392.5h1M421 365.5h1M417 387.5h2M404 380.5h1M408 396.5h1M432 388.5h1M433 370.5h1M447 392.5h1M430 399.5h2M422 397.5h1M424 373.5h1M435 378.5h2M425 387.5h1M420 376.5h1M443 366.5h2M431 378.5h1M434 378.5h1M425 394.5h1M435 380.5h1M417 393.5h1M417 387.5h1M433 377.5h1M426 374.5h2M408 368.5h1M436 378.5h1M429 373.5h2M435 397.5h2M416 378.5h2M439 374.5h1M415 374.5h1M432 381.5h2M409 373.5h2M428 394.5h1M408 393.5h1M448 368.5h1M403 373.5h2M419 383.5h2M405 371.5h1M439 371.5h2M408 367.5h1M420 373.5h2M412 374.5h1M446 367.5h1M437 384.5h1M437 379.5h1M417 374.5h1M426 399.5h1M438 378.5h2M412 382.5h1M407 382.5h1M408 368.5h1M416 370.5h2M431 374.5h1M443 374.5h1M413 375.5h2M421 364.5h1M415 370.5h1M433 391.5h1M448 393.5h1M415 391.5h2M416 381.5h2M453 396.5h1M415 371.5h1M442 378.5h1M439 390.5h1M422 397.5h1M421 373.5h2M418 387.5h1M440 395.5h2M442 383.5h1M415 380.5h1M426 373.5h1M421 369.5h2M427 373.5h2M454 378.5h1M422 374.5h2M441 394.5h1M409 378.5h1M443 399.5h1M420 379.5h1M447 388.5h2M411 379.5h1M450 368.5h1M413 376.5h1M424 378.5h1M432 373.5h2M420 379.5h1M428 379.5h1M430 413.5h1M428 388.5h1M426 376.5h1M433 377.5h1M425 367.5h1M443 383.5h1M408 371.5h1M422 376.5h2M450 379.5h1M432 390.5h2M437 378.5h1M422 368.5h1M419 382.5h1M442 378.5h2M423 377.5h1M434 406.5h1M417 369.5h1M403 382.5h1M420 383.5h1M420 382.5h1M434 390.5h1M421 366.5h1M437 370.5h1M432 403.5h1M421 389.5h1M404 401.5h2M410 380.5h1M415 382.5h1M443 370.5h1M410 382.5h2M438 368.5h1M434 367.5h1M402 396.5h1M426 371.5h1M423 389.5h2M439 387.5h1M420 371.5h1M424 400.5h2M436 365.5h1M403 391.5h1M432 385.5h1M403 378.5h1M423 381.5h1M428 384.5h1M432 367.5h2M438 374.5h1M429 399.5h1M401 365.5h1M433 371.5h1M431 376.5h2M408 376.5h1M452 384.5h1M430 379.5h1M436 381.5h1M444 386.5h2M404 385.5h2M420 387.5h1M434 404.5h1M433 374.5h1M418 379.5h1M401 367.5h1M446 377.5h1M429 377.5h2M422 372.5h2M447 395.5h2M410 366.5h1M426 389.5h2M442 375.5h1M417 380.5h2M434 384.5h1M423 370.5h1M410 369.5h2M405 380.5h1M426 386.5h1M425 376.5h2M424 367.5h1M450 371.5h1M430 374.5h1M425 373.5h1M403 381.5h2M446 369.5h1M422 380.5h1M417 394.5h2M424 379.5h2M448 372.5h1M408 380.5h1M448 386.5h2M418 387.5h1M425 385.5h1M427 374.5h2M415 394.5h1M445 396.5h2M440 373.5h1M423 390.5h1M448 379.5h1M424 372.5h1M444 382.5h1M419 368.5h1M417 379.5h1M407 376.5h1M454 380.5h1M417 370.5h2M437 376.5h1M441 374.5h1M419 369.5h1M419 368.5h1M457 373.5h1M408 369.5h2M420 378.5h1M421 372.5h1M441 370.5h1M432 392.5h1M422 393.5h1M426 373.5h2M426 384.5h1M432 384.5h2M418 372.5h1M416 365.5h1M411 373.5h1M428 364.5h2M427 370.5h2M435 379.5h1M421 375.5h1M421 382.5h1M427 383.5h2M420 388.5h1M403 382.5h1M410 384.5h1M455 392.5h1M430 400.5h2M444 389.5h1M413 373.5h1M439 367.5h1M440 373.5h1M410 407.5h1M453 378.5h1M428 371.5h1M406 371.5h1M443 364.5h1M429 374.5h1M441 388.5h1M413 365.5h1M447 396.5h1M449 369.5h1M439 384.5h1M453 374.5h1M415 375.5h1M421 398.5h1M410 391.5h2M442 372.5h1M439 372.5h1M445 383.5h1M406 378.5h1M412 386.5h2M411 395.5h1M440 389.5h2M445 382.5h1M428 390.5h2M459 384.5h1M425 391.5h1M405 365.5h1M439 403.5h1M420 376.5h2M444 378.5h2M405 368.5h1M420 384.5h1M427 375.5h1M418 385.5h1M413 380.5h1M442 370.5h1M445 388.5h1M432 374.5h2M425 387.5h1M438 374.5h1M428 380.5h2M424 389.5h1M469 365.5h1M422 386.5h1M411 367.5h1M416 378.5h2M431 381.5h1M433 376.5h1M439 371.5h1M409 372.5h1M449 367.5h2M434 376.5h1M407 388.5h1M412 375.5h2M422 367.5h2M432 387.5h1M421 367.5h1M415 384.5h1M434 365.5h1M432 388.5h2M408 371.5h1M411 380.5h1M413 393.5h1M425 370.5h1M423 374.5h1M418 384.5h1M424 367.5h1M436 366.5h1M412 389.5h1M413 384.5h2M408 383.5h1M447 378.5h1M440 382.5h1M419 367.5h1M436 386.5h1M429 372.5h1M428 391.5h2M438 375.5h1M429 391.5h1M427 381.5h1M401 380.5h1M433 378.5h2M417 378.5h1M421 382.5h1M418 380.5h2M438 371.5h1M439 373.5h1M432 371.5h1M421 383.5h1M440 368.5h1M436 380.5h2M428 374.5h2M422 381.5h1M425 371.5h2M450 365.5h2M412 365.5h1M428 376.5h2M413 374.5h2M434 376.5h1M412 373.5h1M446 371.5h2M433 384.5h2M413 380.5h1M414 364.5h2M417 382.5h1M440 381.5h1M437 407.5h1M424 377.5h1M437 371.5h1M434 372.5h2M406 387.5h1M466 386.5h2M422 400.5h2M414 368.5h1M432 372.5h1M407 375.5h2M451 382.5h1M410 373.5h1M430 376.5h1M412 380.5h1M428 373.5h1M416 364.5h2M439 395.5h2M401 373.5h2M443 390.5h2M455 380.5h2M421 399.5h2M433 365.5h1M423 371.5h1M438 369.5h1M439 376.5h1M413 368.5h1M412 380.5h1M427 366.5h1M419 388.5h1M413 396.5h1M416 380.5h1M445 376.5h2M425 382.5h1M447 387.5h1M406 380.5h2M425 381.5h1M431 368.5h1M431 386.5h1M430 377.5h1M421 382.5h1M424 385.5h1M419 383.5h1M427 379.5h1M426 370.5h2M437 391.5h1M432 373.5h1M435 368.5h1M429 393.5h1M424 378.5h2M405 384.5h2M418 370.5h1M403 372.5h1M428 364.5h1M415 383.5h1M406 388.5h1M411 389.5h2M418 369.5h1M428 384.5h1M415 379.5h2M413 377.5h1M421 369.5h2M405 376.5h1M445 381.5h1M421 385.5h1M459 393.5h1M428 367.5h1M411 377.5h2M430 370.5h2M415 404.5h1M453 378.5h1M436 365.5h1M430 369.5h2M438 412.5h1M436 380.5h1M440 385.5h1M428 375.5h1M445 416.5h1M461 416.5h2M471 385.5h2M434 392.5h2M447 454.5h1M431 365.5h1M444 407.5h1M425 380.5h1M444 399.5h2M447 400.5h1M442 444.5h2M431 398.5h2M423 375.5h1M426 392.5h1M456 376.5h1M462 371.5h1M426 389.5h2M447 369.5h1M451 418.5h2M433 364.5h1M441 423.5h1M409 404.5h2M429 388.5h1M426 412.5h1M463 421.5h1M446 413.5h1M469 376.5h1M433 407.5h2M452 431.5h1M428 394.5h2M418 389.5h1M461 398.5h1M416 386.5h1M453 434.5h1M431 375.5h1M445 373.5h1M446 412.5h1M435 424.5h1M449 405.5h1M439 379.5h2M444 426.5h2M441 408.5h1M443 447.5h2M439 373.5h1M473 419.5h1M420 376.5h1M446 382.5h1M453 437.5h1M436 400.5h1M447 417.5h1M423 366.5h1M438 393.5h1M450 379.5h2M451 405.5h1M429 410.5h1M439 382.5h1M454 448.5h1M455 410.5h1M435 376.5h1M442 441.5h1M458 388.5h1M438 428.5h2M426 414.5h1M430 365.5h1M450 386.5h1M429 369.5h2M444 372.5h1M445 427.5h1M462 424.5h2M448 406.5h1M436 399.5h2M428 389.5h1M437 416.5h1M426 413.5h1M444 415.5h1M452 435.5h2M453 403.5h2M424 385.5h1M433 370.5h1M451 432.5h2M440 448.5h1M431 430.5h2M450 436.5h2M430 395.5h1M443 443.5h2M437 389.5h1M462 424.5h2M433 418.5h1M433 396.5h1M443 449.5h1M431 383.5h1M426 405.5h1M449 404.5h1M454 388.5h1M442 390.5h1M447 431.5h1M444 385.5h1M434 420.5h2M436 386.5h1M453 410.5h2M449 398.5h1M469 424.5h2M426 387.5h1M417 364.5h1M438 390.5h1M451 397.5h1M445 440.5h1M436 401.5h1M463 390.5h1M429 421.5h1M442 402.5h1M443 389.5h1M452 410.5h1M441 415.5h1M456 367.5h2M437 380.5h2M435 401.5h2M419 392.5h2M456 410.5h1M438 389.5h1M446 410.5h2M455 401.5h1M447 391.5h1M450 425.5h1M431 400.5h1M452 411.5h1M445 422.5h1M455 421.5h1M458 412.5h1M449 438.5h1M437 397.5h1M445 393.5h2M436 396.5h1M446 382.5h1M439 406.5h1M440 428.5h1M431 404.5h1M441 386.5h1M433 382.5h1M418 390.5h1M445 440.5h1M437 420.5h2M415 372.5h1M435 391.5h1M426 393.5h1M450 405.5h1M450 433.5h1M457 434.5h1M472 433.5h2M443 413.5h2M442 402.5h2M438 394.5h1M445 383.5h1M417 412.5h2M432 406.5h2M326 366.5h2M398 379.5h1M396 386.5h2M366 374.5h2M354 368.5h1M354 387.5h2M375 374.5h1M326 380.5h1M377 375.5h2M366 380.5h1M398 382.5h1M348 376.5h2M365 372.5h1M329 382.5h1M362 373.5h2M364 387.5h1M332 375.5h1M384 382.5h1M390 380.5h1M337 369.5h1M335 399.5h2M399 375.5h1M396 388.5h2M346 373.5h2M332 371.5h1M398 375.5h1M393 374.5h1M356 391.5h2M338 380.5h1M368 381.5h2M313 369.5h1M393 366.5h2M389 371.5h1M381 386.5h1M368 381.5h1M377 370.5h1M382 377.5h1M360 364.5h2M382 375.5h1M386 376.5h1M373 372.5h1M357 377.5h1M357 369.5h1M377 364.5h1M375 383.5h2M392 379.5h1M338 372.5h2M375 369.5h1M385 381.5h1M315 370.5h2M367 367.5h1M385 370.5h2M365 380.5h1M377 368.5h2M362 389.5h1M351 366.5h1M348 375.5h2M358 375.5h1M397 383.5h1M334 380.5h2M379 378.5h2M350 366.5h1M391 367.5h1M372 374.5h1M354 364.5h1M383 379.5h1M377 393.5h2M360 372.5h2M395 379.5h1M372 376.5h2M388 372.5h2M315 382.5h2M382 393.5h1M382 373.5h1M375 387.5h1M330 391.5h2M363 375.5h2M392 372.5h2M366 376.5h2M388 370.5h2M378 385.5h1M350 371.5h2M363 374.5h1M381 379.5h1M376 370.5h1M363 379.5h1M354 377.5h1M386 364.5h1M360 367.5h1M399 388.5h1M384 366.5h1M390 376.5h2M340 384.5h2M343 367.5h2M359 380.5h1M395 371.5h2M373 374.5h1M355 368.5h1M361 377.5h1M360 386.5h1M395 390.5h2M384 390.5h1M380 371.5h1M384 382.5h1M369 290.5h1M340 306.5h1M336 311.5h1M370 341.5h1M302 316.5h1M380 382.5h1M333 338.5h1M350 342.5h2M360 330.5h2M368 382.5h2M323 361.5h1M354 371.5h1M387 319.5h1M338 332.5h1M380 291.5h1M292 299.5h1M386 319.5h1M344 344.5h2M358 313.5h1M334 308.5h1M320 361.5h1M363 314.5h1M316 368.5h1M340 335.5h2M348 311.5h1M383 304.5h2M310 344.5h1M355 302.5h2M302 336.5h2M309 371.5h1M376 364.5h2M315 381.5h1M344 351.5h1M366 341.5h1M408 366.5h2M343 386.5h2M426 376.5h1M391 343.5h2M415 289.5h1M427 403.5h1M410 365.5h2M364 361.5h2M448 409.5h1M402 366.5h1M308 379.5h1M408 365.5h1M388 279.5h2M426 380.5h1M392 278.5h1M476 383.5h1M424 296.5h1M306 321.5h1M338 383.5h1M432 286.5h1M373 332.5h2M293 376.5h1M330 319.5h1M469 329.5h1M490 356.5h1M459 360.5h1M407 438.5h1M453 438.5h1M408 369.5h1M427 374.5h1M413 292.5h1M395 355.5h2M374 328.5h1M291 308.5h2M435 286.5h2M448 347.5h2M366 383.5h1M390 378.5h1M409 362.5h1M397 351.5h1M405 325.5h2M374 333.5h1M365 303.5h1M381 274.5h1M305 356.5h2M422 400.5h1M402 358.5h1M359 341.5h1M348 346.5h2M401 279.5h1M434 359.5h1M421 430.5h1M469 401.5h1M465 368.5h1M458 387.5h1M385 365.5h1M376 305.5h1M430 377.5h1M394 369.5h1M334 323.5h1M372 311.5h1M434 305.5h1M426 399.5h2M312 304.5h2M392 397.5h1M434 352.5h1M418 368.5h1M352 286.5h2M418 294.5h1M439 346.5h1M404 303.5h1M305 329.5h1M378 329.5h1M360 362.5h1M423 350.5h1M426 445.5h1M440 370.5h1M393 384.5h1M347 272.5h2M414 383.5h2M397 312.5h1M291 328.5h1M402 324.5h1M410 335.5h1M357 373.5h1M389 289.5h1M339 369.5h2M426 272.5h2M451 445.5h1M403 345.5h1M410 363.5h1M327 339.5h1M464 435.5h2M362 327.5h1M355 353.5h1M466 279.5h1M336 277.5h2M410 341.5h1M351 365.5h1M316 347.5h1M339 319.5h2M409 327.5h1M451 430.5h1M377 379.5h1M364 296.5h2M461 297.5h2M386 303.5h1M348 360.5h1M431 330.5h1M366 357.5h1M476 402.5h1M335 383.5h1M351 306.5h2M369 363.5h1M459 370.5h1M397 375.5h1M376 341.5h1M418 341.5h2M455 355.5h2M407 363.5h1M375 416.5h1M379 316.5h1M405 323.5h1M455 368.5h2M409 340.5h2M428 338.5h1M352 301.5h1M455 341.5h1M429 361.5h2M373 325.5h2M448 396.5h1M390 296.5h1M363 300.5h2M421 343.5h1M397 296.5h1M380 277.5h2M468 343.5h2M440 365.5h1M296 342.5h2M408 375.5h1M435 308.5h1M420 366.5h1M441 272.5h1M406 390.5h1M354 384.5h1M340 343.5h1M424 279.5h2M433 280.5h2M420 361.5h2M471 377.5h1M411 369.5h2M406 341.5h2M410 373.5h1M334 337.5h2M360 393.5h1M341 312.5h1M422 293.5h1M449 325.5h1M357 335.5h1M381 278.5h1M457 333.5h1M398 354.5h1M458 437.5h1M442 288.5h1M434 293.5h2M422 365.5h1M349 394.5h1M365 401.5h1M432 322.5h1M429 354.5h1M366 332.5h1M452 383.5h1M416 280.5h1M347 293.5h1M476 354.5h1M412 290.5h1M455 371.5h1M292 334.5h1M416 347.5h1M450 436.5h2M420 309.5h1M319 383.5h1M401 275.5h1M396 396.5h1M356 316.5h1M309 325.5h1M360 280.5h1M351 335.5h2M404 292.5h1M446 433.5h1M390 303.5h1M405 285.5h2M310 317.5h2M419 347.5h1M431 406.5h1M389 327.5h1M413 353.5h1M386 372.5h1M478 366.5h1M414 413.5h2M476 389.5h2M458 380.5h1M414 413.5h1M436 376.5h1M412 299.5h2M336 303.5h1M464 363.5h1M391 364.5h1M371 348.5h1M347 351.5h1M388 313.5h1M432 441.5h1M405 401.5h1M348 272.5h1M353 337.5h1M456 311.5h1M431 423.5h1M300 352.5h1M313 373.5h1M410 324.5h2M429 331.5h1M452 384.5h1M379 286.5h1M441 336.5h1M404 283.5h1M432 307.5h1M425 335.5h2M447 332.5h1M442 395.5h2M382 290.5h1M364 345.5h1M379 286.5h1M441 351.5h1M344 389.5h1M301 315.5h1M442 403.5h1M373 395.5h2M437 393.5h2M450 325.5h2M438 386.5h2M419 357.5h2M453 422.5h2M454 359.5h1M434 361.5h1M343 306.5h2M438 280.5h1M380 315.5h1M409 387.5h1M415 313.5h1M374 347.5h2M415 289.5h1M443 316.5h1M372 327.5h1M412 278.5h2M359 365.5h1M423 343.5h1M360 327.5h1M443 401.5h1M380 398.5h1M339 347.5h2M406 300.5h2M417 394.5h1M408 365.5h1M382 372.5h2M390 284.5h1M405 272.5h2M398 362.5h1M390 352.5h1M449 446.5h1M400 338.5h1M364 364.5h1M387 359.5h2M293 341.5h1M413 386.5h1M410 311.5h2M381 336.5h1M414 315.5h1M419 388.5h1M329 393.5h1M417 290.5h2M374 339.5h1M376 273.5h1M466 338.5h1M429 275.5h2M354 287.5h1M351 368.5h2M419 324.5h1M472 381.5h1M352 332.5h1M366 434.5h2M343 324.5h1M356 336.5h1M311 362.5h1M431 418.5h1M428 281.5h1M414 319.5h1M333 320.5h1M300 324.5h2M313 377.5h1M302 314.5h1M317 378.5h2M447 347.5h2M391 370.5h1M418 378.5h2M385 282.5h2M419 447.5h1M371 336.5h1M399 350.5h2M302 325.5h1M352 324.5h1M408 303.5h1M481 309.5h1M452 383.5h1M418 389.5h1M399 395.5h2M392 294.5h1M425 365.5h1M475 303.5h1M388 362.5h1M375 319.5h1M430 281.5h1M405 408.5h1M364 308.5h1M380 276.5h1M480 385.5h1M448 318.5h2M423 320.5h1M398 302.5h1M411 286.5h2M463 370.5h1M416 314.5h1M376 311.5h1M357 315.5h1M377 387.5h1M386 321.5h1M411 288.5h1M441 361.5h2M420 361.5h1M479 373.5h1M473 307.5h1M387 283.5h1M478 370.5h1M420 388.5h1M365 386.5h1M298 318.5h1M339 355.5h1M387 300.5h2M411 280.5h1M437 314.5h2M386 279.5h1M348 322.5h1M338 349.5h1M385 358.5h1M418 290.5h2M407 375.5h2M408 372.5h1M449 388.5h1M422 286.5h1M438 337.5h1M454 324.5h1M364 289.5h1M302 357.5h1M358 352.5h2M436 337.5h1M306 341.5h1M478 380.5h2M429 352.5h1M295 334.5h1M430 277.5h1M314 345.5h2M448 337.5h2M336 343.5h2M459 315.5h1M373 354.5h1M452 321.5h2M350 292.5h2M328 347.5h1M431 379.5h1M473 424.5h1M353 311.5h1M370 319.5h2M457 455.5h1M423 392.5h1M431 281.5h2M446 390.5h1M345 348.5h1M385 326.5h1M446 322.5h2M437 371.5h1M416 415.5h1M365 279.5h1M421 358.5h2M338 347.5h1M410 283.5h1M425 387.5h1M331 326.5h2M399 303.5h1M442 449.5h1M356 318.5h1M420 273.5h2M344 377.5h1M364 292.5h2M361 344.5h1M482 358.5h1M359 382.5h2M427 333.5h2M443 379.5h2M346 307.5h2M435 307.5h2M420 367.5h1M368 276.5h1M396 394.5h1M339 333.5h2M457 348.5h1M373 346.5h1M426 422.5h1M340 357.5h1M375 286.5h1M403 300.5h1M364 342.5h1M450 402.5h1M416 383.5h1M359 334.5h2M400 361.5h1M433 345.5h1M415 375.5h1M379 387.5h2M460 337.5h1M361 353.5h1M338 289.5h1M427 432.5h1M405 406.5h2M454 376.5h1M390 399.5h1M503 344.5h2M434 334.5h1M430 309.5h1M442 312.5h1M325 395.5h1M437 295.5h1M472 368.5h2M301 344.5h2M367 352.5h1M449 358.5h1M435 362.5h1M437 423.5h1M316 428.5h2M387 364.5h2M393 321.5h1M407 282.5h1M452 359.5h2M316 389.5h1M377 352.5h1M471 394.5h1M391 371.5h2M343 389.5h1M448 407.5h1M343 398.5h2M448 423.5h1M391 386.5h1M430 391.5h1M417 349.5h2M408 384.5h2M418 385.5h1M359 337.5h1M373 402.5h1M416 364.5h1M340 279.5h1M467 391.5h1M467 303.5h1M327 328.5h1M419 368.5h1M460 335.5h2M314 319.5h1M466 403.5h1M424 403.5h1M314 385.5h1M474 401.5h1M422 329.5h1M412 348.5h1M448 409.5h1M355 366.5h1M379 303.5h2M421 299.5h2M360 285.5h1M406 380.5h1M366 360.5h1M364 331.5h1M394 356.5h1M414 279.5h2M449 325.5h1M372 301.5h2M489 372.5h1M424 333.5h1M465 278.5h1M363 400.5h1M406 340.5h1M297 298.5h2M387 321.5h1M457 361.5h2M438 322.5h1M322 307.5h1M366 344.5h1M359 398.5h2M440 455.5h1M478 363.5h1M439 438.5h1M336 387.5h1M471 400.5h2M446 384.5h2M387 320.5h1M378 339.5h1M438 336.5h1M457 353.5h1M303 352.5h1M335 314.5h1M378 287.5h1M457 339.5h1M432 315.5h1M348 343.5h1M446 374.5h1M455 402.5h1M463 340.5h2M339 328.5h2M372 280.5h1M414 446.5h1M440 338.5h2M456 423.5h1M440 390.5h1M369 376.5h1M306 355.5h2M336 311.5h2M401 384.5h2M421 313.5h1M369 374.5h1M384 294.5h1M413 326.5h1M339 373.5h1M326 340.5h2M367 380.5h1M291 272.5h2M416 313.5h1M368 344.5h1M455 344.5h2M369 319.5h1M442 418.5h1M407 337.5h1M327 352.5h1M444 399.5h2M409 358.5h1M312 356.5h1M469 343.5h1M419 326.5h1M372 351.5h1M438 440.5h1M290 304.5h1M363 286.5h1M443 357.5h1M448 367.5h1M402 274.5h1M384 291.5h1M358 393.5h1M373 325.5h1M415 412.5h2M471 386.5h2M402 377.5h1M415 349.5h1M340 317.5h1M463 377.5h2M463 456.5h1M399 347.5h1M416 357.5h1M343 275.5h2M367 394.5h1M454 294.5h1M427 406.5h2M389 295.5h1M405 368.5h1M433 326.5h1M373 332.5h1M461 403.5h1M376 313.5h1M385 378.5h1M352 289.5h1M366 346.5h1M397 272.5h1M398 319.5h1M434 334.5h1M432 368.5h1M426 301.5h1M463 327.5h1M444 279.5h2M439 343.5h1M409 344.5h1M351 360.5h1M321 325.5h1M392 388.5h2M455 328.5h1M482 385.5h1M443 427.5h1M439 360.5h1M323 387.5h1M419 415.5h1M379 355.5h1M392 386.5h1M417 416.5h2M459 316.5h2" stroke="#000" stroke-width="1" fill="none" shape-rendering="crispEdges"/>
<path d="M363 319h1M362 314h2M357 331h1M341 324h1M371 322h2M377 324h1M369 294h1M380 323h1M363 326h1M359 358h1M355 332h1M379 337h1M365 321h1M359 311h1M394 320h2M376 356h1M364 353h1M371 318h1M363 301h2M370 336h1M387 330h1M365 360h2M365 327h1M383 309h1M394 344h1M377 343h1M366 321h1M337 318h1M354 332h1M375 310h1M365 356h1M392 309h1M358 313h1M382 315h2M378 332h1M364 312h1M366 322h1M361 315h1M340 319h2M361 340h2M407 316h1M354 312h2M367 333h2M351 335h1M356 326h2M399 335h1M384 332h2M376 313h2M375 322h1M373 351h1M349 338h2M380 333h1M377 327h1M354 291h1M352 346h1M390 302h1M367 317h1M372 294h1M363 339h1M383 300h1M378 324h1M380 302h2M353 316h1M374 332h1M346 303h2M359 322h1M367 326h1M377 307h2M374 357h1M355 351h1M391 350h1M382 317h2M383 301h1M363 367h1M382 323h1M390 354h1M390 306h2M373 373h1M383 302h1M392 338h2M363 330h1M365 329h1M418 328h1M403 288h1M338 310h1M381 308h2M383 318h2M384 353h1M400 343h2M385 301h1M360 321h1M358 326h1M371 302h1M388 337h1M376 309h1M378 310h2M384 342h1M420 307h1M365 325h1M353 346h1M358 359h1M380 327h2M376 329h1M357 338h2M372 333h1M370 370h1M361 317h1M399 320h1M360 298h1M402 346h1M372 330h1M385 330h1M355 333h1M363 325h1M367 310h1M374 327h2M365 318h1M361 339h1M381 339h2M371 329h1M366 345h1M365 343h1M382 327h1M389 316h1M370 321h1M392 331h1M395 324h1M392 323h2M376 309h2M349 322h1M371 295h2M369 362h1M355 349h2M367 330h1M385 354h2M373 334h1M395 296h1M378 349h2M368 356h1M379 315h2M360 350h2M371 319h1M349 315h1M361 348h1M358 369h2M379 286h1M376 334h1M369 351h1M362 317h1M390 300h1M373 315h1M396 303h2M339 348h1M356 318h1M393 342h1M366 344h1M385 329h2M352 342h1M392 333h1M367 333h1M374 358h1M341 339h1M364 321h2M363 304h1M374 323h1M368 314h2M361 316h1M355 368h1M393 388h2M382 292h2M377 327h2M369 273h2M359 365h1M368 299h2M362 329h1M390 310h2M360 322h1M373 336h1M357 381h1M358 351h1M367 320h1M399 340h1M353 308h1M366 329h1M377 363h1M374 342h1M376 316h1M373 327h1M359 362h2M367 329h1M358 349h2M377 319h2M360 305h1M352 353h1M362 321h1M368 348h1M403 338h1M332 336h1M383 320h1M361 314h2M369 365h1M370 315h2M371 346h1M361 347h1M382 321h1M372 316h2M380 313h1M408 324h1M367 320h1M359 292h1M373 341h1M375 351h1M365 322h2M369 354h1M391 297h1M363 293h1M364 313h1M365 350h2M353 325h2M375 317h2M399 339h2M380 332h1M365 334h1M364 361h2M381 326h1M368 324h1M389 315h1M345 338h1M393 324h1M371 363h2M373 290h2M404 354h1M349 343h1M393 341h1M370 324h2M358 324h2M365 349h1M375 344h1M372 341h1M389 306h1M360 327h1M351 338h2M405 308h1M375 300h2M376 325h1M364 324h1M369 351h1M358 347h1M361 331h1M364 294h2M357 290h1M365 311h1M372 334h1M376 365h1M356 348h1M366 346h1M371 339h1M378 323h2M353 344h1M362 332h1M389 317h2M335 339h1M390 300h1M364 342h1M391 339h2M392 328h1M364 317h1M377 313h2M391 344h1M371 319h1M361 314h1M359 281h1M381 313h1M389 323h1M374 343h1M366 321h1M366 332h1M381 321h1M374 306h1M380 332h2M382 335h1M366 319h1M377 321h1M349 336h1M381 330h1M365 306h1M366 349h1M358 347h1M369 340h2M362 299h1M364 337h2M376 325h2M378 321h1M358 327h1M385 317h1M380 326h1M379 339h1M354 324h1M366 340h1M374 300h1M364 322h1M346 318h1M374 379h1M387 321h1M350 324h2M390 314h1M372 350h1M366 325h1M370 329h1M360 325h2M378 327h1M380 344h2M353 343h1M388 321h1M351 335h1M357 319h1M384 340h1M364 293h1M378 348h1M405 331h1M378 324h2M355 356h1M375 308h1M359 361h2M359 316h1M322 335h1M376 322h2M341 339h2M350 342h1M360 301h1M377 356h2M384 327h1M373 302h2M356 299h2M365 280h2M386 360h1M350 358h1M396 359h1M362 336h2M355 325h1M362 316h1M356 306h1M375 312h1M398 276h2M398 347h1M358 344h1M378 314h1M356 317h1M371 345h1M340 338h1M354 352h2M347 306h2M308 342h1M353 310h1M377 290h2M356 333h1M398 328h1M378 348h1M363 308h2M354 281h1M357 300h1M352 337h1M393 283h1M351 304h1M376 328h2M365 289h2M389 300h1M379 343h2M331 294h1M380 346h1M357 319h1M400 336h2M367 337h1M384 327h1M378 318h1M347 314h1M350 352h2M329 336h1M361 332h1M379 295h1M383 307h1M382 324h1M396 338h2M365 325h2M370 342h1M346 342h1M356 288h1M376 355h2M345 294h1M350 326h2M373 340h1M363 292h2M301 293h1M364 357h1M357 313h2M366 335h2M394 273h1M381 328h2M340 334h2M384 311h1M347 356h1M360 344h2M367 354h2M364 274h1M322 341h2M356 354h2M371 324h1M370 283h2M363 336h1M362 303h1M377 274h1M348 321h1M364 357h2M394 343h1M394 342h2M375 297h1M388 324h1M354 357h1M398 303h1M394 316h1M360 327h1M348 357h2M381 311h2M361 352h1M361 345h2M366 283h1M344 309h1M349 293h1M352 351h1M400 312h2M399 337h1M381 279h2M341 308h1M323 326h1M374 327h2M374 361h1M376 338h1M357 320h2M362 342h1M396 342h1M348 350h2M355 351h1M356 351h1M359 302h1M374 345h1M400 352h1M363 348h1M362 325h1M359 344h1M373 296h1M376 360h1M344 280h1M359 322h1M335 304h1M359 334h1M383 320h1M341 295h1M345 304h1M386 332h1M375 344h1M366 331h1M380 285h1M367 316h1M352 320h1M363 315h1M383 325h1M356 303h2M365 347h1M350 342h2M352 342h1M385 352h1M379 322h1M377 314h1M383 282h1M346 353h1M350 313h1M396 309h1M349 354h1M349 345h1M353 317h1M371 322h2M397 293h2M370 329h1M365 322h2M355 338h1M378 307h1M386 314h1M355 298h1M391 358h1M327 333h2M315 333h1M364 311h1M350 306h2M365 315h2M353 333h1M362 301h1M383 316h1M351 308h2M397 328h1M365 300h1M349 351h2M362 349h2M336 325h2M352 354h1M347 354h1M374 323h2M347 304h1M378 320h1M365 327h2M385 362h2M314 349h1M353 287h2M344 326h1M389 295h1M349 317h1M379 355h2M354 325h1M352 352h2M398 309h1M338 356h1M364 316h2M391 346h2M375 311h1M380 290h2M376 323h2M367 294h2M369 319h1M357 325h1M326 344h2M398 309h1M395 310h1M383 309h1M378 297h2M362 285h1M380 288h1M366 297h2M357 287h1M358 285h1M355 291h2M354 297h2M374 299h1M374 291h2M350 294h1M398 280h1M350 280h1M381 282h1M355 282h2M351 279h1M353 284h2M380 297h2M356 306h1M342 294h1M372 285h1M341 289h1M362 299h2M392 293h1M381 313h2M369 281h1M382 279h2M381 303h1M353 280h1M366 294h2M371 300h1M387 284h1M321 291h2M335 298h1M357 287h2M329 298h1M381 291h2M371 293h1M352 286h1M361 304h1M380 281h1M367 304h2M364 295h2M354 302h1M331 289h1M352 290h1M372 281h1M365 284h1M367 293h2M366 293h1M374 309h1M347 323h1M418 305h1M412 299h1M402 303h2M417 342h1M401 329h1M403 364h1M430 341h1M411 313h2M442 345h1M417 322h1M426 334h1M410 354h2M401 310h2M410 332h1M413 326h1M421 331h1M400 327h1M413 293h1M405 335h1M425 349h1M431 276h2M422 337h1M424 365h1M409 348h1M418 344h1M415 319h2M419 310h1M455 318h1M415 356h1M426 328h1M401 311h1M405 313h1M416 322h2M416 344h1M423 329h1M424 364h1M412 330h2M465 326h1M413 342h1M444 350h1M424 336h1M422 295h1M401 329h1M431 334h2M414 342h2M414 324h1M405 317h1M421 342h1M402 337h1M428 341h2M428 291h1M410 343h2M428 334h1M405 335h1M419 328h1M412 288h1M417 280h2M404 339h1M420 351h1M425 331h2M410 310h1M442 335h2M429 285h2M404 342h1M409 358h2M419 354h1M404 330h1M432 311h1M426 332h1M420 310h1M426 331h1M408 312h1M459 328h2M404 347h1M405 299h1M414 306h1M422 281h1M452 334h1M411 341h1M403 310h2M434 282h1M411 275h1M401 324h1M454 292h1M424 346h1M419 335h1M418 350h1M406 309h1M445 293h1M409 332h2M400 326h2M400 353h1M404 344h2M432 349h1M417 312h1M407 306h1M403 286h1M404 349h1M415 347h1M422 342h1M413 302h2M426 323h1M416 301h1M440 300h2M418 309h1M408 297h1M425 289h1M412 315h2M423 314h1M406 282h1M408 323h1M426 320h1M422 316h1M404 333h1M424 302h1M444 320h1M402 326h1M430 307h1M413 309h1M427 293h1M403 314h1M441 320h1M419 340h2M436 330h2M404 353h1M431 336h2M402 298h2M422 309h1M423 361h1M407 344h1M401 324h1M410 330h2M411 361h1M400 328h1M432 326h1M430 277h1M429 327h2M464 352h1M441 360h1M409 293h1M418 339h1M427 301h2M424 337h1M428 346h1M407 284h1M418 295h1M426 303h1M427 351h2M423 329h1M420 283h1M404 297h2M435 348h1M412 341h1M410 290h1M411 306h1M411 314h1M408 323h1M420 298h1M419 328h2M421 334h1M416 342h2M437 344h1M402 351h1M413 338h1M414 318h2M425 338h1M427 344h1M415 329h2M418 325h1M429 329h2M418 339h1M410 291h2M425 331h2M416 344h1M411 286h1M410 300h2M404 322h1M417 351h1M404 337h1M408 290h1M416 337h1M404 363h2M435 355h1M417 332h1M406 334h1M430 322h1M423 335h1M424 305h1M410 302h1M427 337h1M417 330h1M417 314h1M401 336h1M404 289h1M409 343h1M448 332h1M422 332h1M403 328h1M423 339h1M410 304h2M418 311h1M414 321h1M408 326h1M407 332h1M424 309h1M418 298h1M447 335h1M404 338h1M409 326h1M406 337h2M424 276h1M422 317h1M403 335h1M426 343h1M433 335h1M402 356h1M408 346h1M417 303h1M405 315h1M420 330h1M406 328h1M401 313h1M427 349h1M402 360h1M416 327h1M440 352h1M418 314h1M411 294h1M410 328h2M429 353h1M445 296h1M424 328h1M415 331h1M412 299h1M439 324h1M434 298h1M412 348h1M406 349h2M444 350h1M435 339h2M418 316h1M453 344h1M420 379h1M410 389h1M440 392h1M430 381h2M418 374h1M437 380h1M405 383h1M419 367h1M419 385h1M450 365h2M421 390h1M436 381h1M420 370h1M408 382h1M441 371h1M418 369h1M414 374h1M445 395h2M418 376h1M411 381h1M438 388h2M423 380h1M419 380h1M418 370h1M429 383h2M441 371h1M420 382h1M420 371h1M409 368h2M463 379h2M431 377h1M435 382h1M442 378h1M413 380h1M412 377h1M435 377h2M422 372h2M439 403h2M410 388h1M432 392h1M418 390h1M429 384h2M423 388h1M434 377h2M414 392h2M401 375h1M431 372h1M405 392h2M431 376h2M439 384h2M418 378h1M443 367h1M419 384h1M439 374h1M433 389h1M425 377h1M449 378h1M418 369h1M406 371h1M447 369h1M413 392h1M409 366h1M446 380h1M425 380h1M405 376h2M400 372h2M415 382h1M415 384h1M429 383h1M433 386h2M421 374h1M423 365h1M410 382h1M456 388h1M439 365h1M430 384h2M405 380h1M408 382h1M443 383h1M439 379h2M433 391h1M408 380h1M448 365h2M442 392h2M426 375h1M410 375h1M439 380h1M414 365h1M406 385h2M423 388h1M428 368h1M418 385h1M407 368h1M444 379h1M457 368h1M416 376h1M468 371h1M444 376h1M438 387h1M407 388h1M431 381h1M406 407h2M428 370h1M417 386h1M436 366h1M445 387h1M422 385h1M418 384h1M425 368h2M429 368h1M437 378h2M450 393h2M404 377h1M440 380h1M417 369h1M457 388h2M451 395h1M416 373h1M426 403h1M415 403h1M415 377h1M434 392h1M408 379h1M432 380h1M433 393h2M440 382h1M431 399h1M418 380h1M405 379h1M426 366h1M444 371h1M431 375h1M427 376h1M431 372h2M449 395h2M424 376h1M434 388h1M424 371h2M422 366h2M412 374h1M413 376h2M416 381h2M419 375h2M400 380h2M429 395h1M427 401h1M431 432h1M446 402h2M448 383h2M442 395h1M437 411h1M445 386h1M443 418h1M433 414h1M413 387h1M448 398h2M432 420h1M453 425h1M450 401h2M428 388h2M446 453h2M424 385h1M450 399h2M427 391h1M441 376h1M440 399h1M455 381h1M455 396h1M455 404h2M441 386h1M434 382h1M443 389h1M456 434h2M442 417h1M437 422h2M428 412h1M434 442h1M445 381h1M457 407h1M438 402h2M438 372h1M454 393h1M445 415h1M437 400h1M473 438h2M442 426h1M414 381h1M466 400h1M445 398h1M442 417h1M433 396h1M434 395h1M357 372h2M327 385h1M388 377h1M395 385h1M381 379h1M336 397h1M388 367h1M373 371h1M320 373h2M379 376h2M389 380h2M375 366h1M365 368h1M375 369h2M384 366h1M366 366h1M369 374h1M364 379h1M325 385h1M396 370h1M366 375h2M370 377h1M364 368h1M373 369h2M385 375h1M342 382h1M366 377h2M350 368h2M391 373h2M370 373h1M362 374h2M374 404h1M372 375h1M348 387h1M368 365h1M395 385h2M381 373h2M329 380h1M385 367h1M394 366h2M332 377h1M326 382h2M331 346h1M323 347h1M365 289h1M366 326h1M300 356h2M343 325h1M365 332h1M326 329h1M305 323h1M307 334h1M360 337h1M434 335h2M435 403h1M361 378h1M394 308h1M467 354h2M296 376h1M394 320h1M355 341h1M387 359h2M399 362h1M384 345h2M425 359h1M436 451h1M371 346h1M409 394h2M372 351h1M349 328h2M449 353h2M464 370h1M376 297h1M363 298h1M415 381h1M364 341h1M302 340h1M383 281h2M333 324h1M418 371h1M430 365h1M383 339h1M369 368h1M347 303h1M388 289h1M372 409h1M406 311h2M433 325h1M305 306h1M430 322h2M408 357h1M434 352h1M312 327h1M432 377h2M361 274h1M427 334h1M337 328h1M363 319h2M359 279h1M418 354h1M409 317h1M416 387h2M295 361h1M425 402h1M379 352h1M359 352h1M358 360h1M438 280h2M394 313h1M432 303h1M429 412h1M295 365h2M397 317h1M352 344h1M439 359h1M376 321h1M446 393h1M314 338h2M371 312h1M317 382h1M360 307h1M459 404h1M330 357h1M361 309h1M400 323h1M408 376h1M342 319h1M442 374h1M444 295h1M432 298h1M380 286h1M452 305h1M366 309h2M404 358h1M369 400h1M401 358h1M359 280h1M415 289h1M384 317h2M472 341h1M425 298h1M309 358h1M362 325h1M468 370h1M377 368h1M456 307h1M435 390h1M434 361h1M332 395h1M433 305h2M466 370h1M396 373h1M465 375h1M444 364h1M441 283h2M458 383h1M371 393h2M437 307h1M391 358h1M368 308h2M386 369h1M407 314h1M422 311h1M422 365h1M311 400h1M339 345h1M347 360h2M355 280h1M340 405h2M385 385h1M397 319h1M328 402h1M404 330h1M474 296h2M466 401h1M392 301h1M428 432h1M361 329h2M345 374h1M389 305h2M402 292h1M311 311h1M364 352h1M332 359h1M316 365h2M361 328h1M343 279h1M382 387h2M350 281h2M413 412h1M388 336h2M427 281h1M351 307h1M289 304h1M426 454h1M437 443h2M445 341h2M329 316h1M429 392h1M450 446h1M415 342h1M438 337h2M442 367h1M442 346h1M329 390h1M332 343h1M421 334h2M434 354h2M427 361h1M325 371h2M467 368h1M401 299h1M350 392h2M424 340h2M429 412h2M384 376h2M364 428h1M368 338h2M337 342h1M362 366h1M378 289h1M344 342h1M354 401h1M380 320h1M410 295h1M389 341h1M433 361h1M430 391h1M371 284h1M398 316h1M423 388h1M471 401h2M345 279h2M365 358h2M441 392h1M433 325h2M424 316h1M421 382h1M477 368h1M364 318h1M437 354h1M413 408h1M341 303h1M452 454h1M460 396h2M407 299h1M423 428h2M454 320h2M355 284h2M375 289h1M441 337h1M403 347h1M422 344h1M357 292h1M433 417h2M446 277h1M416 289h1" stroke="#000" stroke-width="2" fill="none" shape-rendering="crispEdges"/>
<rect x="44.1" y="27.9" width="217.8" height="190.0" fill="none" stroke="#000" stroke-width="1.6"/>
<line x1="156.5" y1="27.9" x2="155.8" y2="217.9" stroke="#000" stroke-width="1.5"/>
<line x1="44.1" y1="123.5" x2="261.9" y2="123.5" stroke="#000" stroke-width="1.5"/>
<path d="M60.5 217.9v2.4M44.1 203.6h-2.4M70.1 217.9v2.4M44.1 195.2h-2.4M76.9 217.9v2.4M44.1 189.3h-2.4M82.2 217.9v2.4M44.1 184.7h-2.4M86.5 217.9v2.4M44.1 180.9h-2.4M90.1 217.9v2.4M44.1 177.8h-2.4M93.3 217.9v2.4M44.1 175.0h-2.4M96.1 217.9v2.4M44.1 172.6h-2.4M114.9 217.9v2.4M44.1 156.1h-2.4M124.5 217.9v2.4M44.1 147.7h-2.4M131.3 217.9v2.4M44.1 141.8h-2.4M136.6 217.9v2.4M44.1 137.2h-2.4M140.9 217.9v2.4M44.1 133.4h-2.4M144.6 217.9v2.4M44.1 130.3h-2.4M147.7 217.9v2.4M44.1 127.5h-2.4M150.5 217.9v2.4M44.1 125.1h-2.4M169.4 217.9v2.4M44.1 108.6h-2.4M179.0 217.9v2.4M44.1 100.2h-2.4M185.8 217.9v2.4M44.1 94.3h-2.4M191.1 217.9v2.4M44.1 89.7h-2.4M195.4 217.9v2.4M44.1 85.9h-2.4M199.0 217.9v2.4M44.1 82.8h-2.4M202.2 217.9v2.4M44.1 80.0h-2.4M205.0 217.9v2.4M44.1 77.6h-2.4M223.8 217.9v2.4M44.1 61.1h-2.4M233.4 217.9v2.4M44.1 52.7h-2.4M240.2 217.9v2.4M44.1 46.8h-2.4M245.5 217.9v2.4M44.1 42.2h-2.4M249.8 217.9v2.4M44.1 38.4h-2.4M253.5 217.9v2.4M44.1 35.3h-2.4M256.6 217.9v2.4M44.1 32.5h-2.4M259.4 217.9v2.4M44.1 30.1h-2.4M44.1 217.9v4.5M44.1 217.9h-4.5M98.5 217.9v4.5M44.1 170.4h-4.5M153.0 217.9v4.5M44.1 122.9h-4.5M207.4 217.9v4.5M44.1 75.4h-4.5M261.9 217.9v4.5M44.1 27.9h-4.5" stroke="#000" stroke-width="1.2" fill="none"/>
<text x="36.0" y="228.2" class="tl">10<tspan dy="-3.2" font-size="6.5">0</tspan></text>
<text transform="translate(42.9,226.0) rotate(-90)" class="tl">10<tspan dy="-3.2" font-size="6.5">0</tspan></text>
<text x="90.5" y="228.2" class="tl">10<tspan dy="-3.2" font-size="6.5">1</tspan></text>
<text transform="translate(42.9,178.5) rotate(-90)" class="tl">10<tspan dy="-3.2" font-size="6.5">1</tspan></text>
<text x="144.9" y="228.2" class="tl">10<tspan dy="-3.2" font-size="6.5">2</tspan></text>
<text transform="translate(42.9,131.0) rotate(-90)" class="tl">10<tspan dy="-3.2" font-size="6.5">2</tspan></text>
<text x="199.3" y="228.2" class="tl">10<tspan dy="-3.2" font-size="6.5">3</tspan></text>
<text transform="translate(42.9,83.5) rotate(-90)" class="tl">10<tspan dy="-3.2" font-size="6.5">3</tspan></text>
<text x="253.8" y="228.2" class="tl">10<tspan dy="-3.2" font-size="6.5">4</tspan></text>
<text transform="translate(42.9,36.0) rotate(-90)" class="tl">10<tspan dy="-3.2" font-size="6.5">4</tspan></text>
<rect x="289.6" y="29.0" width="216.9" height="189.7" fill="none" stroke="#000" stroke-width="1.6"/>
<line x1="401.3" y1="29.0" x2="400.1" y2="218.7" stroke="#000" stroke-width="1.5"/>
<line x1="289.6" y1="122.6" x2="506.5" y2="122.6" stroke="#000" stroke-width="1.5"/>
<path d="M305.9 218.7v2.4M289.6 204.4h-2.4M315.5 218.7v2.4M289.6 196.1h-2.4M322.2 218.7v2.4M289.6 190.1h-2.4M327.5 218.7v2.4M289.6 185.6h-2.4M331.8 218.7v2.4M289.6 181.8h-2.4M335.4 218.7v2.4M289.6 178.6h-2.4M338.6 218.7v2.4M289.6 175.9h-2.4M341.3 218.7v2.4M289.6 173.4h-2.4M360.1 218.7v2.4M289.6 157.0h-2.4M369.7 218.7v2.4M289.6 148.6h-2.4M376.5 218.7v2.4M289.6 142.7h-2.4M381.7 218.7v2.4M289.6 138.1h-2.4M386.0 218.7v2.4M289.6 134.4h-2.4M389.7 218.7v2.4M289.6 131.2h-2.4M392.8 218.7v2.4M289.6 128.4h-2.4M395.6 218.7v2.4M289.6 126.0h-2.4M414.4 218.7v2.4M289.6 109.6h-2.4M423.9 218.7v2.4M289.6 101.2h-2.4M430.7 218.7v2.4M289.6 95.3h-2.4M436.0 218.7v2.4M289.6 90.7h-2.4M440.2 218.7v2.4M289.6 86.9h-2.4M443.9 218.7v2.4M289.6 83.8h-2.4M447.0 218.7v2.4M289.6 81.0h-2.4M449.8 218.7v2.4M289.6 78.6h-2.4M468.6 218.7v2.4M289.6 62.1h-2.4M478.1 218.7v2.4M289.6 53.8h-2.4M484.9 218.7v2.4M289.6 47.9h-2.4M490.2 218.7v2.4M289.6 43.3h-2.4M494.5 218.7v2.4M289.6 39.5h-2.4M498.1 218.7v2.4M289.6 36.3h-2.4M501.2 218.7v2.4M289.6 33.6h-2.4M504.0 218.7v2.4M289.6 31.2h-2.4M289.6 218.7v4.5M289.6 218.7h-4.5M343.8 218.7v4.5M289.6 171.3h-4.5M398.1 218.7v4.5M289.6 123.8h-4.5M452.3 218.7v4.5M289.6 76.4h-4.5M506.5 218.7v4.5M289.6 29.0h-4.5" stroke="#000" stroke-width="1.2" fill="none"/>
<text x="281.5" y="229.0" class="tl">10<tspan dy="-3.2" font-size="6.5">0</tspan></text>
<text transform="translate(288.4,226.8) rotate(-90)" class="tl">10<tspan dy="-3.2" font-size="6.5">0</tspan></text>
<text x="335.7" y="229.0" class="tl">10<tspan dy="-3.2" font-size="6.5">1</tspan></text>
<text transform="translate(288.4,179.4) rotate(-90)" class="tl">10<tspan dy="-3.2" font-size="6.5">1</tspan></text>
<text x="389.9" y="229.0" class="tl">10<tspan dy="-3.2" font-size="6.5">2</tspan></text>
<text transform="translate(288.4,131.9) rotate(-90)" class="tl">10<tspan dy="-3.2" font-size="6.5">2</tspan></text>
<text x="444.2" y="229.0" class="tl">10<tspan dy="-3.2" font-size="6.5">3</tspan></text>
<text transform="translate(288.4,84.5) rotate(-90)" class="tl">10<tspan dy="-3.2" font-size="6.5">3</tspan></text>
<text x="498.4" y="229.0" class="tl">10<tspan dy="-3.2" font-size="6.5">4</tspan></text>
<text transform="translate(288.4,37.1) rotate(-90)" class="tl">10<tspan dy="-3.2" font-size="6.5">4</tspan></text>
<rect x="44.1" y="269.0" width="216.9" height="189.7" fill="none" stroke="#000" stroke-width="1.6"/>
<line x1="155.0" y1="269.0" x2="155.4" y2="458.7" stroke="#000" stroke-width="1.5"/>
<line x1="44.1" y1="363.2" x2="261.0" y2="363.2" stroke="#000" stroke-width="1.5"/>
<path d="M60.4 458.7v2.4M44.1 444.4h-2.4M70.0 458.7v2.4M44.1 436.1h-2.4M76.7 458.7v2.4M44.1 430.1h-2.4M82.0 458.7v2.4M44.1 425.6h-2.4M86.3 458.7v2.4M44.1 421.8h-2.4M89.9 458.7v2.4M44.1 418.6h-2.4M93.1 458.7v2.4M44.1 415.9h-2.4M95.8 458.7v2.4M44.1 413.4h-2.4M114.6 458.7v2.4M44.1 397.0h-2.4M124.2 458.7v2.4M44.1 388.6h-2.4M131.0 458.7v2.4M44.1 382.7h-2.4M136.2 458.7v2.4M44.1 378.1h-2.4M140.5 458.7v2.4M44.1 374.4h-2.4M144.2 458.7v2.4M44.1 371.2h-2.4M147.3 458.7v2.4M44.1 368.4h-2.4M150.1 458.7v2.4M44.1 366.0h-2.4M168.9 458.7v2.4M44.1 349.6h-2.4M178.4 458.7v2.4M44.1 341.2h-2.4M185.2 458.7v2.4M44.1 335.3h-2.4M190.5 458.7v2.4M44.1 330.7h-2.4M194.7 458.7v2.4M44.1 326.9h-2.4M198.4 458.7v2.4M44.1 323.8h-2.4M201.5 458.7v2.4M44.1 321.0h-2.4M204.3 458.7v2.4M44.1 318.6h-2.4M223.1 458.7v2.4M44.1 302.1h-2.4M232.6 458.7v2.4M44.1 293.8h-2.4M239.4 458.7v2.4M44.1 287.9h-2.4M244.7 458.7v2.4M44.1 283.3h-2.4M249.0 458.7v2.4M44.1 279.5h-2.4M252.6 458.7v2.4M44.1 276.3h-2.4M255.7 458.7v2.4M44.1 273.6h-2.4M258.5 458.7v2.4M44.1 271.2h-2.4M44.1 458.7v4.5M44.1 458.7h-4.5M98.3 458.7v4.5M44.1 411.3h-4.5M152.6 458.7v4.5M44.1 363.9h-4.5M206.8 458.7v4.5M44.1 316.4h-4.5M261.0 458.7v4.5M44.1 269.0h-4.5" stroke="#000" stroke-width="1.2" fill="none"/>
<text x="36.0" y="469.0" class="tl">10<tspan dy="-3.2" font-size="6.5">0</tspan></text>
<text transform="translate(42.9,466.8) rotate(-90)" class="tl">10<tspan dy="-3.2" font-size="6.5">0</tspan></text>
<text x="90.2" y="469.0" class="tl">10<tspan dy="-3.2" font-size="6.5">1</tspan></text>
<text transform="translate(42.9,419.4) rotate(-90)" class="tl">10<tspan dy="-3.2" font-size="6.5">1</tspan></text>
<text x="144.5" y="469.0" class="tl">10<tspan dy="-3.2" font-size="6.5">2</tspan></text>
<text transform="translate(42.9,372.0) rotate(-90)" class="tl">10<tspan dy="-3.2" font-size="6.5">2</tspan></text>
<text x="198.7" y="469.0" class="tl">10<tspan dy="-3.2" font-size="6.5">3</tspan></text>
<text transform="translate(42.9,324.5) rotate(-90)" class="tl">10<tspan dy="-3.2" font-size="6.5">3</tspan></text>
<text x="252.9" y="469.0" class="tl">10<tspan dy="-3.2" font-size="6.5">4</tspan></text>
<text transform="translate(42.9,277.1) rotate(-90)" class="tl">10<tspan dy="-3.2" font-size="6.5">4</tspan></text>
<rect x="288.4" y="270.8" width="217.4" height="188.1" fill="none" stroke="#000" stroke-width="1.6"/>
<line x1="400.5" y1="270.8" x2="398.9" y2="458.9" stroke="#000" stroke-width="1.5"/>
<line x1="288.4" y1="364.5" x2="505.8" y2="364.5" stroke="#000" stroke-width="1.5"/>
<path d="M304.8 458.9v2.4M288.4 444.7h-2.4M314.3 458.9v2.4M288.4 436.5h-2.4M321.1 458.9v2.4M288.4 430.6h-2.4M326.4 458.9v2.4M288.4 426.0h-2.4M330.7 458.9v2.4M288.4 422.3h-2.4M334.3 458.9v2.4M288.4 419.2h-2.4M337.5 458.9v2.4M288.4 416.4h-2.4M340.3 458.9v2.4M288.4 414.0h-2.4M359.1 458.9v2.4M288.4 397.7h-2.4M368.7 458.9v2.4M288.4 389.4h-2.4M375.5 458.9v2.4M288.4 383.6h-2.4M380.7 458.9v2.4M288.4 379.0h-2.4M385.0 458.9v2.4M288.4 375.3h-2.4M388.7 458.9v2.4M288.4 372.1h-2.4M391.8 458.9v2.4M288.4 369.4h-2.4M394.6 458.9v2.4M288.4 367.0h-2.4M413.5 458.9v2.4M288.4 350.7h-2.4M423.0 458.9v2.4M288.4 342.4h-2.4M429.8 458.9v2.4M288.4 336.5h-2.4M435.1 458.9v2.4M288.4 332.0h-2.4M439.4 458.9v2.4M288.4 328.3h-2.4M443.0 458.9v2.4M288.4 325.1h-2.4M446.2 458.9v2.4M288.4 322.4h-2.4M449.0 458.9v2.4M288.4 320.0h-2.4M467.8 458.9v2.4M288.4 303.7h-2.4M477.4 458.9v2.4M288.4 295.4h-2.4M484.2 458.9v2.4M288.4 289.5h-2.4M489.4 458.9v2.4M288.4 285.0h-2.4M493.7 458.9v2.4M288.4 281.2h-2.4M497.4 458.9v2.4M288.4 278.1h-2.4M500.5 458.9v2.4M288.4 275.4h-2.4M503.3 458.9v2.4M288.4 273.0h-2.4M288.4 458.9v4.5M288.4 458.9h-4.5M342.8 458.9v4.5M288.4 411.9h-4.5M397.1 458.9v4.5M288.4 364.9h-4.5M451.4 458.9v4.5M288.4 317.8h-4.5M505.8 458.9v4.5M288.4 270.8h-4.5" stroke="#000" stroke-width="1.2" fill="none"/>
<text x="280.3" y="469.2" class="tl">10<tspan dy="-3.2" font-size="6.5">0</tspan></text>
<text transform="translate(287.2,467.0) rotate(-90)" class="tl">10<tspan dy="-3.2" font-size="6.5">0</tspan></text>
<text x="334.6" y="469.2" class="tl">10<tspan dy="-3.2" font-size="6.5">1</tspan></text>
<text transform="translate(287.2,420.0) rotate(-90)" class="tl">10<tspan dy="-3.2" font-size="6.5">1</tspan></text>
<text x="389.0" y="469.2" class="tl">10<tspan dy="-3.2" font-size="6.5">2</tspan></text>
<text transform="translate(287.2,373.0) rotate(-90)" class="tl">10<tspan dy="-3.2" font-size="6.5">2</tspan></text>
<text x="443.3" y="469.2" class="tl">10<tspan dy="-3.2" font-size="6.5">3</tspan></text>
<text transform="translate(287.2,325.9) rotate(-90)" class="tl">10<tspan dy="-3.2" font-size="6.5">3</tspan></text>
<text x="497.7" y="469.2" class="tl">10<tspan dy="-3.2" font-size="6.5">4</tspan></text>
<text transform="translate(287.2,278.9) rotate(-90)" class="tl">10<tspan dy="-3.2" font-size="6.5">4</tspan></text>
<text class="tx" font-size="19.50" x="106.00" y="15.50" textLength="93.50" lengthAdjust="spacingAndGlyphs">SAC + IL-2</text>
<text class="tx" font-size="19.50" x="297.50" y="15.00" textLength="173.50" lengthAdjust="spacingAndGlyphs">IL-10 + CD40/CD32T</text>
<text class="tx" font-size="19.50" x="59.50" y="256.50" textLength="167.50" lengthAdjust="spacingAndGlyphs">IL-4 + CD40/CD32T</text>
<text class="tx" font-size="19.50" x="273.00" y="256.00" textLength="245.50" lengthAdjust="spacingAndGlyphs">SAC/IL-2/IL-10/CD40/CD32T</text>
<text class="tx" font-size="14.60" x="49.25" y="43.75" textLength="37.25" lengthAdjust="spacingAndGlyphs">81 %</text>
<text class="tx" font-size="14.60" x="215.00" y="213.50" textLength="43.00" lengthAdjust="spacingAndGlyphs">6.7 %</text>
<text class="tx" font-size="14.60" x="293.50" y="46.50" textLength="38.00" lengthAdjust="spacingAndGlyphs">82 %</text>
<text class="tx" font-size="14.60" x="462.50" y="213.00" textLength="41.50" lengthAdjust="spacingAndGlyphs">6.2 %</text>
<text class="tx" font-size="14.60" x="47.00" y="285.50" textLength="38.00" lengthAdjust="spacingAndGlyphs">83 %</text>
<text class="tx" font-size="14.60" x="217.00" y="453.50" textLength="41.00" lengthAdjust="spacingAndGlyphs">1.4 %</text>
<text class="tx" font-size="14.60" x="293.50" y="286.00" textLength="37.50" lengthAdjust="spacingAndGlyphs">55 %</text>
<text class="tx" font-size="14.60" x="467.00" y="455.50" textLength="36.00" lengthAdjust="spacingAndGlyphs">18 %</text>
<text class="tx" font-size="19.50" x="217.00" y="499.50" textLength="99.00" lengthAdjust="spacingAndGlyphs">CD38-FITC</text>
<text class="tx" font-size="19.50" transform="translate(15.50,275.00) rotate(-90)" textLength="79.00" lengthAdjust="spacingAndGlyphs">CD20-PE</text>
<line x1="6.9" y1="120" x2="6.9" y2="182" stroke="#000" stroke-width="1.8"/>
<path d="M7.1 103L2.2 121.3L12 121.3Z" fill="#000"/>
<path d="M5.7 281V490.7H205.4" stroke="#000" stroke-width="1.8" fill="none"/>
<line x1="325" y1="494" x2="378" y2="494" stroke="#000" stroke-width="1.8"/>
<path d="M395.5 494.3L375.8 489.8L375.8 499Z" fill="#000"/>
</svg>
</body></html>
